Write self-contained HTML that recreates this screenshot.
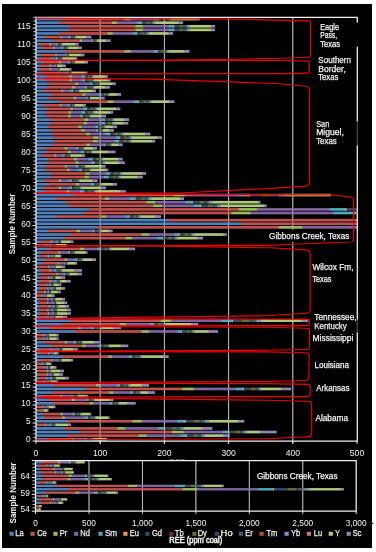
<!DOCTYPE html>
<html><head><meta charset="utf-8"><style>
html,body{margin:0;padding:0;background:#fff;}
body{width:376px;height:552px;overflow:hidden;}
svg{display:block;will-change:transform;}
</style></head><body>
<svg width="376" height="552" viewBox="0 0 376 552">
<defs><clipPath id="ct"><rect x="36" y="16" width="321.2" height="425"/></clipPath><clipPath id="cb"><rect x="35.6" y="460" width="320.6" height="51.2"/></clipPath></defs>
<rect x="0" y="0" width="376" height="552" fill="#fff"/>
<rect x="2" y="4" width="370" height="544" fill="#000"/>
<line x1="100.20" y1="17.3" x2="100.20" y2="443.8" stroke="#BFBFBF" stroke-width="1"/>
<line x1="164.40" y1="17.3" x2="164.40" y2="443.8" stroke="#BFBFBF" stroke-width="1"/>
<line x1="228.60" y1="17.3" x2="228.60" y2="443.8" stroke="#BFBFBF" stroke-width="1"/>
<line x1="292.80" y1="17.3" x2="292.80" y2="443.8" stroke="#BFBFBF" stroke-width="1"/>
<g clip-path="url(#ct)">
<rect x="36.00" y="437.87" width="11.80" height="2.66" fill="#4F81BD"/>
<rect x="47.40" y="437.87" width="24.90" height="2.66" fill="#C0504D"/>
<rect x="71.90" y="437.87" width="1.50" height="2.66" fill="#9BBB59"/>
<rect x="73.00" y="437.87" width="12.10" height="2.66" fill="#8064A2"/>
<rect x="84.70" y="437.87" width="2.26" height="2.66" fill="#4BACC6"/>
<rect x="86.56" y="437.87" width="0.83" height="2.66" fill="#F79646"/>
<rect x="86.98" y="437.87" width="2.26" height="2.66" fill="#2C4D75"/>
<rect x="88.84" y="437.87" width="0.67" height="2.66" fill="#772C2A"/>
<rect x="89.11" y="437.87" width="1.99" height="2.66" fill="#5F7530"/>
<rect x="90.70" y="437.87" width="0.72" height="2.66" fill="#4D3B62"/>
<rect x="91.02" y="437.87" width="1.36" height="2.66" fill="#276A7C"/>
<rect x="91.98" y="437.87" width="0.56" height="2.66" fill="#B65708"/>
<rect x="92.14" y="437.87" width="1.30" height="2.66" fill="#729ACA"/>
<rect x="93.04" y="437.87" width="0.56" height="2.66" fill="#CD7371"/>
<rect x="93.20" y="437.87" width="13.10" height="2.66" fill="#AFC97A"/>
<rect x="105.90" y="437.87" width="1.50" height="2.66" fill="#9983B5"/>
<rect x="36.00" y="434.28" width="32.30" height="2.66" fill="#4F81BD"/>
<rect x="67.90" y="434.28" width="71.00" height="2.66" fill="#C0504D"/>
<rect x="138.50" y="434.28" width="8.50" height="2.66" fill="#9BBB59"/>
<rect x="146.60" y="434.28" width="34.30" height="2.66" fill="#8064A2"/>
<rect x="180.50" y="434.28" width="5.76" height="2.66" fill="#4BACC6"/>
<rect x="185.86" y="434.28" width="1.62" height="2.66" fill="#F79646"/>
<rect x="187.08" y="434.28" width="5.76" height="2.66" fill="#2C4D75"/>
<rect x="192.44" y="434.28" width="1.17" height="2.66" fill="#772C2A"/>
<rect x="193.21" y="434.28" width="4.99" height="2.66" fill="#5F7530"/>
<rect x="197.80" y="434.28" width="1.32" height="2.66" fill="#4D3B62"/>
<rect x="198.72" y="434.28" width="3.16" height="2.66" fill="#276A7C"/>
<rect x="201.48" y="434.28" width="0.86" height="2.66" fill="#B65708"/>
<rect x="201.94" y="434.28" width="3.00" height="2.66" fill="#729ACA"/>
<rect x="204.54" y="434.28" width="0.86" height="2.66" fill="#CD7371"/>
<rect x="205.00" y="434.28" width="18.40" height="2.66" fill="#AFC97A"/>
<rect x="223.00" y="434.28" width="6.80" height="2.66" fill="#9983B5"/>
<rect x="36.00" y="430.69" width="44.60" height="2.66" fill="#4F81BD"/>
<rect x="80.20" y="430.69" width="92.20" height="2.66" fill="#C0504D"/>
<rect x="172.00" y="430.69" width="12.10" height="2.66" fill="#9BBB59"/>
<rect x="183.70" y="430.69" width="39.70" height="2.66" fill="#8064A2"/>
<rect x="223.00" y="430.69" width="5.65" height="2.66" fill="#4BACC6"/>
<rect x="228.25" y="430.69" width="1.60" height="2.66" fill="#F79646"/>
<rect x="229.45" y="430.69" width="5.65" height="2.66" fill="#2C4D75"/>
<rect x="234.70" y="430.69" width="1.15" height="2.66" fill="#772C2A"/>
<rect x="235.45" y="430.69" width="4.90" height="2.66" fill="#5F7530"/>
<rect x="239.95" y="430.69" width="1.30" height="2.66" fill="#4D3B62"/>
<rect x="240.85" y="430.69" width="3.10" height="2.66" fill="#276A7C"/>
<rect x="243.55" y="430.69" width="0.85" height="2.66" fill="#B65708"/>
<rect x="244.00" y="430.69" width="2.95" height="2.66" fill="#729ACA"/>
<rect x="246.55" y="430.69" width="0.85" height="2.66" fill="#CD7371"/>
<rect x="247.00" y="430.69" width="13.20" height="2.66" fill="#AFC97A"/>
<rect x="259.80" y="430.69" width="16.80" height="2.66" fill="#9983B5"/>
<rect x="36.00" y="427.10" width="28.30" height="2.66" fill="#4F81BD"/>
<rect x="63.90" y="427.10" width="53.80" height="2.66" fill="#C0504D"/>
<rect x="117.30" y="427.10" width="8.40" height="2.66" fill="#9BBB59"/>
<rect x="125.30" y="427.10" width="33.20" height="2.66" fill="#8064A2"/>
<rect x="158.10" y="427.10" width="6.13" height="2.66" fill="#4BACC6"/>
<rect x="163.83" y="427.10" width="1.71" height="2.66" fill="#F79646"/>
<rect x="165.14" y="427.10" width="6.13" height="2.66" fill="#2C4D75"/>
<rect x="170.87" y="427.10" width="1.22" height="2.66" fill="#772C2A"/>
<rect x="171.69" y="427.10" width="5.31" height="2.66" fill="#5F7530"/>
<rect x="176.60" y="427.10" width="1.38" height="2.66" fill="#4D3B62"/>
<rect x="177.59" y="427.10" width="3.35" height="2.66" fill="#276A7C"/>
<rect x="180.53" y="427.10" width="0.89" height="2.66" fill="#B65708"/>
<rect x="181.02" y="427.10" width="3.18" height="2.66" fill="#729ACA"/>
<rect x="183.81" y="427.10" width="0.89" height="2.66" fill="#CD7371"/>
<rect x="184.30" y="427.10" width="17.90" height="2.66" fill="#AFC97A"/>
<rect x="201.80" y="427.10" width="10.60" height="2.66" fill="#9983B5"/>
<rect x="36.00" y="423.51" width="2.00" height="2.66" fill="#4F81BD"/>
<rect x="37.60" y="423.51" width="7.60" height="2.66" fill="#C0504D"/>
<rect x="44.80" y="423.51" width="1.20" height="2.66" fill="#9BBB59"/>
<rect x="45.60" y="423.51" width="4.40" height="2.66" fill="#8064A2"/>
<rect x="49.60" y="423.51" width="1.78" height="2.66" fill="#4BACC6"/>
<rect x="50.98" y="423.51" width="0.71" height="2.66" fill="#F79646"/>
<rect x="51.29" y="423.51" width="1.78" height="2.66" fill="#2C4D75"/>
<rect x="52.67" y="423.51" width="0.60" height="2.66" fill="#772C2A"/>
<rect x="52.87" y="423.51" width="1.58" height="2.66" fill="#5F7530"/>
<rect x="54.05" y="423.51" width="0.64" height="2.66" fill="#4D3B62"/>
<rect x="54.29" y="423.51" width="1.11" height="2.66" fill="#276A7C"/>
<rect x="54.99" y="423.51" width="0.52" height="2.66" fill="#B65708"/>
<rect x="55.11" y="423.51" width="1.07" height="2.66" fill="#729ACA"/>
<rect x="55.78" y="423.51" width="0.52" height="2.66" fill="#CD7371"/>
<rect x="55.90" y="423.51" width="12.40" height="2.66" fill="#AFC97A"/>
<rect x="67.90" y="423.51" width="3.10" height="2.66" fill="#9983B5"/>
<rect x="36.00" y="419.92" width="32.30" height="2.66" fill="#4F81BD"/>
<rect x="67.90" y="419.92" width="64.70" height="2.66" fill="#C0504D"/>
<rect x="132.20" y="419.92" width="9.90" height="2.66" fill="#9BBB59"/>
<rect x="141.70" y="419.92" width="36.00" height="2.66" fill="#8064A2"/>
<rect x="177.30" y="419.92" width="7.38" height="2.66" fill="#4BACC6"/>
<rect x="184.28" y="419.92" width="2.00" height="2.66" fill="#F79646"/>
<rect x="185.87" y="419.92" width="7.38" height="2.66" fill="#2C4D75"/>
<rect x="192.85" y="419.92" width="1.40" height="2.66" fill="#772C2A"/>
<rect x="193.85" y="419.92" width="6.38" height="2.66" fill="#5F7530"/>
<rect x="199.83" y="419.92" width="1.60" height="2.66" fill="#4D3B62"/>
<rect x="201.03" y="419.92" width="3.99" height="2.66" fill="#276A7C"/>
<rect x="204.61" y="419.92" width="1.00" height="2.66" fill="#B65708"/>
<rect x="205.21" y="419.92" width="3.79" height="2.66" fill="#729ACA"/>
<rect x="208.60" y="419.92" width="1.00" height="2.66" fill="#CD7371"/>
<rect x="209.20" y="419.92" width="29.10" height="2.66" fill="#AFC97A"/>
<rect x="237.90" y="419.92" width="6.40" height="2.66" fill="#9983B5"/>
<rect x="36.00" y="416.33" width="8.40" height="2.66" fill="#4F81BD"/>
<rect x="44.00" y="416.33" width="18.40" height="2.66" fill="#C0504D"/>
<rect x="62.00" y="416.33" width="3.10" height="2.66" fill="#9BBB59"/>
<rect x="64.70" y="416.33" width="20.40" height="2.66" fill="#8064A2"/>
<rect x="84.70" y="416.33" width="2.87" height="2.66" fill="#4BACC6"/>
<rect x="87.17" y="416.33" width="0.97" height="2.66" fill="#F79646"/>
<rect x="87.74" y="416.33" width="2.87" height="2.66" fill="#2C4D75"/>
<rect x="90.21" y="416.33" width="0.75" height="2.66" fill="#772C2A"/>
<rect x="90.56" y="416.33" width="2.52" height="2.66" fill="#5F7530"/>
<rect x="92.68" y="416.33" width="0.82" height="2.66" fill="#4D3B62"/>
<rect x="93.10" y="416.33" width="1.67" height="2.66" fill="#276A7C"/>
<rect x="94.38" y="416.33" width="0.61" height="2.66" fill="#B65708"/>
<rect x="94.59" y="416.33" width="1.60" height="2.66" fill="#729ACA"/>
<rect x="95.79" y="416.33" width="0.61" height="2.66" fill="#CD7371"/>
<rect x="96.00" y="416.33" width="12.10" height="2.66" fill="#AFC97A"/>
<rect x="107.70" y="416.33" width="1.90" height="2.66" fill="#9983B5"/>
<rect x="36.00" y="412.74" width="6.30" height="2.66" fill="#4F81BD"/>
<rect x="41.90" y="412.74" width="18.90" height="2.66" fill="#C0504D"/>
<rect x="60.40" y="412.74" width="2.60" height="2.66" fill="#9BBB59"/>
<rect x="62.60" y="412.74" width="10.00" height="2.66" fill="#8064A2"/>
<rect x="72.20" y="412.74" width="2.43" height="2.66" fill="#4BACC6"/>
<rect x="74.23" y="412.74" width="0.87" height="2.66" fill="#F79646"/>
<rect x="74.70" y="412.74" width="2.43" height="2.66" fill="#2C4D75"/>
<rect x="76.73" y="412.74" width="0.69" height="2.66" fill="#772C2A"/>
<rect x="77.02" y="412.74" width="2.14" height="2.66" fill="#5F7530"/>
<rect x="78.77" y="412.74" width="0.75" height="2.66" fill="#4D3B62"/>
<rect x="79.12" y="412.74" width="1.45" height="2.66" fill="#276A7C"/>
<rect x="80.16" y="412.74" width="0.57" height="2.66" fill="#B65708"/>
<rect x="80.34" y="412.74" width="1.39" height="2.66" fill="#729ACA"/>
<rect x="81.33" y="412.74" width="0.57" height="2.66" fill="#CD7371"/>
<rect x="81.50" y="412.74" width="8.30" height="2.66" fill="#AFC97A"/>
<rect x="89.40" y="412.74" width="2.00" height="2.66" fill="#9983B5"/>
<rect x="36.00" y="409.15" width="1.50" height="2.66" fill="#4F81BD"/>
<rect x="37.10" y="409.15" width="4.90" height="2.66" fill="#C0504D"/>
<rect x="41.60" y="409.15" width="1.20" height="2.66" fill="#9BBB59"/>
<rect x="42.40" y="409.15" width="1.60" height="2.66" fill="#8064A2"/>
<rect x="43.60" y="409.15" width="0.49" height="2.66" fill="#4BACC6"/>
<rect x="43.69" y="409.15" width="0.42" height="2.66" fill="#F79646"/>
<rect x="43.71" y="409.15" width="0.49" height="2.66" fill="#2C4D75"/>
<rect x="43.80" y="409.15" width="0.41" height="2.66" fill="#772C2A"/>
<rect x="43.81" y="409.15" width="0.48" height="2.66" fill="#5F7530"/>
<rect x="43.88" y="409.15" width="0.41" height="2.66" fill="#4D3B62"/>
<rect x="43.90" y="409.15" width="0.45" height="2.66" fill="#276A7C"/>
<rect x="43.94" y="409.15" width="0.41" height="2.66" fill="#B65708"/>
<rect x="43.95" y="409.15" width="0.44" height="2.66" fill="#729ACA"/>
<rect x="43.99" y="409.15" width="0.41" height="2.66" fill="#CD7371"/>
<rect x="44.00" y="409.15" width="3.60" height="2.66" fill="#AFC97A"/>
<rect x="47.20" y="409.15" width="1.30" height="2.66" fill="#9983B5"/>
<rect x="36.00" y="405.56" width="2.00" height="2.66" fill="#4F81BD"/>
<rect x="37.60" y="405.56" width="5.20" height="2.66" fill="#C0504D"/>
<rect x="42.40" y="405.56" width="1.20" height="2.66" fill="#9BBB59"/>
<rect x="43.20" y="405.56" width="4.40" height="2.66" fill="#8064A2"/>
<rect x="47.20" y="405.56" width="0.75" height="2.66" fill="#4BACC6"/>
<rect x="47.55" y="405.56" width="0.48" height="2.66" fill="#F79646"/>
<rect x="47.63" y="405.56" width="0.75" height="2.66" fill="#2C4D75"/>
<rect x="47.98" y="405.56" width="0.45" height="2.66" fill="#772C2A"/>
<rect x="48.03" y="405.56" width="0.70" height="2.66" fill="#5F7530"/>
<rect x="48.33" y="405.56" width="0.46" height="2.66" fill="#4D3B62"/>
<rect x="48.39" y="405.56" width="0.58" height="2.66" fill="#276A7C"/>
<rect x="48.57" y="405.56" width="0.43" height="2.66" fill="#B65708"/>
<rect x="48.60" y="405.56" width="0.57" height="2.66" fill="#729ACA"/>
<rect x="48.77" y="405.56" width="0.43" height="2.66" fill="#CD7371"/>
<rect x="48.80" y="405.56" width="5.20" height="2.66" fill="#AFC97A"/>
<rect x="53.60" y="405.56" width="1.90" height="2.66" fill="#9983B5"/>
<rect x="36.00" y="401.97" width="18.40" height="2.66" fill="#4F81BD"/>
<rect x="54.00" y="401.97" width="35.80" height="2.66" fill="#C0504D"/>
<rect x="89.40" y="401.97" width="4.40" height="2.66" fill="#9BBB59"/>
<rect x="93.40" y="401.97" width="16.80" height="2.66" fill="#8064A2"/>
<rect x="109.80" y="401.97" width="2.50" height="2.66" fill="#4BACC6"/>
<rect x="111.90" y="401.97" width="0.88" height="2.66" fill="#F79646"/>
<rect x="112.38" y="401.97" width="2.50" height="2.66" fill="#2C4D75"/>
<rect x="114.48" y="401.97" width="0.70" height="2.66" fill="#772C2A"/>
<rect x="114.78" y="401.97" width="2.20" height="2.66" fill="#5F7530"/>
<rect x="116.58" y="401.97" width="0.76" height="2.66" fill="#4D3B62"/>
<rect x="116.94" y="401.97" width="1.48" height="2.66" fill="#276A7C"/>
<rect x="118.02" y="401.97" width="0.58" height="2.66" fill="#B65708"/>
<rect x="118.20" y="401.97" width="1.42" height="2.66" fill="#729ACA"/>
<rect x="119.22" y="401.97" width="0.58" height="2.66" fill="#CD7371"/>
<rect x="119.40" y="401.97" width="7.80" height="2.66" fill="#AFC97A"/>
<rect x="126.80" y="401.97" width="8.90" height="2.66" fill="#9983B5"/>
<rect x="36.00" y="398.38" width="12.00" height="2.66" fill="#4F81BD"/>
<rect x="47.60" y="398.38" width="24.70" height="2.66" fill="#C0504D"/>
<rect x="71.90" y="398.38" width="3.30" height="2.66" fill="#9BBB59"/>
<rect x="74.80" y="398.38" width="11.90" height="2.66" fill="#8064A2"/>
<rect x="86.30" y="398.38" width="2.28" height="2.66" fill="#4BACC6"/>
<rect x="88.18" y="398.38" width="0.83" height="2.66" fill="#F79646"/>
<rect x="88.61" y="398.38" width="2.28" height="2.66" fill="#2C4D75"/>
<rect x="90.49" y="398.38" width="0.67" height="2.66" fill="#772C2A"/>
<rect x="90.76" y="398.38" width="2.01" height="2.66" fill="#5F7530"/>
<rect x="92.37" y="398.38" width="0.72" height="2.66" fill="#4D3B62"/>
<rect x="92.70" y="398.38" width="1.37" height="2.66" fill="#276A7C"/>
<rect x="93.66" y="398.38" width="0.56" height="2.66" fill="#B65708"/>
<rect x="93.82" y="398.38" width="1.31" height="2.66" fill="#729ACA"/>
<rect x="94.74" y="398.38" width="0.56" height="2.66" fill="#CD7371"/>
<rect x="94.90" y="398.38" width="15.30" height="2.66" fill="#AFC97A"/>
<rect x="109.80" y="398.38" width="3.70" height="2.66" fill="#9983B5"/>
<rect x="36.00" y="394.79" width="7.30" height="2.66" fill="#4F81BD"/>
<rect x="42.90" y="394.79" width="17.90" height="2.66" fill="#C0504D"/>
<rect x="60.40" y="394.79" width="2.30" height="2.66" fill="#9BBB59"/>
<rect x="62.30" y="394.79" width="9.20" height="2.66" fill="#8064A2"/>
<rect x="71.10" y="394.79" width="1.98" height="2.66" fill="#4BACC6"/>
<rect x="72.67" y="394.79" width="0.76" height="2.66" fill="#F79646"/>
<rect x="73.03" y="394.79" width="1.98" height="2.66" fill="#2C4D75"/>
<rect x="74.61" y="394.79" width="0.62" height="2.66" fill="#772C2A"/>
<rect x="74.83" y="394.79" width="1.75" height="2.66" fill="#5F7530"/>
<rect x="76.18" y="394.79" width="0.67" height="2.66" fill="#4D3B62"/>
<rect x="76.45" y="394.79" width="1.21" height="2.66" fill="#276A7C"/>
<rect x="77.26" y="394.79" width="0.54" height="2.66" fill="#B65708"/>
<rect x="77.40" y="394.79" width="1.17" height="2.66" fill="#729ACA"/>
<rect x="78.16" y="394.79" width="0.54" height="2.66" fill="#CD7371"/>
<rect x="78.30" y="394.79" width="7.10" height="2.66" fill="#AFC97A"/>
<rect x="85.00" y="394.79" width="3.30" height="2.66" fill="#9983B5"/>
<rect x="36.00" y="391.20" width="16.80" height="2.66" fill="#4F81BD"/>
<rect x="52.40" y="391.20" width="57.20" height="2.66" fill="#C0504D"/>
<rect x="109.20" y="391.20" width="4.60" height="2.66" fill="#9BBB59"/>
<rect x="113.40" y="391.20" width="17.00" height="2.66" fill="#8064A2"/>
<rect x="130.00" y="391.20" width="2.83" height="2.66" fill="#4BACC6"/>
<rect x="132.43" y="391.20" width="0.96" height="2.66" fill="#F79646"/>
<rect x="132.98" y="391.20" width="2.83" height="2.66" fill="#2C4D75"/>
<rect x="135.41" y="391.20" width="0.75" height="2.66" fill="#772C2A"/>
<rect x="135.76" y="391.20" width="2.48" height="2.66" fill="#5F7530"/>
<rect x="137.84" y="391.20" width="0.82" height="2.66" fill="#4D3B62"/>
<rect x="138.26" y="391.20" width="1.65" height="2.66" fill="#276A7C"/>
<rect x="139.50" y="391.20" width="0.61" height="2.66" fill="#B65708"/>
<rect x="139.71" y="391.20" width="1.58" height="2.66" fill="#729ACA"/>
<rect x="140.89" y="391.20" width="0.61" height="2.66" fill="#CD7371"/>
<rect x="141.10" y="391.20" width="7.40" height="2.66" fill="#AFC97A"/>
<rect x="148.10" y="391.20" width="6.80" height="2.66" fill="#9983B5"/>
<rect x="36.00" y="387.61" width="49.90" height="2.66" fill="#4F81BD"/>
<rect x="85.50" y="387.61" width="97.50" height="2.66" fill="#C0504D"/>
<rect x="182.60" y="387.61" width="11.50" height="2.66" fill="#9BBB59"/>
<rect x="193.70" y="387.61" width="42.50" height="2.66" fill="#8064A2"/>
<rect x="235.80" y="387.61" width="7.40" height="2.66" fill="#4BACC6"/>
<rect x="242.80" y="387.61" width="1.70" height="2.66" fill="#F79646"/>
<rect x="244.10" y="387.61" width="5.90" height="2.66" fill="#2C4D75"/>
<rect x="249.60" y="387.61" width="1.90" height="2.66" fill="#772C2A"/>
<rect x="251.10" y="387.61" width="4.90" height="2.66" fill="#5F7530"/>
<rect x="255.60" y="387.61" width="1.40" height="2.66" fill="#4D3B62"/>
<rect x="256.60" y="387.61" width="2.40" height="2.66" fill="#276A7C"/>
<rect x="258.60" y="387.61" width="0.90" height="2.66" fill="#B65708"/>
<rect x="259.10" y="387.61" width="2.20" height="2.66" fill="#729ACA"/>
<rect x="260.90" y="387.61" width="20.60" height="2.66" fill="#AFC97A"/>
<rect x="281.10" y="387.61" width="10.00" height="2.66" fill="#9983B5"/>
<rect x="36.00" y="384.01" width="18.70" height="2.66" fill="#4F81BD"/>
<rect x="54.30" y="384.01" width="42.10" height="2.66" fill="#C0504D"/>
<rect x="96.00" y="384.01" width="4.60" height="2.66" fill="#9BBB59"/>
<rect x="100.20" y="384.01" width="16.40" height="2.66" fill="#8064A2"/>
<rect x="116.20" y="384.01" width="3.42" height="2.66" fill="#4BACC6"/>
<rect x="119.22" y="384.01" width="1.09" height="2.66" fill="#F79646"/>
<rect x="119.91" y="384.01" width="3.42" height="2.66" fill="#2C4D75"/>
<rect x="122.93" y="384.01" width="0.83" height="2.66" fill="#772C2A"/>
<rect x="123.36" y="384.01" width="2.99" height="2.66" fill="#5F7530"/>
<rect x="125.95" y="384.01" width="0.92" height="2.66" fill="#4D3B62"/>
<rect x="126.46" y="384.01" width="1.95" height="2.66" fill="#276A7C"/>
<rect x="128.02" y="384.01" width="0.66" height="2.66" fill="#B65708"/>
<rect x="128.27" y="384.01" width="1.87" height="2.66" fill="#729ACA"/>
<rect x="129.74" y="384.01" width="0.66" height="2.66" fill="#CD7371"/>
<rect x="130.00" y="384.01" width="12.10" height="2.66" fill="#AFC97A"/>
<rect x="141.70" y="384.01" width="7.40" height="2.66" fill="#9983B5"/>
<rect x="36.00" y="380.42" width="2.00" height="2.66" fill="#4F81BD"/>
<rect x="37.60" y="380.42" width="7.30" height="2.66" fill="#C0504D"/>
<rect x="44.50" y="380.42" width="1.10" height="2.66" fill="#9BBB59"/>
<rect x="45.20" y="380.42" width="3.20" height="2.66" fill="#8064A2"/>
<rect x="48.00" y="380.42" width="1.01" height="2.66" fill="#4BACC6"/>
<rect x="48.61" y="380.42" width="0.54" height="2.66" fill="#F79646"/>
<rect x="48.75" y="380.42" width="1.01" height="2.66" fill="#2C4D75"/>
<rect x="49.37" y="380.42" width="0.49" height="2.66" fill="#772C2A"/>
<rect x="49.45" y="380.42" width="0.92" height="2.66" fill="#5F7530"/>
<rect x="49.98" y="380.42" width="0.50" height="2.66" fill="#4D3B62"/>
<rect x="50.08" y="380.42" width="0.71" height="2.66" fill="#276A7C"/>
<rect x="50.40" y="380.42" width="0.45" height="2.66" fill="#B65708"/>
<rect x="50.45" y="380.42" width="0.70" height="2.66" fill="#729ACA"/>
<rect x="50.75" y="380.42" width="0.45" height="2.66" fill="#CD7371"/>
<rect x="50.80" y="380.42" width="5.50" height="2.66" fill="#AFC97A"/>
<rect x="55.90" y="380.42" width="2.40" height="2.66" fill="#9983B5"/>
<rect x="36.00" y="376.83" width="3.10" height="2.66" fill="#4F81BD"/>
<rect x="38.70" y="376.83" width="7.70" height="2.66" fill="#C0504D"/>
<rect x="46.00" y="376.83" width="1.10" height="2.66" fill="#9BBB59"/>
<rect x="46.70" y="376.83" width="4.10" height="2.66" fill="#8064A2"/>
<rect x="50.40" y="376.83" width="1.78" height="2.66" fill="#4BACC6"/>
<rect x="51.78" y="376.83" width="0.71" height="2.66" fill="#F79646"/>
<rect x="52.09" y="376.83" width="1.78" height="2.66" fill="#2C4D75"/>
<rect x="53.47" y="376.83" width="0.60" height="2.66" fill="#772C2A"/>
<rect x="53.67" y="376.83" width="1.58" height="2.66" fill="#5F7530"/>
<rect x="54.85" y="376.83" width="0.64" height="2.66" fill="#4D3B62"/>
<rect x="55.09" y="376.83" width="1.11" height="2.66" fill="#276A7C"/>
<rect x="55.79" y="376.83" width="0.52" height="2.66" fill="#B65708"/>
<rect x="55.91" y="376.83" width="1.07" height="2.66" fill="#729ACA"/>
<rect x="56.58" y="376.83" width="0.52" height="2.66" fill="#CD7371"/>
<rect x="56.70" y="376.83" width="8.40" height="2.66" fill="#AFC97A"/>
<rect x="64.70" y="376.83" width="4.10" height="2.66" fill="#9983B5"/>
<rect x="36.00" y="373.24" width="2.50" height="2.66" fill="#4F81BD"/>
<rect x="38.10" y="373.24" width="9.50" height="2.66" fill="#C0504D"/>
<rect x="47.20" y="373.24" width="1.20" height="2.66" fill="#9BBB59"/>
<rect x="48.00" y="373.24" width="2.80" height="2.66" fill="#8064A2"/>
<rect x="50.40" y="373.24" width="1.25" height="2.66" fill="#4BACC6"/>
<rect x="51.25" y="373.24" width="0.59" height="2.66" fill="#F79646"/>
<rect x="51.45" y="373.24" width="1.25" height="2.66" fill="#2C4D75"/>
<rect x="52.30" y="373.24" width="0.52" height="2.66" fill="#772C2A"/>
<rect x="52.42" y="373.24" width="1.13" height="2.66" fill="#5F7530"/>
<rect x="53.15" y="373.24" width="0.55" height="2.66" fill="#4D3B62"/>
<rect x="53.30" y="373.24" width="0.84" height="2.66" fill="#276A7C"/>
<rect x="53.74" y="373.24" width="0.47" height="2.66" fill="#B65708"/>
<rect x="53.81" y="373.24" width="0.81" height="2.66" fill="#729ACA"/>
<rect x="54.23" y="373.24" width="0.47" height="2.66" fill="#CD7371"/>
<rect x="54.30" y="373.24" width="5.20" height="2.66" fill="#AFC97A"/>
<rect x="59.10" y="373.24" width="3.90" height="2.66" fill="#9983B5"/>
<rect x="36.00" y="369.65" width="2.00" height="2.66" fill="#4F81BD"/>
<rect x="37.60" y="369.65" width="9.50" height="2.66" fill="#C0504D"/>
<rect x="46.70" y="369.65" width="1.30" height="2.66" fill="#9BBB59"/>
<rect x="47.60" y="369.65" width="3.20" height="2.66" fill="#8064A2"/>
<rect x="50.40" y="369.65" width="0.64" height="2.66" fill="#4BACC6"/>
<rect x="50.64" y="369.65" width="0.45" height="2.66" fill="#F79646"/>
<rect x="50.70" y="369.65" width="0.64" height="2.66" fill="#2C4D75"/>
<rect x="50.94" y="369.65" width="0.43" height="2.66" fill="#772C2A"/>
<rect x="50.97" y="369.65" width="0.61" height="2.66" fill="#5F7530"/>
<rect x="51.18" y="369.65" width="0.44" height="2.66" fill="#4D3B62"/>
<rect x="51.22" y="369.65" width="0.52" height="2.66" fill="#276A7C"/>
<rect x="51.34" y="369.65" width="0.42" height="2.66" fill="#B65708"/>
<rect x="51.36" y="369.65" width="0.52" height="2.66" fill="#729ACA"/>
<rect x="51.48" y="369.65" width="0.42" height="2.66" fill="#CD7371"/>
<rect x="51.50" y="369.65" width="8.80" height="2.66" fill="#AFC97A"/>
<rect x="59.90" y="369.65" width="4.10" height="2.66" fill="#9983B5"/>
<rect x="36.00" y="366.06" width="1.80" height="2.66" fill="#4F81BD"/>
<rect x="37.40" y="366.06" width="6.60" height="2.66" fill="#C0504D"/>
<rect x="43.60" y="366.06" width="1.10" height="2.66" fill="#9BBB59"/>
<rect x="44.30" y="366.06" width="3.20" height="2.66" fill="#8064A2"/>
<rect x="47.10" y="366.06" width="1.17" height="2.66" fill="#4BACC6"/>
<rect x="47.87" y="366.06" width="0.57" height="2.66" fill="#F79646"/>
<rect x="48.04" y="366.06" width="1.17" height="2.66" fill="#2C4D75"/>
<rect x="48.81" y="366.06" width="0.51" height="2.66" fill="#772C2A"/>
<rect x="48.92" y="366.06" width="1.06" height="2.66" fill="#5F7530"/>
<rect x="49.57" y="366.06" width="0.53" height="2.66" fill="#4D3B62"/>
<rect x="49.70" y="366.06" width="0.79" height="2.66" fill="#276A7C"/>
<rect x="50.10" y="366.06" width="0.47" height="2.66" fill="#B65708"/>
<rect x="50.16" y="366.06" width="0.77" height="2.66" fill="#729ACA"/>
<rect x="50.53" y="366.06" width="0.47" height="2.66" fill="#CD7371"/>
<rect x="50.60" y="366.06" width="3.80" height="2.66" fill="#AFC97A"/>
<rect x="54.00" y="366.06" width="2.50" height="2.66" fill="#9983B5"/>
<rect x="36.00" y="362.47" width="1.50" height="2.66" fill="#4F81BD"/>
<rect x="37.10" y="362.47" width="4.90" height="2.66" fill="#C0504D"/>
<rect x="41.60" y="362.47" width="1.20" height="2.66" fill="#9BBB59"/>
<rect x="42.40" y="362.47" width="2.50" height="2.66" fill="#8064A2"/>
<rect x="44.50" y="362.47" width="0.88" height="2.66" fill="#4BACC6"/>
<rect x="44.98" y="362.47" width="0.51" height="2.66" fill="#F79646"/>
<rect x="45.09" y="362.47" width="0.88" height="2.66" fill="#2C4D75"/>
<rect x="45.57" y="362.47" width="0.47" height="2.66" fill="#772C2A"/>
<rect x="45.64" y="362.47" width="0.81" height="2.66" fill="#5F7530"/>
<rect x="46.05" y="362.47" width="0.48" height="2.66" fill="#4D3B62"/>
<rect x="46.14" y="362.47" width="0.65" height="2.66" fill="#276A7C"/>
<rect x="46.38" y="362.47" width="0.44" height="2.66" fill="#B65708"/>
<rect x="46.43" y="362.47" width="0.63" height="2.66" fill="#729ACA"/>
<rect x="46.66" y="362.47" width="0.44" height="2.66" fill="#CD7371"/>
<rect x="46.70" y="362.47" width="3.30" height="2.66" fill="#AFC97A"/>
<rect x="49.60" y="362.47" width="2.00" height="2.66" fill="#9983B5"/>
<rect x="36.00" y="358.88" width="5.20" height="2.66" fill="#4F81BD"/>
<rect x="40.80" y="358.88" width="10.80" height="2.66" fill="#C0504D"/>
<rect x="51.20" y="358.88" width="1.60" height="2.66" fill="#9BBB59"/>
<rect x="52.40" y="358.88" width="5.20" height="2.66" fill="#8064A2"/>
<rect x="57.20" y="358.88" width="1.45" height="2.66" fill="#4BACC6"/>
<rect x="58.25" y="358.88" width="0.64" height="2.66" fill="#F79646"/>
<rect x="58.49" y="358.88" width="1.45" height="2.66" fill="#2C4D75"/>
<rect x="59.54" y="358.88" width="0.55" height="2.66" fill="#772C2A"/>
<rect x="59.69" y="358.88" width="1.30" height="2.66" fill="#5F7530"/>
<rect x="60.59" y="358.88" width="0.58" height="2.66" fill="#4D3B62"/>
<rect x="60.77" y="358.88" width="0.94" height="2.66" fill="#276A7C"/>
<rect x="61.31" y="358.88" width="0.49" height="2.66" fill="#B65708"/>
<rect x="61.40" y="358.88" width="0.91" height="2.66" fill="#729ACA"/>
<rect x="61.91" y="358.88" width="0.49" height="2.66" fill="#CD7371"/>
<rect x="62.00" y="358.88" width="9.00" height="2.66" fill="#AFC97A"/>
<rect x="70.60" y="358.88" width="2.50" height="2.66" fill="#9983B5"/>
<rect x="36.00" y="355.29" width="27.00" height="2.66" fill="#4F81BD"/>
<rect x="62.60" y="355.29" width="46.10" height="2.66" fill="#C0504D"/>
<rect x="108.30" y="355.29" width="4.00" height="2.66" fill="#9BBB59"/>
<rect x="111.90" y="355.29" width="16.80" height="2.66" fill="#8064A2"/>
<rect x="128.30" y="355.29" width="3.33" height="2.66" fill="#4BACC6"/>
<rect x="131.23" y="355.29" width="1.07" height="2.66" fill="#F79646"/>
<rect x="131.90" y="355.29" width="3.33" height="2.66" fill="#2C4D75"/>
<rect x="134.83" y="355.29" width="0.82" height="2.66" fill="#772C2A"/>
<rect x="135.25" y="355.29" width="2.91" height="2.66" fill="#5F7530"/>
<rect x="137.76" y="355.29" width="0.90" height="2.66" fill="#4D3B62"/>
<rect x="138.27" y="355.29" width="1.91" height="2.66" fill="#276A7C"/>
<rect x="139.77" y="355.29" width="0.65" height="2.66" fill="#B65708"/>
<rect x="140.02" y="355.29" width="1.82" height="2.66" fill="#729ACA"/>
<rect x="141.45" y="355.29" width="0.65" height="2.66" fill="#CD7371"/>
<rect x="141.70" y="355.29" width="21.70" height="2.66" fill="#AFC97A"/>
<rect x="163.00" y="355.29" width="5.70" height="2.66" fill="#9983B5"/>
<rect x="36.00" y="351.70" width="4.40" height="2.66" fill="#4F81BD"/>
<rect x="40.00" y="351.70" width="8.40" height="2.66" fill="#C0504D"/>
<rect x="48.00" y="351.70" width="1.20" height="2.66" fill="#9BBB59"/>
<rect x="48.80" y="351.70" width="4.00" height="2.66" fill="#8064A2"/>
<rect x="52.40" y="351.70" width="0.75" height="2.66" fill="#4BACC6"/>
<rect x="52.75" y="351.70" width="0.48" height="2.66" fill="#F79646"/>
<rect x="52.83" y="351.70" width="0.75" height="2.66" fill="#2C4D75"/>
<rect x="53.18" y="351.70" width="0.45" height="2.66" fill="#772C2A"/>
<rect x="53.23" y="351.70" width="0.70" height="2.66" fill="#5F7530"/>
<rect x="53.53" y="351.70" width="0.46" height="2.66" fill="#4D3B62"/>
<rect x="53.59" y="351.70" width="0.58" height="2.66" fill="#276A7C"/>
<rect x="53.77" y="351.70" width="0.43" height="2.66" fill="#B65708"/>
<rect x="53.80" y="351.70" width="0.57" height="2.66" fill="#729ACA"/>
<rect x="53.97" y="351.70" width="0.43" height="2.66" fill="#CD7371"/>
<rect x="54.00" y="351.70" width="3.10" height="2.66" fill="#AFC97A"/>
<rect x="56.70" y="351.70" width="2.00" height="2.66" fill="#9983B5"/>
<rect x="36.00" y="348.11" width="4.40" height="2.66" fill="#4F81BD"/>
<rect x="40.00" y="348.11" width="11.20" height="2.66" fill="#C0504D"/>
<rect x="50.80" y="348.11" width="1.10" height="2.66" fill="#9BBB59"/>
<rect x="51.50" y="348.11" width="6.10" height="2.66" fill="#8064A2"/>
<rect x="57.20" y="348.11" width="1.69" height="2.66" fill="#4BACC6"/>
<rect x="58.49" y="348.11" width="0.70" height="2.66" fill="#F79646"/>
<rect x="58.79" y="348.11" width="1.69" height="2.66" fill="#2C4D75"/>
<rect x="60.08" y="348.11" width="0.58" height="2.66" fill="#772C2A"/>
<rect x="60.26" y="348.11" width="1.51" height="2.66" fill="#5F7530"/>
<rect x="61.37" y="348.11" width="0.62" height="2.66" fill="#4D3B62"/>
<rect x="61.59" y="348.11" width="1.06" height="2.66" fill="#276A7C"/>
<rect x="62.25" y="348.11" width="0.51" height="2.66" fill="#B65708"/>
<rect x="62.36" y="348.11" width="1.03" height="2.66" fill="#729ACA"/>
<rect x="62.99" y="348.11" width="0.51" height="2.66" fill="#CD7371"/>
<rect x="63.10" y="348.11" width="10.00" height="2.66" fill="#AFC97A"/>
<rect x="72.70" y="348.11" width="5.20" height="2.66" fill="#9983B5"/>
<rect x="36.00" y="344.52" width="15.20" height="2.66" fill="#4F81BD"/>
<rect x="50.80" y="344.52" width="31.90" height="2.66" fill="#C0504D"/>
<rect x="82.30" y="344.52" width="3.60" height="2.66" fill="#9BBB59"/>
<rect x="85.50" y="344.52" width="13.00" height="2.66" fill="#8064A2"/>
<rect x="98.10" y="344.52" width="2.96" height="2.66" fill="#4BACC6"/>
<rect x="100.66" y="344.52" width="0.98" height="2.66" fill="#F79646"/>
<rect x="101.24" y="344.52" width="2.96" height="2.66" fill="#2C4D75"/>
<rect x="103.80" y="344.52" width="0.77" height="2.66" fill="#772C2A"/>
<rect x="104.17" y="344.52" width="2.59" height="2.66" fill="#5F7530"/>
<rect x="106.36" y="344.52" width="0.84" height="2.66" fill="#4D3B62"/>
<rect x="106.80" y="344.52" width="1.72" height="2.66" fill="#276A7C"/>
<rect x="108.12" y="344.52" width="0.62" height="2.66" fill="#B65708"/>
<rect x="108.34" y="344.52" width="1.64" height="2.66" fill="#729ACA"/>
<rect x="109.58" y="344.52" width="0.62" height="2.66" fill="#CD7371"/>
<rect x="109.80" y="344.52" width="11.10" height="2.66" fill="#AFC97A"/>
<rect x="120.50" y="344.52" width="7.80" height="2.66" fill="#9983B5"/>
<rect x="36.00" y="340.93" width="8.90" height="2.66" fill="#4F81BD"/>
<rect x="44.50" y="340.93" width="20.60" height="2.66" fill="#C0504D"/>
<rect x="64.70" y="340.93" width="2.50" height="2.66" fill="#9BBB59"/>
<rect x="66.80" y="340.93" width="7.10" height="2.66" fill="#8064A2"/>
<rect x="73.50" y="340.93" width="2.50" height="2.66" fill="#4BACC6"/>
<rect x="75.60" y="340.93" width="0.88" height="2.66" fill="#F79646"/>
<rect x="76.08" y="340.93" width="2.50" height="2.66" fill="#2C4D75"/>
<rect x="78.18" y="340.93" width="0.70" height="2.66" fill="#772C2A"/>
<rect x="78.48" y="340.93" width="2.20" height="2.66" fill="#5F7530"/>
<rect x="80.28" y="340.93" width="0.76" height="2.66" fill="#4D3B62"/>
<rect x="80.64" y="340.93" width="1.48" height="2.66" fill="#276A7C"/>
<rect x="81.72" y="340.93" width="0.58" height="2.66" fill="#B65708"/>
<rect x="81.90" y="340.93" width="1.42" height="2.66" fill="#729ACA"/>
<rect x="82.92" y="340.93" width="0.58" height="2.66" fill="#CD7371"/>
<rect x="83.10" y="340.93" width="11.20" height="2.66" fill="#AFC97A"/>
<rect x="93.90" y="340.93" width="5.70" height="2.66" fill="#9983B5"/>
<rect x="36.00" y="337.34" width="1.50" height="2.66" fill="#4F81BD"/>
<rect x="37.10" y="337.34" width="6.80" height="2.66" fill="#C0504D"/>
<rect x="43.50" y="337.34" width="1.20" height="2.66" fill="#9BBB59"/>
<rect x="44.30" y="337.34" width="3.30" height="2.66" fill="#8064A2"/>
<rect x="47.20" y="337.34" width="0.99" height="2.66" fill="#4BACC6"/>
<rect x="47.79" y="337.34" width="0.53" height="2.66" fill="#F79646"/>
<rect x="47.93" y="337.34" width="0.99" height="2.66" fill="#2C4D75"/>
<rect x="48.52" y="337.34" width="0.48" height="2.66" fill="#772C2A"/>
<rect x="48.60" y="337.34" width="0.91" height="2.66" fill="#5F7530"/>
<rect x="49.11" y="337.34" width="0.50" height="2.66" fill="#4D3B62"/>
<rect x="49.21" y="337.34" width="0.70" height="2.66" fill="#276A7C"/>
<rect x="49.51" y="337.34" width="0.45" height="2.66" fill="#B65708"/>
<rect x="49.56" y="337.34" width="0.69" height="2.66" fill="#729ACA"/>
<rect x="49.85" y="337.34" width="0.45" height="2.66" fill="#CD7371"/>
<rect x="49.90" y="337.34" width="6.40" height="2.66" fill="#AFC97A"/>
<rect x="55.90" y="337.34" width="2.80" height="2.66" fill="#9983B5"/>
<rect x="36.00" y="333.75" width="1.20" height="2.66" fill="#4F81BD"/>
<rect x="36.80" y="333.75" width="6.50" height="2.66" fill="#C0504D"/>
<rect x="42.90" y="333.75" width="1.10" height="2.66" fill="#9BBB59"/>
<rect x="43.60" y="333.75" width="3.20" height="2.66" fill="#8064A2"/>
<rect x="46.40" y="333.75" width="1.10" height="2.66" fill="#4BACC6"/>
<rect x="47.10" y="333.75" width="0.56" height="2.66" fill="#F79646"/>
<rect x="47.26" y="333.75" width="1.10" height="2.66" fill="#2C4D75"/>
<rect x="47.96" y="333.75" width="0.50" height="2.66" fill="#772C2A"/>
<rect x="48.06" y="333.75" width="1.00" height="2.66" fill="#5F7530"/>
<rect x="48.66" y="333.75" width="0.52" height="2.66" fill="#4D3B62"/>
<rect x="48.78" y="333.75" width="0.76" height="2.66" fill="#276A7C"/>
<rect x="49.14" y="333.75" width="0.46" height="2.66" fill="#B65708"/>
<rect x="49.20" y="333.75" width="0.74" height="2.66" fill="#729ACA"/>
<rect x="49.54" y="333.75" width="0.46" height="2.66" fill="#CD7371"/>
<rect x="49.60" y="333.75" width="6.70" height="2.66" fill="#AFC97A"/>
<rect x="55.90" y="333.75" width="2.80" height="2.66" fill="#9983B5"/>
<rect x="36.00" y="330.15" width="39.20" height="2.66" fill="#4F81BD"/>
<rect x="74.80" y="330.15" width="67.30" height="2.66" fill="#C0504D"/>
<rect x="141.70" y="330.15" width="7.90" height="2.66" fill="#9BBB59"/>
<rect x="149.20" y="330.15" width="28.90" height="2.66" fill="#8064A2"/>
<rect x="177.70" y="330.15" width="4.12" height="2.66" fill="#4BACC6"/>
<rect x="181.42" y="330.15" width="1.25" height="2.66" fill="#F79646"/>
<rect x="182.27" y="330.15" width="4.12" height="2.66" fill="#2C4D75"/>
<rect x="185.99" y="330.15" width="0.93" height="2.66" fill="#772C2A"/>
<rect x="186.52" y="330.15" width="3.59" height="2.66" fill="#5F7530"/>
<rect x="189.71" y="330.15" width="1.04" height="2.66" fill="#4D3B62"/>
<rect x="190.34" y="330.15" width="2.31" height="2.66" fill="#276A7C"/>
<rect x="192.26" y="330.15" width="0.72" height="2.66" fill="#B65708"/>
<rect x="192.57" y="330.15" width="2.21" height="2.66" fill="#729ACA"/>
<rect x="194.38" y="330.15" width="0.72" height="2.66" fill="#CD7371"/>
<rect x="194.70" y="330.15" width="14.20" height="2.66" fill="#AFC97A"/>
<rect x="208.50" y="330.15" width="9.40" height="2.66" fill="#9983B5"/>
<rect x="36.00" y="326.56" width="14.80" height="2.66" fill="#4F81BD"/>
<rect x="50.40" y="326.56" width="28.30" height="2.66" fill="#C0504D"/>
<rect x="78.30" y="326.56" width="2.80" height="2.66" fill="#9BBB59"/>
<rect x="80.70" y="326.56" width="10.70" height="2.66" fill="#8064A2"/>
<rect x="91.00" y="326.56" width="2.65" height="2.66" fill="#4BACC6"/>
<rect x="93.25" y="326.56" width="0.92" height="2.66" fill="#F79646"/>
<rect x="93.77" y="326.56" width="2.65" height="2.66" fill="#2C4D75"/>
<rect x="96.02" y="326.56" width="0.72" height="2.66" fill="#772C2A"/>
<rect x="96.34" y="326.56" width="2.33" height="2.66" fill="#5F7530"/>
<rect x="98.27" y="326.56" width="0.79" height="2.66" fill="#4D3B62"/>
<rect x="98.66" y="326.56" width="1.56" height="2.66" fill="#276A7C"/>
<rect x="99.82" y="326.56" width="0.59" height="2.66" fill="#B65708"/>
<rect x="100.01" y="326.56" width="1.49" height="2.66" fill="#729ACA"/>
<rect x="101.11" y="326.56" width="0.59" height="2.66" fill="#CD7371"/>
<rect x="101.30" y="326.56" width="12.10" height="2.66" fill="#AFC97A"/>
<rect x="113.00" y="326.56" width="7.90" height="2.66" fill="#9983B5"/>
<rect x="36.00" y="322.97" width="27.50" height="2.66" fill="#4F81BD"/>
<rect x="63.10" y="322.97" width="56.70" height="2.66" fill="#C0504D"/>
<rect x="119.40" y="322.97" width="6.80" height="2.66" fill="#9BBB59"/>
<rect x="125.80" y="322.97" width="23.80" height="2.66" fill="#8064A2"/>
<rect x="149.20" y="322.97" width="4.08" height="2.66" fill="#4BACC6"/>
<rect x="152.88" y="322.97" width="1.24" height="2.66" fill="#F79646"/>
<rect x="153.72" y="322.97" width="4.08" height="2.66" fill="#2C4D75"/>
<rect x="157.39" y="322.97" width="0.93" height="2.66" fill="#772C2A"/>
<rect x="157.92" y="322.97" width="3.55" height="2.66" fill="#5F7530"/>
<rect x="161.07" y="322.97" width="1.03" height="2.66" fill="#4D3B62"/>
<rect x="161.70" y="322.97" width="2.29" height="2.66" fill="#276A7C"/>
<rect x="163.59" y="322.97" width="0.72" height="2.66" fill="#B65708"/>
<rect x="163.90" y="322.97" width="2.19" height="2.66" fill="#729ACA"/>
<rect x="165.69" y="322.97" width="0.72" height="2.66" fill="#CD7371"/>
<rect x="166.00" y="322.97" width="25.50" height="2.66" fill="#AFC97A"/>
<rect x="191.10" y="322.97" width="7.20" height="2.66" fill="#9983B5"/>
<rect x="36.00" y="319.38" width="35.50" height="2.66" fill="#4F81BD"/>
<rect x="71.10" y="319.38" width="90.20" height="2.66" fill="#C0504D"/>
<rect x="160.90" y="319.38" width="10.80" height="2.66" fill="#9BBB59"/>
<rect x="171.30" y="319.38" width="50.40" height="2.66" fill="#8064A2"/>
<rect x="221.30" y="319.38" width="11.00" height="2.66" fill="#4BACC6"/>
<rect x="231.90" y="319.38" width="1.50" height="2.66" fill="#F79646"/>
<rect x="233.00" y="319.38" width="7.00" height="2.66" fill="#2C4D75"/>
<rect x="239.60" y="319.38" width="2.40" height="2.66" fill="#772C2A"/>
<rect x="241.60" y="319.38" width="8.40" height="2.66" fill="#5F7530"/>
<rect x="249.60" y="319.38" width="2.40" height="2.66" fill="#4D3B62"/>
<rect x="251.60" y="319.38" width="4.40" height="2.66" fill="#276A7C"/>
<rect x="255.60" y="319.38" width="1.40" height="2.66" fill="#B65708"/>
<rect x="256.60" y="319.38" width="4.90" height="2.66" fill="#729ACA"/>
<rect x="261.10" y="319.38" width="40.90" height="2.66" fill="#AFC97A"/>
<rect x="301.60" y="319.38" width="6.70" height="2.66" fill="#9983B5"/>
<rect x="36.00" y="315.79" width="3.60" height="2.66" fill="#4F81BD"/>
<rect x="39.20" y="315.79" width="8.80" height="2.66" fill="#C0504D"/>
<rect x="47.60" y="315.79" width="1.10" height="2.66" fill="#9BBB59"/>
<rect x="48.30" y="315.79" width="4.50" height="2.66" fill="#8064A2"/>
<rect x="52.40" y="315.79" width="1.17" height="2.66" fill="#4BACC6"/>
<rect x="53.17" y="315.79" width="0.57" height="2.66" fill="#F79646"/>
<rect x="53.34" y="315.79" width="1.17" height="2.66" fill="#2C4D75"/>
<rect x="54.11" y="315.79" width="0.51" height="2.66" fill="#772C2A"/>
<rect x="54.22" y="315.79" width="1.06" height="2.66" fill="#5F7530"/>
<rect x="54.87" y="315.79" width="0.53" height="2.66" fill="#4D3B62"/>
<rect x="55.00" y="315.79" width="0.79" height="2.66" fill="#276A7C"/>
<rect x="55.40" y="315.79" width="0.47" height="2.66" fill="#B65708"/>
<rect x="55.46" y="315.79" width="0.77" height="2.66" fill="#729ACA"/>
<rect x="55.83" y="315.79" width="0.47" height="2.66" fill="#CD7371"/>
<rect x="55.90" y="315.79" width="7.60" height="2.66" fill="#AFC97A"/>
<rect x="63.10" y="315.79" width="4.10" height="2.66" fill="#9983B5"/>
<rect x="36.00" y="312.20" width="4.10" height="2.66" fill="#4F81BD"/>
<rect x="39.70" y="312.20" width="8.70" height="2.66" fill="#C0504D"/>
<rect x="48.00" y="312.20" width="1.20" height="2.66" fill="#9BBB59"/>
<rect x="48.80" y="312.20" width="4.30" height="2.66" fill="#8064A2"/>
<rect x="52.70" y="312.20" width="1.47" height="2.66" fill="#4BACC6"/>
<rect x="53.77" y="312.20" width="0.64" height="2.66" fill="#F79646"/>
<rect x="54.02" y="312.20" width="1.47" height="2.66" fill="#2C4D75"/>
<rect x="55.09" y="312.20" width="0.55" height="2.66" fill="#772C2A"/>
<rect x="55.24" y="312.20" width="1.32" height="2.66" fill="#5F7530"/>
<rect x="56.16" y="312.20" width="0.58" height="2.66" fill="#4D3B62"/>
<rect x="56.34" y="312.20" width="0.95" height="2.66" fill="#276A7C"/>
<rect x="56.90" y="312.20" width="0.49" height="2.66" fill="#B65708"/>
<rect x="56.99" y="312.20" width="0.92" height="2.66" fill="#729ACA"/>
<rect x="57.51" y="312.20" width="0.49" height="2.66" fill="#CD7371"/>
<rect x="57.60" y="312.20" width="9.90" height="2.66" fill="#AFC97A"/>
<rect x="67.10" y="312.20" width="3.90" height="2.66" fill="#9983B5"/>
<rect x="36.00" y="308.61" width="4.10" height="2.66" fill="#4F81BD"/>
<rect x="39.70" y="308.61" width="7.90" height="2.66" fill="#C0504D"/>
<rect x="47.20" y="308.61" width="1.20" height="2.66" fill="#9BBB59"/>
<rect x="48.00" y="308.61" width="4.30" height="2.66" fill="#8064A2"/>
<rect x="51.90" y="308.61" width="1.65" height="2.66" fill="#4BACC6"/>
<rect x="53.15" y="308.61" width="0.68" height="2.66" fill="#F79646"/>
<rect x="53.43" y="308.61" width="1.65" height="2.66" fill="#2C4D75"/>
<rect x="54.68" y="308.61" width="0.58" height="2.66" fill="#772C2A"/>
<rect x="54.86" y="308.61" width="1.47" height="2.66" fill="#5F7530"/>
<rect x="55.93" y="308.61" width="0.61" height="2.66" fill="#4D3B62"/>
<rect x="56.14" y="308.61" width="1.04" height="2.66" fill="#276A7C"/>
<rect x="56.78" y="308.61" width="0.51" height="2.66" fill="#B65708"/>
<rect x="56.89" y="308.61" width="1.01" height="2.66" fill="#729ACA"/>
<rect x="57.49" y="308.61" width="0.51" height="2.66" fill="#CD7371"/>
<rect x="57.60" y="308.61" width="9.60" height="2.66" fill="#AFC97A"/>
<rect x="66.80" y="308.61" width="4.20" height="2.66" fill="#9983B5"/>
<rect x="36.00" y="305.02" width="4.10" height="2.66" fill="#4F81BD"/>
<rect x="39.70" y="305.02" width="9.50" height="2.66" fill="#C0504D"/>
<rect x="48.80" y="305.02" width="1.20" height="2.66" fill="#9BBB59"/>
<rect x="49.60" y="305.02" width="4.30" height="2.66" fill="#8064A2"/>
<rect x="53.50" y="305.02" width="1.45" height="2.66" fill="#4BACC6"/>
<rect x="54.55" y="305.02" width="0.64" height="2.66" fill="#F79646"/>
<rect x="54.79" y="305.02" width="1.45" height="2.66" fill="#2C4D75"/>
<rect x="55.84" y="305.02" width="0.55" height="2.66" fill="#772C2A"/>
<rect x="55.99" y="305.02" width="1.30" height="2.66" fill="#5F7530"/>
<rect x="56.89" y="305.02" width="0.58" height="2.66" fill="#4D3B62"/>
<rect x="57.07" y="305.02" width="0.94" height="2.66" fill="#276A7C"/>
<rect x="57.61" y="305.02" width="0.49" height="2.66" fill="#B65708"/>
<rect x="57.70" y="305.02" width="0.91" height="2.66" fill="#729ACA"/>
<rect x="58.21" y="305.02" width="0.49" height="2.66" fill="#CD7371"/>
<rect x="58.30" y="305.02" width="7.60" height="2.66" fill="#AFC97A"/>
<rect x="65.50" y="305.02" width="3.60" height="2.66" fill="#9983B5"/>
<rect x="36.00" y="301.43" width="3.60" height="2.66" fill="#4F81BD"/>
<rect x="39.20" y="301.43" width="8.40" height="2.66" fill="#C0504D"/>
<rect x="47.20" y="301.43" width="1.20" height="2.66" fill="#9BBB59"/>
<rect x="48.00" y="301.43" width="5.10" height="2.66" fill="#8064A2"/>
<rect x="52.70" y="301.43" width="1.27" height="2.66" fill="#4BACC6"/>
<rect x="53.58" y="301.43" width="0.60" height="2.66" fill="#F79646"/>
<rect x="53.78" y="301.43" width="1.27" height="2.66" fill="#2C4D75"/>
<rect x="54.65" y="301.43" width="0.52" height="2.66" fill="#772C2A"/>
<rect x="54.78" y="301.43" width="1.15" height="2.66" fill="#5F7530"/>
<rect x="55.53" y="301.43" width="0.55" height="2.66" fill="#4D3B62"/>
<rect x="55.68" y="301.43" width="0.85" height="2.66" fill="#276A7C"/>
<rect x="56.13" y="301.43" width="0.48" height="2.66" fill="#B65708"/>
<rect x="56.20" y="301.43" width="0.82" height="2.66" fill="#729ACA"/>
<rect x="56.63" y="301.43" width="0.48" height="2.66" fill="#CD7371"/>
<rect x="56.70" y="301.43" width="7.60" height="2.66" fill="#AFC97A"/>
<rect x="63.90" y="301.43" width="3.30" height="2.66" fill="#9983B5"/>
<rect x="36.00" y="297.84" width="3.60" height="2.66" fill="#4F81BD"/>
<rect x="39.20" y="297.84" width="8.40" height="2.66" fill="#C0504D"/>
<rect x="47.20" y="297.84" width="1.20" height="2.66" fill="#9BBB59"/>
<rect x="48.00" y="297.84" width="4.30" height="2.66" fill="#8064A2"/>
<rect x="51.90" y="297.84" width="1.27" height="2.66" fill="#4BACC6"/>
<rect x="52.77" y="297.84" width="0.60" height="2.66" fill="#F79646"/>
<rect x="52.98" y="297.84" width="1.27" height="2.66" fill="#2C4D75"/>
<rect x="53.85" y="297.84" width="0.52" height="2.66" fill="#772C2A"/>
<rect x="53.98" y="297.84" width="1.15" height="2.66" fill="#5F7530"/>
<rect x="54.73" y="297.84" width="0.55" height="2.66" fill="#4D3B62"/>
<rect x="54.88" y="297.84" width="0.85" height="2.66" fill="#276A7C"/>
<rect x="55.33" y="297.84" width="0.48" height="2.66" fill="#B65708"/>
<rect x="55.40" y="297.84" width="0.82" height="2.66" fill="#729ACA"/>
<rect x="55.83" y="297.84" width="0.48" height="2.66" fill="#CD7371"/>
<rect x="55.90" y="297.84" width="6.50" height="2.66" fill="#AFC97A"/>
<rect x="62.00" y="297.84" width="3.10" height="2.66" fill="#9983B5"/>
<rect x="36.00" y="294.25" width="2.00" height="2.66" fill="#4F81BD"/>
<rect x="37.60" y="294.25" width="4.40" height="2.66" fill="#C0504D"/>
<rect x="41.60" y="294.25" width="1.20" height="2.66" fill="#9BBB59"/>
<rect x="42.40" y="294.25" width="3.60" height="2.66" fill="#8064A2"/>
<rect x="45.60" y="294.25" width="0.75" height="2.66" fill="#4BACC6"/>
<rect x="45.95" y="294.25" width="0.48" height="2.66" fill="#F79646"/>
<rect x="46.03" y="294.25" width="0.75" height="2.66" fill="#2C4D75"/>
<rect x="46.38" y="294.25" width="0.45" height="2.66" fill="#772C2A"/>
<rect x="46.43" y="294.25" width="0.70" height="2.66" fill="#5F7530"/>
<rect x="46.73" y="294.25" width="0.46" height="2.66" fill="#4D3B62"/>
<rect x="46.79" y="294.25" width="0.58" height="2.66" fill="#276A7C"/>
<rect x="46.97" y="294.25" width="0.43" height="2.66" fill="#B65708"/>
<rect x="47.00" y="294.25" width="0.57" height="2.66" fill="#729ACA"/>
<rect x="47.17" y="294.25" width="0.43" height="2.66" fill="#CD7371"/>
<rect x="47.20" y="294.25" width="5.10" height="2.66" fill="#AFC97A"/>
<rect x="51.90" y="294.25" width="2.80" height="2.66" fill="#9983B5"/>
<rect x="36.00" y="290.66" width="2.50" height="2.66" fill="#4F81BD"/>
<rect x="38.10" y="290.66" width="6.30" height="2.66" fill="#C0504D"/>
<rect x="44.00" y="290.66" width="1.20" height="2.66" fill="#9BBB59"/>
<rect x="44.80" y="290.66" width="3.60" height="2.66" fill="#8064A2"/>
<rect x="48.00" y="290.66" width="1.17" height="2.66" fill="#4BACC6"/>
<rect x="48.77" y="290.66" width="0.57" height="2.66" fill="#F79646"/>
<rect x="48.94" y="290.66" width="1.17" height="2.66" fill="#2C4D75"/>
<rect x="49.71" y="290.66" width="0.51" height="2.66" fill="#772C2A"/>
<rect x="49.82" y="290.66" width="1.06" height="2.66" fill="#5F7530"/>
<rect x="50.47" y="290.66" width="0.53" height="2.66" fill="#4D3B62"/>
<rect x="50.60" y="290.66" width="0.79" height="2.66" fill="#276A7C"/>
<rect x="51.00" y="290.66" width="0.47" height="2.66" fill="#B65708"/>
<rect x="51.06" y="290.66" width="0.77" height="2.66" fill="#729ACA"/>
<rect x="51.43" y="290.66" width="0.47" height="2.66" fill="#CD7371"/>
<rect x="51.50" y="290.66" width="6.40" height="2.66" fill="#AFC97A"/>
<rect x="57.50" y="290.66" width="3.30" height="2.66" fill="#9983B5"/>
<rect x="36.00" y="287.07" width="4.40" height="2.66" fill="#4F81BD"/>
<rect x="40.00" y="287.07" width="8.00" height="2.66" fill="#C0504D"/>
<rect x="47.60" y="287.07" width="1.10" height="2.66" fill="#9BBB59"/>
<rect x="48.30" y="287.07" width="4.00" height="2.66" fill="#8064A2"/>
<rect x="51.90" y="287.07" width="1.45" height="2.66" fill="#4BACC6"/>
<rect x="52.95" y="287.07" width="0.64" height="2.66" fill="#F79646"/>
<rect x="53.19" y="287.07" width="1.45" height="2.66" fill="#2C4D75"/>
<rect x="54.24" y="287.07" width="0.55" height="2.66" fill="#772C2A"/>
<rect x="54.39" y="287.07" width="1.30" height="2.66" fill="#5F7530"/>
<rect x="55.29" y="287.07" width="0.58" height="2.66" fill="#4D3B62"/>
<rect x="55.47" y="287.07" width="0.94" height="2.66" fill="#276A7C"/>
<rect x="56.01" y="287.07" width="0.49" height="2.66" fill="#B65708"/>
<rect x="56.10" y="287.07" width="0.91" height="2.66" fill="#729ACA"/>
<rect x="56.61" y="287.07" width="0.49" height="2.66" fill="#CD7371"/>
<rect x="56.70" y="287.07" width="5.20" height="2.66" fill="#AFC97A"/>
<rect x="61.50" y="287.07" width="3.60" height="2.66" fill="#9983B5"/>
<rect x="36.00" y="283.48" width="2.80" height="2.66" fill="#4F81BD"/>
<rect x="38.40" y="283.48" width="8.00" height="2.66" fill="#C0504D"/>
<rect x="46.00" y="283.48" width="1.00" height="2.66" fill="#9BBB59"/>
<rect x="46.60" y="283.48" width="3.40" height="2.66" fill="#8064A2"/>
<rect x="49.60" y="283.48" width="1.43" height="2.66" fill="#4BACC6"/>
<rect x="50.63" y="283.48" width="0.63" height="2.66" fill="#F79646"/>
<rect x="50.86" y="283.48" width="1.43" height="2.66" fill="#2C4D75"/>
<rect x="51.89" y="283.48" width="0.55" height="2.66" fill="#772C2A"/>
<rect x="52.04" y="283.48" width="1.28" height="2.66" fill="#5F7530"/>
<rect x="52.92" y="283.48" width="0.58" height="2.66" fill="#4D3B62"/>
<rect x="53.10" y="283.48" width="0.93" height="2.66" fill="#276A7C"/>
<rect x="53.62" y="283.48" width="0.49" height="2.66" fill="#B65708"/>
<rect x="53.71" y="283.48" width="0.90" height="2.66" fill="#729ACA"/>
<rect x="54.21" y="283.48" width="0.49" height="2.66" fill="#CD7371"/>
<rect x="54.30" y="283.48" width="4.40" height="2.66" fill="#AFC97A"/>
<rect x="58.30" y="283.48" width="3.10" height="2.66" fill="#9983B5"/>
<rect x="36.00" y="279.88" width="4.40" height="2.66" fill="#4F81BD"/>
<rect x="40.00" y="279.88" width="10.00" height="2.66" fill="#C0504D"/>
<rect x="49.60" y="279.88" width="1.40" height="2.66" fill="#9BBB59"/>
<rect x="50.60" y="279.88" width="4.90" height="2.66" fill="#8064A2"/>
<rect x="55.10" y="279.88" width="1.62" height="2.66" fill="#4BACC6"/>
<rect x="56.33" y="279.88" width="0.68" height="2.66" fill="#F79646"/>
<rect x="56.61" y="279.88" width="1.62" height="2.66" fill="#2C4D75"/>
<rect x="57.83" y="279.88" width="0.57" height="2.66" fill="#772C2A"/>
<rect x="58.01" y="279.88" width="1.45" height="2.66" fill="#5F7530"/>
<rect x="59.05" y="279.88" width="0.61" height="2.66" fill="#4D3B62"/>
<rect x="59.27" y="279.88" width="1.03" height="2.66" fill="#276A7C"/>
<rect x="59.90" y="279.88" width="0.50" height="2.66" fill="#B65708"/>
<rect x="60.00" y="279.88" width="0.99" height="2.66" fill="#729ACA"/>
<rect x="60.59" y="279.88" width="0.50" height="2.66" fill="#CD7371"/>
<rect x="60.70" y="279.88" width="6.00" height="2.66" fill="#AFC97A"/>
<rect x="66.30" y="279.88" width="4.40" height="2.66" fill="#9983B5"/>
<rect x="36.00" y="276.29" width="3.60" height="2.66" fill="#4F81BD"/>
<rect x="39.20" y="276.29" width="9.20" height="2.66" fill="#C0504D"/>
<rect x="48.00" y="276.29" width="1.20" height="2.66" fill="#9BBB59"/>
<rect x="48.80" y="276.29" width="2.80" height="2.66" fill="#8064A2"/>
<rect x="51.20" y="276.29" width="1.43" height="2.66" fill="#4BACC6"/>
<rect x="52.23" y="276.29" width="0.63" height="2.66" fill="#F79646"/>
<rect x="52.46" y="276.29" width="1.43" height="2.66" fill="#2C4D75"/>
<rect x="53.49" y="276.29" width="0.55" height="2.66" fill="#772C2A"/>
<rect x="53.64" y="276.29" width="1.28" height="2.66" fill="#5F7530"/>
<rect x="54.52" y="276.29" width="0.58" height="2.66" fill="#4D3B62"/>
<rect x="54.70" y="276.29" width="0.93" height="2.66" fill="#276A7C"/>
<rect x="55.22" y="276.29" width="0.49" height="2.66" fill="#B65708"/>
<rect x="55.31" y="276.29" width="0.90" height="2.66" fill="#729ACA"/>
<rect x="55.81" y="276.29" width="0.49" height="2.66" fill="#CD7371"/>
<rect x="55.90" y="276.29" width="5.20" height="2.66" fill="#AFC97A"/>
<rect x="60.70" y="276.29" width="4.40" height="2.66" fill="#9983B5"/>
<rect x="36.00" y="272.70" width="6.80" height="2.66" fill="#4F81BD"/>
<rect x="42.40" y="272.70" width="14.70" height="2.66" fill="#C0504D"/>
<rect x="56.70" y="272.70" width="1.50" height="2.66" fill="#9BBB59"/>
<rect x="57.80" y="272.70" width="6.20" height="2.66" fill="#8064A2"/>
<rect x="63.60" y="272.70" width="1.80" height="2.66" fill="#4BACC6"/>
<rect x="65.00" y="272.70" width="0.72" height="2.66" fill="#F79646"/>
<rect x="65.32" y="272.70" width="1.80" height="2.66" fill="#2C4D75"/>
<rect x="66.72" y="272.70" width="0.60" height="2.66" fill="#772C2A"/>
<rect x="66.92" y="272.70" width="1.60" height="2.66" fill="#5F7530"/>
<rect x="68.12" y="272.70" width="0.64" height="2.66" fill="#4D3B62"/>
<rect x="68.36" y="272.70" width="1.12" height="2.66" fill="#276A7C"/>
<rect x="69.08" y="272.70" width="0.52" height="2.66" fill="#B65708"/>
<rect x="69.20" y="272.70" width="1.08" height="2.66" fill="#729ACA"/>
<rect x="69.88" y="272.70" width="0.52" height="2.66" fill="#CD7371"/>
<rect x="70.00" y="272.70" width="7.90" height="2.66" fill="#AFC97A"/>
<rect x="77.50" y="272.70" width="4.40" height="2.66" fill="#9983B5"/>
<rect x="36.00" y="269.11" width="4.40" height="2.66" fill="#4F81BD"/>
<rect x="40.00" y="269.11" width="10.00" height="2.66" fill="#C0504D"/>
<rect x="49.60" y="269.11" width="1.40" height="2.66" fill="#9BBB59"/>
<rect x="50.60" y="269.11" width="4.10" height="2.66" fill="#8064A2"/>
<rect x="54.30" y="269.11" width="2.15" height="2.66" fill="#4BACC6"/>
<rect x="56.05" y="269.11" width="0.80" height="2.66" fill="#F79646"/>
<rect x="56.45" y="269.11" width="2.15" height="2.66" fill="#2C4D75"/>
<rect x="58.20" y="269.11" width="0.65" height="2.66" fill="#772C2A"/>
<rect x="58.45" y="269.11" width="1.90" height="2.66" fill="#5F7530"/>
<rect x="59.95" y="269.11" width="0.70" height="2.66" fill="#4D3B62"/>
<rect x="60.25" y="269.11" width="1.30" height="2.66" fill="#276A7C"/>
<rect x="61.15" y="269.11" width="0.55" height="2.66" fill="#B65708"/>
<rect x="61.30" y="269.11" width="1.25" height="2.66" fill="#729ACA"/>
<rect x="62.15" y="269.11" width="0.55" height="2.66" fill="#CD7371"/>
<rect x="62.30" y="269.11" width="12.40" height="2.66" fill="#AFC97A"/>
<rect x="74.30" y="269.11" width="7.60" height="2.66" fill="#9983B5"/>
<rect x="36.00" y="265.52" width="2.80" height="2.66" fill="#4F81BD"/>
<rect x="38.40" y="265.52" width="10.00" height="2.66" fill="#C0504D"/>
<rect x="48.00" y="265.52" width="1.20" height="2.66" fill="#9BBB59"/>
<rect x="48.80" y="265.52" width="4.30" height="2.66" fill="#8064A2"/>
<rect x="52.70" y="265.52" width="1.10" height="2.66" fill="#4BACC6"/>
<rect x="53.40" y="265.52" width="0.56" height="2.66" fill="#F79646"/>
<rect x="53.56" y="265.52" width="1.10" height="2.66" fill="#2C4D75"/>
<rect x="54.26" y="265.52" width="0.50" height="2.66" fill="#772C2A"/>
<rect x="54.36" y="265.52" width="1.00" height="2.66" fill="#5F7530"/>
<rect x="54.96" y="265.52" width="0.52" height="2.66" fill="#4D3B62"/>
<rect x="55.08" y="265.52" width="0.76" height="2.66" fill="#276A7C"/>
<rect x="55.44" y="265.52" width="0.46" height="2.66" fill="#B65708"/>
<rect x="55.50" y="265.52" width="0.74" height="2.66" fill="#729ACA"/>
<rect x="55.84" y="265.52" width="0.46" height="2.66" fill="#CD7371"/>
<rect x="55.90" y="265.52" width="6.00" height="2.66" fill="#AFC97A"/>
<rect x="61.50" y="265.52" width="3.60" height="2.66" fill="#9983B5"/>
<rect x="36.00" y="261.93" width="6.00" height="2.66" fill="#4F81BD"/>
<rect x="41.60" y="261.93" width="16.30" height="2.66" fill="#C0504D"/>
<rect x="57.50" y="261.93" width="1.70" height="2.66" fill="#9BBB59"/>
<rect x="58.80" y="261.93" width="6.30" height="2.66" fill="#8064A2"/>
<rect x="64.70" y="261.93" width="1.10" height="2.66" fill="#4BACC6"/>
<rect x="65.40" y="261.93" width="0.56" height="2.66" fill="#F79646"/>
<rect x="65.56" y="261.93" width="1.10" height="2.66" fill="#2C4D75"/>
<rect x="66.26" y="261.93" width="0.50" height="2.66" fill="#772C2A"/>
<rect x="66.36" y="261.93" width="1.00" height="2.66" fill="#5F7530"/>
<rect x="66.96" y="261.93" width="0.52" height="2.66" fill="#4D3B62"/>
<rect x="67.08" y="261.93" width="0.76" height="2.66" fill="#276A7C"/>
<rect x="67.44" y="261.93" width="0.46" height="2.66" fill="#B65708"/>
<rect x="67.50" y="261.93" width="0.74" height="2.66" fill="#729ACA"/>
<rect x="67.84" y="261.93" width="0.46" height="2.66" fill="#CD7371"/>
<rect x="67.90" y="261.93" width="7.60" height="2.66" fill="#AFC97A"/>
<rect x="75.10" y="261.93" width="2.00" height="2.66" fill="#9983B5"/>
<rect x="36.00" y="258.34" width="9.20" height="2.66" fill="#4F81BD"/>
<rect x="44.80" y="258.34" width="20.30" height="2.66" fill="#C0504D"/>
<rect x="64.70" y="258.34" width="2.50" height="2.66" fill="#9BBB59"/>
<rect x="66.80" y="258.34" width="8.70" height="2.66" fill="#8064A2"/>
<rect x="75.10" y="258.34" width="2.15" height="2.66" fill="#4BACC6"/>
<rect x="76.85" y="258.34" width="0.80" height="2.66" fill="#F79646"/>
<rect x="77.25" y="258.34" width="2.15" height="2.66" fill="#2C4D75"/>
<rect x="79.00" y="258.34" width="0.65" height="2.66" fill="#772C2A"/>
<rect x="79.25" y="258.34" width="1.90" height="2.66" fill="#5F7530"/>
<rect x="80.75" y="258.34" width="0.70" height="2.66" fill="#4D3B62"/>
<rect x="81.05" y="258.34" width="1.30" height="2.66" fill="#276A7C"/>
<rect x="81.95" y="258.34" width="0.55" height="2.66" fill="#B65708"/>
<rect x="82.10" y="258.34" width="1.25" height="2.66" fill="#729ACA"/>
<rect x="82.95" y="258.34" width="0.55" height="2.66" fill="#CD7371"/>
<rect x="83.10" y="258.34" width="9.30" height="2.66" fill="#AFC97A"/>
<rect x="92.00" y="258.34" width="4.10" height="2.66" fill="#9983B5"/>
<rect x="36.00" y="254.75" width="4.10" height="2.66" fill="#4F81BD"/>
<rect x="39.70" y="254.75" width="8.30" height="2.66" fill="#C0504D"/>
<rect x="47.60" y="254.75" width="1.60" height="2.66" fill="#9BBB59"/>
<rect x="48.80" y="254.75" width="4.30" height="2.66" fill="#8064A2"/>
<rect x="52.70" y="254.75" width="1.03" height="2.66" fill="#4BACC6"/>
<rect x="53.33" y="254.75" width="0.55" height="2.66" fill="#F79646"/>
<rect x="53.48" y="254.75" width="1.03" height="2.66" fill="#2C4D75"/>
<rect x="54.11" y="254.75" width="0.49" height="2.66" fill="#772C2A"/>
<rect x="54.20" y="254.75" width="0.94" height="2.66" fill="#5F7530"/>
<rect x="54.75" y="254.75" width="0.51" height="2.66" fill="#4D3B62"/>
<rect x="54.86" y="254.75" width="0.73" height="2.66" fill="#276A7C"/>
<rect x="55.18" y="254.75" width="0.45" height="2.66" fill="#B65708"/>
<rect x="55.24" y="254.75" width="0.71" height="2.66" fill="#729ACA"/>
<rect x="55.55" y="254.75" width="0.45" height="2.66" fill="#CD7371"/>
<rect x="55.60" y="254.75" width="4.70" height="2.66" fill="#AFC97A"/>
<rect x="59.90" y="254.75" width="1.50" height="2.66" fill="#9983B5"/>
<rect x="36.00" y="251.16" width="6.80" height="2.66" fill="#4F81BD"/>
<rect x="42.40" y="251.16" width="16.30" height="2.66" fill="#C0504D"/>
<rect x="58.30" y="251.16" width="2.00" height="2.66" fill="#9BBB59"/>
<rect x="59.90" y="251.16" width="8.40" height="2.66" fill="#8064A2"/>
<rect x="67.90" y="251.16" width="2.04" height="2.66" fill="#4BACC6"/>
<rect x="69.54" y="251.16" width="0.78" height="2.66" fill="#F79646"/>
<rect x="69.92" y="251.16" width="2.04" height="2.66" fill="#2C4D75"/>
<rect x="71.56" y="251.16" width="0.63" height="2.66" fill="#772C2A"/>
<rect x="71.79" y="251.16" width="1.81" height="2.66" fill="#5F7530"/>
<rect x="73.20" y="251.16" width="0.68" height="2.66" fill="#4D3B62"/>
<rect x="73.48" y="251.16" width="1.24" height="2.66" fill="#276A7C"/>
<rect x="74.32" y="251.16" width="0.54" height="2.66" fill="#B65708"/>
<rect x="74.46" y="251.16" width="1.20" height="2.66" fill="#729ACA"/>
<rect x="75.26" y="251.16" width="0.54" height="2.66" fill="#CD7371"/>
<rect x="75.40" y="251.16" width="10.00" height="2.66" fill="#AFC97A"/>
<rect x="85.00" y="251.16" width="2.50" height="2.66" fill="#9983B5"/>
<rect x="36.00" y="247.57" width="14.00" height="2.66" fill="#4F81BD"/>
<rect x="49.60" y="247.57" width="30.70" height="2.66" fill="#C0504D"/>
<rect x="79.90" y="247.57" width="4.40" height="2.66" fill="#9BBB59"/>
<rect x="83.90" y="247.57" width="14.10" height="2.66" fill="#8064A2"/>
<rect x="97.60" y="247.57" width="3.35" height="2.66" fill="#4BACC6"/>
<rect x="100.55" y="247.57" width="1.08" height="2.66" fill="#F79646"/>
<rect x="101.23" y="247.57" width="3.35" height="2.66" fill="#2C4D75"/>
<rect x="104.18" y="247.57" width="0.82" height="2.66" fill="#772C2A"/>
<rect x="104.60" y="247.57" width="2.93" height="2.66" fill="#5F7530"/>
<rect x="107.13" y="247.57" width="0.91" height="2.66" fill="#4D3B62"/>
<rect x="107.64" y="247.57" width="1.92" height="2.66" fill="#276A7C"/>
<rect x="109.16" y="247.57" width="0.65" height="2.66" fill="#B65708"/>
<rect x="109.41" y="247.57" width="1.83" height="2.66" fill="#729ACA"/>
<rect x="110.85" y="247.57" width="0.65" height="2.66" fill="#CD7371"/>
<rect x="111.10" y="247.57" width="18.00" height="2.66" fill="#AFC97A"/>
<rect x="128.70" y="247.57" width="6.30" height="2.66" fill="#9983B5"/>
<rect x="36.00" y="243.98" width="2.00" height="2.66" fill="#4F81BD"/>
<rect x="37.60" y="243.98" width="8.40" height="2.66" fill="#C0504D"/>
<rect x="45.60" y="243.98" width="1.40" height="2.66" fill="#9BBB59"/>
<rect x="46.60" y="243.98" width="3.40" height="2.66" fill="#8064A2"/>
<rect x="49.60" y="243.98" width="1.84" height="2.66" fill="#4BACC6"/>
<rect x="51.04" y="243.98" width="0.73" height="2.66" fill="#F79646"/>
<rect x="51.37" y="243.98" width="1.84" height="2.66" fill="#2C4D75"/>
<rect x="52.82" y="243.98" width="0.61" height="2.66" fill="#772C2A"/>
<rect x="53.02" y="243.98" width="1.64" height="2.66" fill="#5F7530"/>
<rect x="54.26" y="243.98" width="0.65" height="2.66" fill="#4D3B62"/>
<rect x="54.51" y="243.98" width="1.14" height="2.66" fill="#276A7C"/>
<rect x="55.25" y="243.98" width="0.52" height="2.66" fill="#B65708"/>
<rect x="55.38" y="243.98" width="1.10" height="2.66" fill="#729ACA"/>
<rect x="56.08" y="243.98" width="0.52" height="2.66" fill="#CD7371"/>
<rect x="56.20" y="243.98" width="9.70" height="2.66" fill="#AFC97A"/>
<rect x="65.50" y="243.98" width="1.70" height="2.66" fill="#9983B5"/>
<rect x="36.00" y="240.39" width="5.40" height="2.66" fill="#4F81BD"/>
<rect x="41.00" y="240.39" width="10.40" height="2.66" fill="#C0504D"/>
<rect x="51.00" y="240.39" width="1.50" height="2.66" fill="#9BBB59"/>
<rect x="52.10" y="240.39" width="4.90" height="2.66" fill="#8064A2"/>
<rect x="56.60" y="240.39" width="1.52" height="2.66" fill="#4BACC6"/>
<rect x="57.72" y="240.39" width="0.66" height="2.66" fill="#F79646"/>
<rect x="57.97" y="240.39" width="1.52" height="2.66" fill="#2C4D75"/>
<rect x="59.09" y="240.39" width="0.56" height="2.66" fill="#772C2A"/>
<rect x="59.25" y="240.39" width="1.36" height="2.66" fill="#5F7530"/>
<rect x="60.20" y="240.39" width="0.59" height="2.66" fill="#4D3B62"/>
<rect x="60.39" y="240.39" width="0.97" height="2.66" fill="#276A7C"/>
<rect x="60.97" y="240.39" width="0.50" height="2.66" fill="#B65708"/>
<rect x="61.06" y="240.39" width="0.94" height="2.66" fill="#729ACA"/>
<rect x="61.60" y="240.39" width="0.50" height="2.66" fill="#CD7371"/>
<rect x="61.70" y="240.39" width="8.90" height="2.66" fill="#AFC97A"/>
<rect x="70.20" y="240.39" width="3.20" height="2.66" fill="#9983B5"/>
<rect x="36.00" y="236.80" width="28.20" height="2.66" fill="#4F81BD"/>
<rect x="63.80" y="236.80" width="62.20" height="2.66" fill="#C0504D"/>
<rect x="125.60" y="236.80" width="6.70" height="2.66" fill="#9BBB59"/>
<rect x="131.90" y="236.80" width="26.00" height="2.66" fill="#8064A2"/>
<rect x="157.50" y="236.80" width="4.80" height="2.66" fill="#4BACC6"/>
<rect x="161.90" y="236.80" width="1.41" height="2.66" fill="#F79646"/>
<rect x="162.90" y="236.80" width="4.80" height="2.66" fill="#2C4D75"/>
<rect x="167.30" y="236.80" width="1.03" height="2.66" fill="#772C2A"/>
<rect x="167.93" y="236.80" width="4.17" height="2.66" fill="#5F7530"/>
<rect x="171.70" y="236.80" width="1.15" height="2.66" fill="#4D3B62"/>
<rect x="172.45" y="236.80" width="2.66" height="2.66" fill="#276A7C"/>
<rect x="174.71" y="236.80" width="0.78" height="2.66" fill="#B65708"/>
<rect x="175.09" y="236.80" width="2.54" height="2.66" fill="#729ACA"/>
<rect x="177.22" y="236.80" width="0.78" height="2.66" fill="#CD7371"/>
<rect x="177.60" y="236.80" width="20.10" height="2.66" fill="#AFC97A"/>
<rect x="197.30" y="236.80" width="5.70" height="2.66" fill="#9983B5"/>
<rect x="36.00" y="233.21" width="35.90" height="2.66" fill="#4F81BD"/>
<rect x="71.50" y="233.21" width="70.40" height="2.66" fill="#C0504D"/>
<rect x="141.50" y="233.21" width="7.90" height="2.66" fill="#9BBB59"/>
<rect x="149.00" y="233.21" width="25.90" height="2.66" fill="#8064A2"/>
<rect x="174.50" y="233.21" width="4.69" height="2.66" fill="#4BACC6"/>
<rect x="178.79" y="233.21" width="1.38" height="2.66" fill="#F79646"/>
<rect x="179.77" y="233.21" width="4.69" height="2.66" fill="#2C4D75"/>
<rect x="184.05" y="233.21" width="1.01" height="2.66" fill="#772C2A"/>
<rect x="184.67" y="233.21" width="4.08" height="2.66" fill="#5F7530"/>
<rect x="188.34" y="233.21" width="1.14" height="2.66" fill="#4D3B62"/>
<rect x="189.08" y="233.21" width="2.61" height="2.66" fill="#276A7C"/>
<rect x="191.28" y="233.21" width="0.77" height="2.66" fill="#B65708"/>
<rect x="191.65" y="233.21" width="2.48" height="2.66" fill="#729ACA"/>
<rect x="193.73" y="233.21" width="0.77" height="2.66" fill="#CD7371"/>
<rect x="194.10" y="233.21" width="29.80" height="2.66" fill="#AFC97A"/>
<rect x="223.50" y="233.21" width="3.40" height="2.66" fill="#9983B5"/>
<rect x="36.00" y="229.62" width="12.90" height="2.66" fill="#4F81BD"/>
<rect x="48.50" y="229.62" width="28.50" height="2.66" fill="#C0504D"/>
<rect x="76.60" y="229.62" width="3.80" height="2.66" fill="#9BBB59"/>
<rect x="80.00" y="229.62" width="12.50" height="2.66" fill="#8064A2"/>
<rect x="92.10" y="229.62" width="2.41" height="2.66" fill="#4BACC6"/>
<rect x="94.11" y="229.62" width="0.86" height="2.66" fill="#F79646"/>
<rect x="94.57" y="229.62" width="2.41" height="2.66" fill="#2C4D75"/>
<rect x="96.58" y="229.62" width="0.69" height="2.66" fill="#772C2A"/>
<rect x="96.87" y="229.62" width="2.12" height="2.66" fill="#5F7530"/>
<rect x="98.60" y="229.62" width="0.75" height="2.66" fill="#4D3B62"/>
<rect x="98.94" y="229.62" width="1.44" height="2.66" fill="#276A7C"/>
<rect x="99.98" y="229.62" width="0.57" height="2.66" fill="#B65708"/>
<rect x="100.15" y="229.62" width="1.38" height="2.66" fill="#729ACA"/>
<rect x="101.13" y="229.62" width="0.57" height="2.66" fill="#CD7371"/>
<rect x="101.30" y="229.62" width="8.20" height="2.66" fill="#AFC97A"/>
<rect x="109.10" y="229.62" width="3.60" height="2.66" fill="#9983B5"/>
<rect x="36.00" y="226.02" width="61.80" height="2.66" fill="#4F81BD"/>
<rect x="97.40" y="226.02" width="181.70" height="2.66" fill="#C0504D"/>
<rect x="278.70" y="226.02" width="23.80" height="2.66" fill="#9BBB59"/>
<rect x="302.10" y="226.02" width="97.90" height="2.66" fill="#8064A2"/>
<rect x="36.00" y="222.43" width="205.70" height="2.66" fill="#4F81BD"/>
<rect x="241.30" y="222.43" width="158.70" height="2.66" fill="#C0504D"/>
<rect x="36.00" y="218.84" width="133.10" height="2.66" fill="#4F81BD"/>
<rect x="168.70" y="218.84" width="231.30" height="2.66" fill="#C0504D"/>
<rect x="36.00" y="215.25" width="21.00" height="2.66" fill="#4F81BD"/>
<rect x="56.60" y="215.25" width="45.10" height="2.66" fill="#C0504D"/>
<rect x="101.30" y="215.25" width="5.00" height="2.66" fill="#9BBB59"/>
<rect x="105.90" y="215.25" width="20.10" height="2.66" fill="#8064A2"/>
<rect x="125.60" y="215.25" width="3.66" height="2.66" fill="#4BACC6"/>
<rect x="128.86" y="215.25" width="1.15" height="2.66" fill="#F79646"/>
<rect x="129.60" y="215.25" width="3.66" height="2.66" fill="#2C4D75"/>
<rect x="132.86" y="215.25" width="0.87" height="2.66" fill="#772C2A"/>
<rect x="133.33" y="215.25" width="3.19" height="2.66" fill="#5F7530"/>
<rect x="136.12" y="215.25" width="0.96" height="2.66" fill="#4D3B62"/>
<rect x="136.68" y="215.25" width="2.08" height="2.66" fill="#276A7C"/>
<rect x="138.36" y="215.25" width="0.68" height="2.66" fill="#B65708"/>
<rect x="138.64" y="215.25" width="1.98" height="2.66" fill="#729ACA"/>
<rect x="140.22" y="215.25" width="0.68" height="2.66" fill="#CD7371"/>
<rect x="140.50" y="215.25" width="15.20" height="2.66" fill="#AFC97A"/>
<rect x="155.30" y="215.25" width="5.70" height="2.66" fill="#9983B5"/>
<rect x="36.00" y="211.66" width="48.00" height="2.66" fill="#4F81BD"/>
<rect x="83.60" y="211.66" width="148.10" height="2.66" fill="#C0504D"/>
<rect x="231.30" y="211.66" width="19.60" height="2.66" fill="#9BBB59"/>
<rect x="250.50" y="211.66" width="83.40" height="2.66" fill="#8064A2"/>
<rect x="333.50" y="211.66" width="19.90" height="2.66" fill="#4BACC6"/>
<rect x="353.00" y="211.66" width="3.60" height="2.66" fill="#F79646"/>
<rect x="356.20" y="211.66" width="43.80" height="2.66" fill="#2C4D75"/>
<rect x="36.00" y="208.07" width="53.70" height="2.66" fill="#4F81BD"/>
<rect x="89.30" y="208.07" width="149.90" height="2.66" fill="#C0504D"/>
<rect x="238.80" y="208.07" width="18.50" height="2.66" fill="#9BBB59"/>
<rect x="256.90" y="208.07" width="73.10" height="2.66" fill="#8064A2"/>
<rect x="329.60" y="208.07" width="15.80" height="2.66" fill="#4BACC6"/>
<rect x="345.00" y="208.07" width="2.00" height="2.66" fill="#F79646"/>
<rect x="346.60" y="208.07" width="53.40" height="2.66" fill="#2C4D75"/>
<rect x="36.00" y="204.48" width="34.20" height="2.66" fill="#4F81BD"/>
<rect x="69.80" y="204.48" width="83.80" height="2.66" fill="#C0504D"/>
<rect x="153.20" y="204.48" width="8.90" height="2.66" fill="#9BBB59"/>
<rect x="161.70" y="204.48" width="32.80" height="2.66" fill="#8064A2"/>
<rect x="194.10" y="204.48" width="6.22" height="2.66" fill="#4BACC6"/>
<rect x="199.92" y="204.48" width="1.73" height="2.66" fill="#F79646"/>
<rect x="201.25" y="204.48" width="6.22" height="2.66" fill="#2C4D75"/>
<rect x="207.07" y="204.48" width="1.23" height="2.66" fill="#772C2A"/>
<rect x="207.90" y="204.48" width="5.39" height="2.66" fill="#5F7530"/>
<rect x="212.89" y="204.48" width="1.40" height="2.66" fill="#4D3B62"/>
<rect x="213.88" y="204.48" width="3.39" height="2.66" fill="#276A7C"/>
<rect x="216.88" y="204.48" width="0.90" height="2.66" fill="#B65708"/>
<rect x="217.38" y="204.48" width="3.23" height="2.66" fill="#729ACA"/>
<rect x="220.20" y="204.48" width="0.90" height="2.66" fill="#CD7371"/>
<rect x="220.70" y="204.48" width="43.90" height="2.66" fill="#AFC97A"/>
<rect x="264.20" y="204.48" width="2.50" height="2.66" fill="#9983B5"/>
<rect x="36.00" y="200.89" width="30.30" height="2.66" fill="#4F81BD"/>
<rect x="65.90" y="200.89" width="80.70" height="2.66" fill="#C0504D"/>
<rect x="146.20" y="200.89" width="9.50" height="2.66" fill="#9BBB59"/>
<rect x="155.30" y="200.89" width="30.70" height="2.66" fill="#8064A2"/>
<rect x="185.60" y="200.89" width="6.22" height="2.66" fill="#4BACC6"/>
<rect x="191.42" y="200.89" width="1.73" height="2.66" fill="#F79646"/>
<rect x="192.75" y="200.89" width="6.22" height="2.66" fill="#2C4D75"/>
<rect x="198.57" y="200.89" width="1.23" height="2.66" fill="#772C2A"/>
<rect x="199.40" y="200.89" width="5.39" height="2.66" fill="#5F7530"/>
<rect x="204.39" y="200.89" width="1.40" height="2.66" fill="#4D3B62"/>
<rect x="205.38" y="200.89" width="3.39" height="2.66" fill="#276A7C"/>
<rect x="208.38" y="200.89" width="0.90" height="2.66" fill="#B65708"/>
<rect x="208.88" y="200.89" width="3.23" height="2.66" fill="#729ACA"/>
<rect x="211.70" y="200.89" width="0.90" height="2.66" fill="#CD7371"/>
<rect x="212.20" y="200.89" width="46.10" height="2.66" fill="#AFC97A"/>
<rect x="257.90" y="200.89" width="2.60" height="2.66" fill="#9983B5"/>
<rect x="36.00" y="197.30" width="21.00" height="2.66" fill="#4F81BD"/>
<rect x="56.60" y="197.30" width="48.70" height="2.66" fill="#C0504D"/>
<rect x="104.90" y="197.30" width="4.60" height="2.66" fill="#9BBB59"/>
<rect x="109.10" y="197.30" width="21.10" height="2.66" fill="#8064A2"/>
<rect x="129.80" y="197.30" width="5.06" height="2.66" fill="#4BACC6"/>
<rect x="134.46" y="197.30" width="1.47" height="2.66" fill="#F79646"/>
<rect x="135.52" y="197.30" width="5.06" height="2.66" fill="#2C4D75"/>
<rect x="140.18" y="197.30" width="1.07" height="2.66" fill="#772C2A"/>
<rect x="140.85" y="197.30" width="4.39" height="2.66" fill="#5F7530"/>
<rect x="144.84" y="197.30" width="1.20" height="2.66" fill="#4D3B62"/>
<rect x="145.64" y="197.30" width="2.80" height="2.66" fill="#276A7C"/>
<rect x="148.04" y="197.30" width="0.80" height="2.66" fill="#B65708"/>
<rect x="148.44" y="197.30" width="2.66" height="2.66" fill="#729ACA"/>
<rect x="150.70" y="197.30" width="0.80" height="2.66" fill="#CD7371"/>
<rect x="151.10" y="197.30" width="29.10" height="2.66" fill="#AFC97A"/>
<rect x="179.80" y="197.30" width="4.20" height="2.66" fill="#9983B5"/>
<rect x="36.00" y="193.71" width="38.00" height="2.66" fill="#4F81BD"/>
<rect x="73.60" y="193.71" width="100.20" height="2.66" fill="#C0504D"/>
<rect x="173.40" y="193.71" width="12.10" height="2.66" fill="#9BBB59"/>
<rect x="185.10" y="193.71" width="51.90" height="2.66" fill="#8064A2"/>
<rect x="236.60" y="193.71" width="10.99" height="2.66" fill="#4BACC6"/>
<rect x="247.19" y="193.71" width="2.82" height="2.66" fill="#F79646"/>
<rect x="249.61" y="193.71" width="10.99" height="2.66" fill="#2C4D75"/>
<rect x="260.19" y="193.71" width="1.91" height="2.66" fill="#772C2A"/>
<rect x="261.71" y="193.71" width="9.47" height="2.66" fill="#5F7530"/>
<rect x="270.78" y="193.71" width="2.21" height="2.66" fill="#4D3B62"/>
<rect x="272.60" y="193.71" width="5.84" height="2.66" fill="#276A7C"/>
<rect x="278.04" y="193.71" width="1.31" height="2.66" fill="#B65708"/>
<rect x="278.95" y="193.71" width="5.54" height="2.66" fill="#729ACA"/>
<rect x="284.09" y="193.71" width="1.31" height="2.66" fill="#CD7371"/>
<rect x="285.00" y="193.71" width="45.00" height="2.66" fill="#AFC97A"/>
<rect x="329.60" y="193.71" width="1.60" height="2.66" fill="#9983B5"/>
<rect x="36.00" y="190.12" width="9.50" height="2.66" fill="#4F81BD"/>
<rect x="45.10" y="190.12" width="22.10" height="2.66" fill="#C0504D"/>
<rect x="66.80" y="190.12" width="2.60" height="2.66" fill="#9BBB59"/>
<rect x="69.00" y="190.12" width="11.30" height="2.66" fill="#8064A2"/>
<rect x="79.90" y="190.12" width="3.99" height="2.66" fill="#4BACC6"/>
<rect x="83.49" y="190.12" width="1.22" height="2.66" fill="#F79646"/>
<rect x="84.31" y="190.12" width="3.99" height="2.66" fill="#2C4D75"/>
<rect x="87.90" y="190.12" width="0.91" height="2.66" fill="#772C2A"/>
<rect x="88.41" y="190.12" width="3.48" height="2.66" fill="#5F7530"/>
<rect x="91.48" y="190.12" width="1.02" height="2.66" fill="#4D3B62"/>
<rect x="92.10" y="190.12" width="2.25" height="2.66" fill="#276A7C"/>
<rect x="93.94" y="190.12" width="0.71" height="2.66" fill="#B65708"/>
<rect x="94.25" y="190.12" width="2.14" height="2.66" fill="#729ACA"/>
<rect x="95.99" y="190.12" width="0.71" height="2.66" fill="#CD7371"/>
<rect x="96.30" y="190.12" width="24.00" height="2.66" fill="#AFC97A"/>
<rect x="119.90" y="190.12" width="6.00" height="2.66" fill="#9983B5"/>
<rect x="36.00" y="186.53" width="7.30" height="2.66" fill="#4F81BD"/>
<rect x="42.90" y="186.53" width="16.30" height="2.66" fill="#C0504D"/>
<rect x="58.80" y="186.53" width="2.30" height="2.66" fill="#9BBB59"/>
<rect x="60.70" y="186.53" width="8.10" height="2.66" fill="#8064A2"/>
<rect x="68.40" y="186.53" width="3.27" height="2.66" fill="#4BACC6"/>
<rect x="71.27" y="186.53" width="1.06" height="2.66" fill="#F79646"/>
<rect x="71.92" y="186.53" width="3.27" height="2.66" fill="#2C4D75"/>
<rect x="74.79" y="186.53" width="0.81" height="2.66" fill="#772C2A"/>
<rect x="75.20" y="186.53" width="2.86" height="2.66" fill="#5F7530"/>
<rect x="77.65" y="186.53" width="0.89" height="2.66" fill="#4D3B62"/>
<rect x="78.14" y="186.53" width="1.87" height="2.66" fill="#276A7C"/>
<rect x="79.62" y="186.53" width="0.65" height="2.66" fill="#B65708"/>
<rect x="79.86" y="186.53" width="1.79" height="2.66" fill="#729ACA"/>
<rect x="81.25" y="186.53" width="0.65" height="2.66" fill="#CD7371"/>
<rect x="81.50" y="186.53" width="18.90" height="2.66" fill="#AFC97A"/>
<rect x="100.00" y="186.53" width="6.00" height="2.66" fill="#9983B5"/>
<rect x="36.00" y="182.94" width="13.20" height="2.66" fill="#4F81BD"/>
<rect x="48.80" y="182.94" width="27.50" height="2.66" fill="#C0504D"/>
<rect x="75.90" y="182.94" width="3.60" height="2.66" fill="#9BBB59"/>
<rect x="79.10" y="182.94" width="12.30" height="2.66" fill="#8064A2"/>
<rect x="91.00" y="182.94" width="2.72" height="2.66" fill="#4BACC6"/>
<rect x="93.32" y="182.94" width="0.93" height="2.66" fill="#F79646"/>
<rect x="93.85" y="182.94" width="2.72" height="2.66" fill="#2C4D75"/>
<rect x="96.17" y="182.94" width="0.73" height="2.66" fill="#772C2A"/>
<rect x="96.50" y="182.94" width="2.39" height="2.66" fill="#5F7530"/>
<rect x="98.49" y="182.94" width="0.80" height="2.66" fill="#4D3B62"/>
<rect x="98.88" y="182.94" width="1.59" height="2.66" fill="#276A7C"/>
<rect x="100.08" y="182.94" width="0.60" height="2.66" fill="#B65708"/>
<rect x="100.27" y="182.94" width="1.53" height="2.66" fill="#729ACA"/>
<rect x="101.40" y="182.94" width="0.60" height="2.66" fill="#CD7371"/>
<rect x="101.60" y="182.94" width="11.50" height="2.66" fill="#AFC97A"/>
<rect x="112.70" y="182.94" width="4.40" height="2.66" fill="#9983B5"/>
<rect x="36.00" y="179.35" width="7.30" height="2.66" fill="#4F81BD"/>
<rect x="42.90" y="179.35" width="16.30" height="2.66" fill="#C0504D"/>
<rect x="58.80" y="179.35" width="2.30" height="2.66" fill="#9BBB59"/>
<rect x="60.70" y="179.35" width="8.40" height="2.66" fill="#8064A2"/>
<rect x="68.70" y="179.35" width="2.85" height="2.66" fill="#4BACC6"/>
<rect x="71.15" y="179.35" width="0.96" height="2.66" fill="#F79646"/>
<rect x="71.71" y="179.35" width="2.85" height="2.66" fill="#2C4D75"/>
<rect x="74.16" y="179.35" width="0.75" height="2.66" fill="#772C2A"/>
<rect x="74.51" y="179.35" width="2.50" height="2.66" fill="#5F7530"/>
<rect x="76.61" y="179.35" width="0.82" height="2.66" fill="#4D3B62"/>
<rect x="77.03" y="179.35" width="1.66" height="2.66" fill="#276A7C"/>
<rect x="78.29" y="179.35" width="0.61" height="2.66" fill="#B65708"/>
<rect x="78.50" y="179.35" width="1.59" height="2.66" fill="#729ACA"/>
<rect x="79.69" y="179.35" width="0.61" height="2.66" fill="#CD7371"/>
<rect x="79.90" y="179.35" width="12.50" height="2.66" fill="#AFC97A"/>
<rect x="92.00" y="179.35" width="5.70" height="2.66" fill="#9983B5"/>
<rect x="36.00" y="175.76" width="15.60" height="2.66" fill="#4F81BD"/>
<rect x="51.20" y="175.76" width="33.50" height="2.66" fill="#C0504D"/>
<rect x="84.30" y="175.76" width="4.70" height="2.66" fill="#9BBB59"/>
<rect x="88.60" y="175.76" width="15.80" height="2.66" fill="#8064A2"/>
<rect x="104.00" y="175.76" width="4.05" height="2.66" fill="#4BACC6"/>
<rect x="107.65" y="175.76" width="1.23" height="2.66" fill="#F79646"/>
<rect x="108.49" y="175.76" width="4.05" height="2.66" fill="#2C4D75"/>
<rect x="112.14" y="175.76" width="0.92" height="2.66" fill="#772C2A"/>
<rect x="112.66" y="175.76" width="3.53" height="2.66" fill="#5F7530"/>
<rect x="115.79" y="175.76" width="1.03" height="2.66" fill="#4D3B62"/>
<rect x="116.42" y="175.76" width="2.28" height="2.66" fill="#276A7C"/>
<rect x="118.30" y="175.76" width="0.71" height="2.66" fill="#B65708"/>
<rect x="118.61" y="175.76" width="2.17" height="2.66" fill="#729ACA"/>
<rect x="120.39" y="175.76" width="0.71" height="2.66" fill="#CD7371"/>
<rect x="120.70" y="175.76" width="17.20" height="2.66" fill="#AFC97A"/>
<rect x="137.50" y="175.76" width="5.20" height="2.66" fill="#9983B5"/>
<rect x="36.00" y="172.16" width="15.90" height="2.66" fill="#4F81BD"/>
<rect x="51.50" y="172.16" width="34.40" height="2.66" fill="#C0504D"/>
<rect x="85.50" y="172.16" width="4.30" height="2.66" fill="#9BBB59"/>
<rect x="89.40" y="172.16" width="16.60" height="2.66" fill="#8064A2"/>
<rect x="105.60" y="172.16" width="4.05" height="2.66" fill="#4BACC6"/>
<rect x="109.25" y="172.16" width="1.23" height="2.66" fill="#F79646"/>
<rect x="110.09" y="172.16" width="4.05" height="2.66" fill="#2C4D75"/>
<rect x="113.74" y="172.16" width="0.92" height="2.66" fill="#772C2A"/>
<rect x="114.26" y="172.16" width="3.53" height="2.66" fill="#5F7530"/>
<rect x="117.39" y="172.16" width="1.03" height="2.66" fill="#4D3B62"/>
<rect x="118.02" y="172.16" width="2.28" height="2.66" fill="#276A7C"/>
<rect x="119.90" y="172.16" width="0.71" height="2.66" fill="#B65708"/>
<rect x="120.21" y="172.16" width="2.17" height="2.66" fill="#729ACA"/>
<rect x="121.99" y="172.16" width="0.71" height="2.66" fill="#CD7371"/>
<rect x="122.30" y="172.16" width="20.00" height="2.66" fill="#AFC97A"/>
<rect x="141.90" y="172.16" width="4.30" height="2.66" fill="#9983B5"/>
<rect x="36.00" y="168.57" width="10.00" height="2.66" fill="#4F81BD"/>
<rect x="45.60" y="168.57" width="21.90" height="2.66" fill="#C0504D"/>
<rect x="67.10" y="168.57" width="2.80" height="2.66" fill="#9BBB59"/>
<rect x="69.50" y="168.57" width="9.20" height="2.66" fill="#8064A2"/>
<rect x="78.30" y="168.57" width="3.22" height="2.66" fill="#4BACC6"/>
<rect x="81.12" y="168.57" width="1.05" height="2.66" fill="#F79646"/>
<rect x="81.77" y="168.57" width="3.22" height="2.66" fill="#2C4D75"/>
<rect x="84.59" y="168.57" width="0.80" height="2.66" fill="#772C2A"/>
<rect x="84.99" y="168.57" width="2.82" height="2.66" fill="#5F7530"/>
<rect x="87.41" y="168.57" width="0.88" height="2.66" fill="#4D3B62"/>
<rect x="87.89" y="168.57" width="1.85" height="2.66" fill="#276A7C"/>
<rect x="89.35" y="168.57" width="0.64" height="2.66" fill="#B65708"/>
<rect x="89.59" y="168.57" width="1.77" height="2.66" fill="#729ACA"/>
<rect x="90.96" y="168.57" width="0.64" height="2.66" fill="#CD7371"/>
<rect x="91.20" y="168.57" width="14.80" height="2.66" fill="#AFC97A"/>
<rect x="105.60" y="168.57" width="2.70" height="2.66" fill="#9983B5"/>
<rect x="36.00" y="164.98" width="10.00" height="2.66" fill="#4F81BD"/>
<rect x="45.60" y="164.98" width="19.50" height="2.66" fill="#C0504D"/>
<rect x="64.70" y="164.98" width="2.50" height="2.66" fill="#9BBB59"/>
<rect x="66.80" y="164.98" width="9.50" height="2.66" fill="#8064A2"/>
<rect x="75.90" y="164.98" width="2.52" height="2.66" fill="#4BACC6"/>
<rect x="78.02" y="164.98" width="0.89" height="2.66" fill="#F79646"/>
<rect x="78.51" y="164.98" width="2.52" height="2.66" fill="#2C4D75"/>
<rect x="80.63" y="164.98" width="0.70" height="2.66" fill="#772C2A"/>
<rect x="80.93" y="164.98" width="2.22" height="2.66" fill="#5F7530"/>
<rect x="82.75" y="164.98" width="0.76" height="2.66" fill="#4D3B62"/>
<rect x="83.11" y="164.98" width="1.49" height="2.66" fill="#276A7C"/>
<rect x="84.21" y="164.98" width="0.58" height="2.66" fill="#B65708"/>
<rect x="84.39" y="164.98" width="1.43" height="2.66" fill="#729ACA"/>
<rect x="85.42" y="164.98" width="0.58" height="2.66" fill="#CD7371"/>
<rect x="85.60" y="164.98" width="16.40" height="2.66" fill="#AFC97A"/>
<rect x="101.60" y="164.98" width="4.00" height="2.66" fill="#9983B5"/>
<rect x="36.00" y="161.39" width="12.70" height="2.66" fill="#4F81BD"/>
<rect x="48.30" y="161.39" width="27.50" height="2.66" fill="#C0504D"/>
<rect x="75.40" y="161.39" width="3.60" height="2.66" fill="#9BBB59"/>
<rect x="78.60" y="161.39" width="12.80" height="2.66" fill="#8064A2"/>
<rect x="91.00" y="161.39" width="3.42" height="2.66" fill="#4BACC6"/>
<rect x="94.02" y="161.39" width="1.09" height="2.66" fill="#F79646"/>
<rect x="94.71" y="161.39" width="3.42" height="2.66" fill="#2C4D75"/>
<rect x="97.73" y="161.39" width="0.83" height="2.66" fill="#772C2A"/>
<rect x="98.16" y="161.39" width="2.99" height="2.66" fill="#5F7530"/>
<rect x="100.75" y="161.39" width="0.92" height="2.66" fill="#4D3B62"/>
<rect x="101.26" y="161.39" width="1.95" height="2.66" fill="#276A7C"/>
<rect x="102.82" y="161.39" width="0.66" height="2.66" fill="#B65708"/>
<rect x="103.08" y="161.39" width="1.87" height="2.66" fill="#729ACA"/>
<rect x="104.54" y="161.39" width="0.66" height="2.66" fill="#CD7371"/>
<rect x="104.80" y="161.39" width="14.70" height="2.66" fill="#AFC97A"/>
<rect x="119.10" y="161.39" width="5.70" height="2.66" fill="#9983B5"/>
<rect x="36.00" y="157.80" width="12.40" height="2.66" fill="#4F81BD"/>
<rect x="48.00" y="157.80" width="26.20" height="2.66" fill="#C0504D"/>
<rect x="73.80" y="157.80" width="3.30" height="2.66" fill="#9BBB59"/>
<rect x="76.70" y="157.80" width="12.30" height="2.66" fill="#8064A2"/>
<rect x="88.60" y="157.80" width="3.59" height="2.66" fill="#4BACC6"/>
<rect x="91.79" y="157.80" width="1.13" height="2.66" fill="#F79646"/>
<rect x="92.52" y="157.80" width="3.59" height="2.66" fill="#2C4D75"/>
<rect x="95.72" y="157.80" width="0.86" height="2.66" fill="#772C2A"/>
<rect x="96.17" y="157.80" width="3.14" height="2.66" fill="#5F7530"/>
<rect x="98.91" y="157.80" width="0.95" height="2.66" fill="#4D3B62"/>
<rect x="99.46" y="157.80" width="2.04" height="2.66" fill="#276A7C"/>
<rect x="101.10" y="157.80" width="0.67" height="2.66" fill="#B65708"/>
<rect x="101.37" y="157.80" width="1.95" height="2.66" fill="#729ACA"/>
<rect x="102.93" y="157.80" width="0.67" height="2.66" fill="#CD7371"/>
<rect x="103.20" y="157.80" width="15.50" height="2.66" fill="#AFC97A"/>
<rect x="118.30" y="157.80" width="4.40" height="2.66" fill="#9983B5"/>
<rect x="36.00" y="154.21" width="6.00" height="2.66" fill="#4F81BD"/>
<rect x="41.60" y="154.21" width="13.10" height="2.66" fill="#C0504D"/>
<rect x="54.30" y="154.21" width="2.00" height="2.66" fill="#9BBB59"/>
<rect x="55.90" y="154.21" width="6.80" height="2.66" fill="#8064A2"/>
<rect x="62.30" y="154.21" width="2.32" height="2.66" fill="#4BACC6"/>
<rect x="64.22" y="154.21" width="0.84" height="2.66" fill="#F79646"/>
<rect x="64.66" y="154.21" width="2.33" height="2.66" fill="#2C4D75"/>
<rect x="66.59" y="154.21" width="0.68" height="2.66" fill="#772C2A"/>
<rect x="66.86" y="154.21" width="2.05" height="2.66" fill="#5F7530"/>
<rect x="68.52" y="154.21" width="0.73" height="2.66" fill="#4D3B62"/>
<rect x="68.84" y="154.21" width="1.39" height="2.66" fill="#276A7C"/>
<rect x="69.83" y="154.21" width="0.57" height="2.66" fill="#B65708"/>
<rect x="70.00" y="154.21" width="1.34" height="2.66" fill="#729ACA"/>
<rect x="70.94" y="154.21" width="0.57" height="2.66" fill="#CD7371"/>
<rect x="71.10" y="154.21" width="11.60" height="2.66" fill="#AFC97A"/>
<rect x="82.30" y="154.21" width="2.80" height="2.66" fill="#9983B5"/>
<rect x="36.00" y="150.62" width="11.10" height="2.66" fill="#4F81BD"/>
<rect x="46.70" y="150.62" width="21.60" height="2.66" fill="#C0504D"/>
<rect x="67.90" y="150.62" width="3.10" height="2.66" fill="#9BBB59"/>
<rect x="70.60" y="150.62" width="10.50" height="2.66" fill="#8064A2"/>
<rect x="80.70" y="150.62" width="3.05" height="2.66" fill="#4BACC6"/>
<rect x="83.35" y="150.62" width="1.01" height="2.66" fill="#F79646"/>
<rect x="83.95" y="150.62" width="3.05" height="2.66" fill="#2C4D75"/>
<rect x="86.60" y="150.62" width="0.78" height="2.66" fill="#772C2A"/>
<rect x="86.98" y="150.62" width="2.67" height="2.66" fill="#5F7530"/>
<rect x="89.25" y="150.62" width="0.85" height="2.66" fill="#4D3B62"/>
<rect x="89.70" y="150.62" width="1.76" height="2.66" fill="#276A7C"/>
<rect x="91.06" y="150.62" width="0.63" height="2.66" fill="#B65708"/>
<rect x="91.29" y="150.62" width="1.69" height="2.66" fill="#729ACA"/>
<rect x="92.57" y="150.62" width="0.63" height="2.66" fill="#CD7371"/>
<rect x="92.80" y="150.62" width="15.50" height="2.66" fill="#AFC97A"/>
<rect x="107.90" y="150.62" width="7.60" height="2.66" fill="#9983B5"/>
<rect x="36.00" y="147.03" width="9.20" height="2.66" fill="#4F81BD"/>
<rect x="44.80" y="147.03" width="20.30" height="2.66" fill="#C0504D"/>
<rect x="64.70" y="147.03" width="3.10" height="2.66" fill="#9BBB59"/>
<rect x="67.40" y="147.03" width="9.40" height="2.66" fill="#8064A2"/>
<rect x="76.40" y="147.03" width="2.19" height="2.66" fill="#4BACC6"/>
<rect x="78.19" y="147.03" width="0.81" height="2.66" fill="#F79646"/>
<rect x="78.60" y="147.03" width="2.19" height="2.66" fill="#2C4D75"/>
<rect x="80.40" y="147.03" width="0.66" height="2.66" fill="#772C2A"/>
<rect x="80.65" y="147.03" width="1.94" height="2.66" fill="#5F7530"/>
<rect x="82.19" y="147.03" width="0.71" height="2.66" fill="#4D3B62"/>
<rect x="82.50" y="147.03" width="1.32" height="2.66" fill="#276A7C"/>
<rect x="83.42" y="147.03" width="0.55" height="2.66" fill="#B65708"/>
<rect x="83.57" y="147.03" width="1.27" height="2.66" fill="#729ACA"/>
<rect x="84.45" y="147.03" width="0.55" height="2.66" fill="#CD7371"/>
<rect x="84.60" y="147.03" width="8.60" height="2.66" fill="#AFC97A"/>
<rect x="92.80" y="147.03" width="4.40" height="2.66" fill="#9983B5"/>
<rect x="36.00" y="143.44" width="17.50" height="2.66" fill="#4F81BD"/>
<rect x="53.10" y="143.44" width="33.90" height="2.66" fill="#C0504D"/>
<rect x="86.60" y="143.44" width="4.00" height="2.66" fill="#9BBB59"/>
<rect x="90.20" y="143.44" width="13.40" height="2.66" fill="#8064A2"/>
<rect x="103.20" y="143.44" width="2.30" height="2.66" fill="#4BACC6"/>
<rect x="105.10" y="143.44" width="0.84" height="2.66" fill="#F79646"/>
<rect x="105.54" y="143.44" width="2.30" height="2.66" fill="#2C4D75"/>
<rect x="107.44" y="143.44" width="0.67" height="2.66" fill="#772C2A"/>
<rect x="107.71" y="143.44" width="2.03" height="2.66" fill="#5F7530"/>
<rect x="109.34" y="143.44" width="0.73" height="2.66" fill="#4D3B62"/>
<rect x="109.67" y="143.44" width="1.38" height="2.66" fill="#276A7C"/>
<rect x="110.65" y="143.44" width="0.56" height="2.66" fill="#B65708"/>
<rect x="110.81" y="143.44" width="1.32" height="2.66" fill="#729ACA"/>
<rect x="111.74" y="143.44" width="0.56" height="2.66" fill="#CD7371"/>
<rect x="111.90" y="143.44" width="6.80" height="2.66" fill="#AFC97A"/>
<rect x="118.30" y="143.44" width="4.40" height="2.66" fill="#9983B5"/>
<rect x="36.00" y="139.85" width="18.70" height="2.66" fill="#4F81BD"/>
<rect x="54.30" y="139.85" width="38.90" height="2.66" fill="#C0504D"/>
<rect x="92.80" y="139.85" width="5.20" height="2.66" fill="#9BBB59"/>
<rect x="97.60" y="139.85" width="17.10" height="2.66" fill="#8064A2"/>
<rect x="114.30" y="139.85" width="4.25" height="2.66" fill="#4BACC6"/>
<rect x="118.15" y="139.85" width="1.28" height="2.66" fill="#F79646"/>
<rect x="119.03" y="139.85" width="4.25" height="2.66" fill="#2C4D75"/>
<rect x="122.88" y="139.85" width="0.95" height="2.66" fill="#772C2A"/>
<rect x="123.43" y="139.85" width="3.70" height="2.66" fill="#5F7530"/>
<rect x="126.73" y="139.85" width="1.06" height="2.66" fill="#4D3B62"/>
<rect x="127.39" y="139.85" width="2.38" height="2.66" fill="#276A7C"/>
<rect x="129.37" y="139.85" width="0.73" height="2.66" fill="#B65708"/>
<rect x="129.70" y="139.85" width="2.27" height="2.66" fill="#729ACA"/>
<rect x="131.57" y="139.85" width="0.73" height="2.66" fill="#CD7371"/>
<rect x="131.90" y="139.85" width="20.50" height="2.66" fill="#AFC97A"/>
<rect x="152.00" y="139.85" width="3.20" height="2.66" fill="#9983B5"/>
<rect x="36.00" y="136.26" width="18.70" height="2.66" fill="#4F81BD"/>
<rect x="54.30" y="136.26" width="39.70" height="2.66" fill="#C0504D"/>
<rect x="93.60" y="136.26" width="5.20" height="2.66" fill="#9BBB59"/>
<rect x="98.40" y="136.26" width="17.90" height="2.66" fill="#8064A2"/>
<rect x="115.90" y="136.26" width="3.90" height="2.66" fill="#4BACC6"/>
<rect x="119.40" y="136.26" width="1.20" height="2.66" fill="#F79646"/>
<rect x="120.20" y="136.26" width="3.90" height="2.66" fill="#2C4D75"/>
<rect x="123.70" y="136.26" width="0.90" height="2.66" fill="#772C2A"/>
<rect x="124.20" y="136.26" width="3.40" height="2.66" fill="#5F7530"/>
<rect x="127.20" y="136.26" width="1.00" height="2.66" fill="#4D3B62"/>
<rect x="127.80" y="136.26" width="2.20" height="2.66" fill="#276A7C"/>
<rect x="129.60" y="136.26" width="0.70" height="2.66" fill="#B65708"/>
<rect x="129.90" y="136.26" width="2.10" height="2.66" fill="#729ACA"/>
<rect x="131.60" y="136.26" width="0.70" height="2.66" fill="#CD7371"/>
<rect x="131.90" y="136.26" width="25.70" height="2.66" fill="#AFC97A"/>
<rect x="157.20" y="136.26" width="4.80" height="2.66" fill="#9983B5"/>
<rect x="36.00" y="132.67" width="16.30" height="2.66" fill="#4F81BD"/>
<rect x="51.90" y="132.67" width="34.40" height="2.66" fill="#C0504D"/>
<rect x="85.90" y="132.67" width="4.30" height="2.66" fill="#9BBB59"/>
<rect x="89.80" y="132.67" width="15.40" height="2.66" fill="#8064A2"/>
<rect x="104.80" y="132.67" width="4.58" height="2.66" fill="#4BACC6"/>
<rect x="108.98" y="132.67" width="1.36" height="2.66" fill="#F79646"/>
<rect x="109.93" y="132.67" width="4.58" height="2.66" fill="#2C4D75"/>
<rect x="114.11" y="132.67" width="1.00" height="2.66" fill="#772C2A"/>
<rect x="114.71" y="132.67" width="3.98" height="2.66" fill="#5F7530"/>
<rect x="118.29" y="132.67" width="1.12" height="2.66" fill="#4D3B62"/>
<rect x="119.01" y="132.67" width="2.55" height="2.66" fill="#276A7C"/>
<rect x="121.15" y="132.67" width="0.76" height="2.66" fill="#B65708"/>
<rect x="121.51" y="132.67" width="2.43" height="2.66" fill="#729ACA"/>
<rect x="123.54" y="132.67" width="0.76" height="2.66" fill="#CD7371"/>
<rect x="123.90" y="132.67" width="21.70" height="2.66" fill="#AFC97A"/>
<rect x="145.20" y="132.67" width="5.20" height="2.66" fill="#9983B5"/>
<rect x="36.00" y="129.08" width="15.60" height="2.66" fill="#4F81BD"/>
<rect x="51.20" y="129.08" width="30.40" height="2.66" fill="#C0504D"/>
<rect x="81.20" y="129.08" width="3.80" height="2.66" fill="#9BBB59"/>
<rect x="84.60" y="129.08" width="11.80" height="2.66" fill="#8064A2"/>
<rect x="96.00" y="129.08" width="1.98" height="2.66" fill="#4BACC6"/>
<rect x="97.58" y="129.08" width="0.76" height="2.66" fill="#F79646"/>
<rect x="97.94" y="129.08" width="1.98" height="2.66" fill="#2C4D75"/>
<rect x="99.51" y="129.08" width="0.62" height="2.66" fill="#772C2A"/>
<rect x="99.73" y="129.08" width="1.75" height="2.66" fill="#5F7530"/>
<rect x="101.08" y="129.08" width="0.67" height="2.66" fill="#4D3B62"/>
<rect x="101.35" y="129.08" width="1.21" height="2.66" fill="#276A7C"/>
<rect x="102.16" y="129.08" width="0.54" height="2.66" fill="#B65708"/>
<rect x="102.30" y="129.08" width="1.17" height="2.66" fill="#729ACA"/>
<rect x="103.06" y="129.08" width="0.54" height="2.66" fill="#CD7371"/>
<rect x="103.20" y="129.08" width="5.90" height="2.66" fill="#AFC97A"/>
<rect x="108.70" y="129.08" width="5.20" height="2.66" fill="#9983B5"/>
<rect x="36.00" y="125.49" width="12.40" height="2.66" fill="#4F81BD"/>
<rect x="48.00" y="125.49" width="30.70" height="2.66" fill="#C0504D"/>
<rect x="78.30" y="125.49" width="3.60" height="2.66" fill="#9BBB59"/>
<rect x="81.50" y="125.49" width="14.10" height="2.66" fill="#8064A2"/>
<rect x="95.20" y="125.49" width="2.68" height="2.66" fill="#4BACC6"/>
<rect x="97.47" y="125.49" width="0.92" height="2.66" fill="#F79646"/>
<rect x="97.99" y="125.49" width="2.68" height="2.66" fill="#2C4D75"/>
<rect x="100.27" y="125.49" width="0.73" height="2.66" fill="#772C2A"/>
<rect x="100.59" y="125.49" width="2.35" height="2.66" fill="#5F7530"/>
<rect x="102.55" y="125.49" width="0.79" height="2.66" fill="#4D3B62"/>
<rect x="102.94" y="125.49" width="1.57" height="2.66" fill="#276A7C"/>
<rect x="104.11" y="125.49" width="0.59" height="2.66" fill="#B65708"/>
<rect x="104.30" y="125.49" width="1.51" height="2.66" fill="#729ACA"/>
<rect x="105.41" y="125.49" width="0.59" height="2.66" fill="#CD7371"/>
<rect x="105.60" y="125.49" width="7.50" height="2.66" fill="#AFC97A"/>
<rect x="112.70" y="125.49" width="4.40" height="2.66" fill="#9983B5"/>
<rect x="36.00" y="121.89" width="15.20" height="2.66" fill="#4F81BD"/>
<rect x="50.80" y="121.89" width="33.00" height="2.66" fill="#C0504D"/>
<rect x="83.40" y="121.89" width="4.10" height="2.66" fill="#9BBB59"/>
<rect x="87.10" y="121.89" width="14.90" height="2.66" fill="#8064A2"/>
<rect x="101.60" y="121.89" width="3.03" height="2.66" fill="#4BACC6"/>
<rect x="104.22" y="121.89" width="1.00" height="2.66" fill="#F79646"/>
<rect x="104.82" y="121.89" width="3.03" height="2.66" fill="#2C4D75"/>
<rect x="107.45" y="121.89" width="0.78" height="2.66" fill="#772C2A"/>
<rect x="107.82" y="121.89" width="2.65" height="2.66" fill="#5F7530"/>
<rect x="110.07" y="121.89" width="0.85" height="2.66" fill="#4D3B62"/>
<rect x="110.52" y="121.89" width="1.75" height="2.66" fill="#276A7C"/>
<rect x="111.87" y="121.89" width="0.62" height="2.66" fill="#B65708"/>
<rect x="112.10" y="121.89" width="1.68" height="2.66" fill="#729ACA"/>
<rect x="113.37" y="121.89" width="0.62" height="2.66" fill="#CD7371"/>
<rect x="113.60" y="121.89" width="9.90" height="2.66" fill="#AFC97A"/>
<rect x="123.10" y="121.89" width="5.20" height="2.66" fill="#9983B5"/>
<rect x="36.00" y="118.30" width="15.20" height="2.66" fill="#4F81BD"/>
<rect x="50.80" y="118.30" width="33.90" height="2.66" fill="#C0504D"/>
<rect x="84.30" y="118.30" width="4.00" height="2.66" fill="#9BBB59"/>
<rect x="87.90" y="118.30" width="14.10" height="2.66" fill="#8064A2"/>
<rect x="101.60" y="118.30" width="3.18" height="2.66" fill="#4BACC6"/>
<rect x="104.38" y="118.30" width="1.04" height="2.66" fill="#F79646"/>
<rect x="105.01" y="118.30" width="3.18" height="2.66" fill="#2C4D75"/>
<rect x="107.79" y="118.30" width="0.80" height="2.66" fill="#772C2A"/>
<rect x="108.19" y="118.30" width="2.78" height="2.66" fill="#5F7530"/>
<rect x="110.57" y="118.30" width="0.88" height="2.66" fill="#4D3B62"/>
<rect x="111.05" y="118.30" width="1.83" height="2.66" fill="#276A7C"/>
<rect x="112.47" y="118.30" width="0.64" height="2.66" fill="#B65708"/>
<rect x="112.71" y="118.30" width="1.75" height="2.66" fill="#729ACA"/>
<rect x="114.06" y="118.30" width="0.64" height="2.66" fill="#CD7371"/>
<rect x="114.30" y="118.30" width="10.50" height="2.66" fill="#AFC97A"/>
<rect x="124.40" y="118.30" width="4.70" height="2.66" fill="#9983B5"/>
<rect x="36.00" y="114.71" width="10.80" height="2.66" fill="#4F81BD"/>
<rect x="46.40" y="114.71" width="21.90" height="2.66" fill="#C0504D"/>
<rect x="67.90" y="114.71" width="3.10" height="2.66" fill="#9BBB59"/>
<rect x="70.60" y="114.71" width="9.70" height="2.66" fill="#8064A2"/>
<rect x="79.90" y="114.71" width="2.81" height="2.66" fill="#4BACC6"/>
<rect x="82.31" y="114.71" width="0.95" height="2.66" fill="#F79646"/>
<rect x="82.86" y="114.71" width="2.81" height="2.66" fill="#2C4D75"/>
<rect x="85.26" y="114.71" width="0.74" height="2.66" fill="#772C2A"/>
<rect x="85.61" y="114.71" width="2.46" height="2.66" fill="#5F7530"/>
<rect x="87.67" y="114.71" width="0.81" height="2.66" fill="#4D3B62"/>
<rect x="88.08" y="114.71" width="1.64" height="2.66" fill="#276A7C"/>
<rect x="89.32" y="114.71" width="0.61" height="2.66" fill="#B65708"/>
<rect x="89.52" y="114.71" width="1.57" height="2.66" fill="#729ACA"/>
<rect x="90.69" y="114.71" width="0.61" height="2.66" fill="#CD7371"/>
<rect x="90.90" y="114.71" width="10.30" height="2.66" fill="#AFC97A"/>
<rect x="100.80" y="114.71" width="5.20" height="2.66" fill="#9983B5"/>
<rect x="36.00" y="111.12" width="10.40" height="2.66" fill="#4F81BD"/>
<rect x="46.00" y="111.12" width="23.10" height="2.66" fill="#C0504D"/>
<rect x="68.70" y="111.12" width="2.80" height="2.66" fill="#9BBB59"/>
<rect x="71.10" y="111.12" width="10.80" height="2.66" fill="#8064A2"/>
<rect x="81.50" y="111.12" width="3.22" height="2.66" fill="#4BACC6"/>
<rect x="84.32" y="111.12" width="1.05" height="2.66" fill="#F79646"/>
<rect x="84.97" y="111.12" width="3.22" height="2.66" fill="#2C4D75"/>
<rect x="87.79" y="111.12" width="0.80" height="2.66" fill="#772C2A"/>
<rect x="88.19" y="111.12" width="2.82" height="2.66" fill="#5F7530"/>
<rect x="90.61" y="111.12" width="0.88" height="2.66" fill="#4D3B62"/>
<rect x="91.09" y="111.12" width="1.85" height="2.66" fill="#276A7C"/>
<rect x="92.55" y="111.12" width="0.64" height="2.66" fill="#B65708"/>
<rect x="92.79" y="111.12" width="1.77" height="2.66" fill="#729ACA"/>
<rect x="94.16" y="111.12" width="0.64" height="2.66" fill="#CD7371"/>
<rect x="94.40" y="111.12" width="15.60" height="2.66" fill="#AFC97A"/>
<rect x="109.60" y="111.12" width="3.50" height="2.66" fill="#9983B5"/>
<rect x="36.00" y="107.53" width="11.10" height="2.66" fill="#4F81BD"/>
<rect x="46.70" y="107.53" width="24.30" height="2.66" fill="#C0504D"/>
<rect x="70.60" y="107.53" width="2.50" height="2.66" fill="#9BBB59"/>
<rect x="72.70" y="107.53" width="10.80" height="2.66" fill="#8064A2"/>
<rect x="83.10" y="107.53" width="3.57" height="2.66" fill="#4BACC6"/>
<rect x="86.27" y="107.53" width="1.12" height="2.66" fill="#F79646"/>
<rect x="87.00" y="107.53" width="3.57" height="2.66" fill="#2C4D75"/>
<rect x="90.17" y="107.53" width="0.85" height="2.66" fill="#772C2A"/>
<rect x="90.62" y="107.53" width="3.12" height="2.66" fill="#5F7530"/>
<rect x="93.34" y="107.53" width="0.94" height="2.66" fill="#4D3B62"/>
<rect x="93.88" y="107.53" width="2.03" height="2.66" fill="#276A7C"/>
<rect x="95.52" y="107.53" width="0.67" height="2.66" fill="#B65708"/>
<rect x="95.79" y="107.53" width="1.94" height="2.66" fill="#729ACA"/>
<rect x="97.33" y="107.53" width="0.67" height="2.66" fill="#CD7371"/>
<rect x="97.60" y="107.53" width="18.70" height="2.66" fill="#AFC97A"/>
<rect x="115.90" y="107.53" width="4.40" height="2.66" fill="#9983B5"/>
<rect x="36.00" y="103.94" width="7.30" height="2.66" fill="#4F81BD"/>
<rect x="42.90" y="103.94" width="17.40" height="2.66" fill="#C0504D"/>
<rect x="59.90" y="103.94" width="2.00" height="2.66" fill="#9BBB59"/>
<rect x="61.50" y="103.94" width="6.80" height="2.66" fill="#8064A2"/>
<rect x="67.90" y="103.94" width="1.98" height="2.66" fill="#4BACC6"/>
<rect x="69.47" y="103.94" width="0.76" height="2.66" fill="#F79646"/>
<rect x="69.83" y="103.94" width="1.98" height="2.66" fill="#2C4D75"/>
<rect x="71.41" y="103.94" width="0.62" height="2.66" fill="#772C2A"/>
<rect x="71.63" y="103.94" width="1.75" height="2.66" fill="#5F7530"/>
<rect x="72.98" y="103.94" width="0.67" height="2.66" fill="#4D3B62"/>
<rect x="73.25" y="103.94" width="1.21" height="2.66" fill="#276A7C"/>
<rect x="74.06" y="103.94" width="0.54" height="2.66" fill="#B65708"/>
<rect x="74.20" y="103.94" width="1.17" height="2.66" fill="#729ACA"/>
<rect x="74.96" y="103.94" width="0.54" height="2.66" fill="#CD7371"/>
<rect x="75.10" y="103.94" width="8.40" height="2.66" fill="#AFC97A"/>
<rect x="83.10" y="103.94" width="2.80" height="2.66" fill="#9983B5"/>
<rect x="36.00" y="100.35" width="23.50" height="2.66" fill="#4F81BD"/>
<rect x="59.10" y="100.35" width="49.20" height="2.66" fill="#C0504D"/>
<rect x="107.90" y="100.35" width="6.00" height="2.66" fill="#9BBB59"/>
<rect x="113.50" y="100.35" width="20.90" height="2.66" fill="#8064A2"/>
<rect x="134.00" y="100.35" width="4.32" height="2.66" fill="#4BACC6"/>
<rect x="137.92" y="100.35" width="1.30" height="2.66" fill="#F79646"/>
<rect x="138.81" y="100.35" width="4.32" height="2.66" fill="#2C4D75"/>
<rect x="142.73" y="100.35" width="0.96" height="2.66" fill="#772C2A"/>
<rect x="143.29" y="100.35" width="3.76" height="2.66" fill="#5F7530"/>
<rect x="146.64" y="100.35" width="1.07" height="2.66" fill="#4D3B62"/>
<rect x="147.31" y="100.35" width="2.41" height="2.66" fill="#276A7C"/>
<rect x="149.33" y="100.35" width="0.74" height="2.66" fill="#B65708"/>
<rect x="149.66" y="100.35" width="2.30" height="2.66" fill="#729ACA"/>
<rect x="151.56" y="100.35" width="0.74" height="2.66" fill="#CD7371"/>
<rect x="151.90" y="100.35" width="17.90" height="2.66" fill="#AFC97A"/>
<rect x="169.40" y="100.35" width="5.10" height="2.66" fill="#9983B5"/>
<rect x="36.00" y="96.76" width="13.20" height="2.66" fill="#4F81BD"/>
<rect x="48.80" y="96.76" width="25.10" height="2.66" fill="#C0504D"/>
<rect x="73.50" y="96.76" width="2.80" height="2.66" fill="#9BBB59"/>
<rect x="75.90" y="96.76" width="11.10" height="2.66" fill="#8064A2"/>
<rect x="86.60" y="96.76" width="1.28" height="2.66" fill="#4BACC6"/>
<rect x="87.47" y="96.76" width="0.60" height="2.66" fill="#F79646"/>
<rect x="87.67" y="96.76" width="1.28" height="2.66" fill="#2C4D75"/>
<rect x="88.55" y="96.76" width="0.53" height="2.66" fill="#772C2A"/>
<rect x="88.67" y="96.76" width="1.15" height="2.66" fill="#5F7530"/>
<rect x="89.42" y="96.76" width="0.55" height="2.66" fill="#4D3B62"/>
<rect x="89.58" y="96.76" width="0.85" height="2.66" fill="#276A7C"/>
<rect x="90.03" y="96.76" width="0.48" height="2.66" fill="#B65708"/>
<rect x="90.10" y="96.76" width="0.83" height="2.66" fill="#729ACA"/>
<rect x="90.53" y="96.76" width="0.48" height="2.66" fill="#CD7371"/>
<rect x="90.60" y="96.76" width="9.00" height="2.66" fill="#AFC97A"/>
<rect x="99.20" y="96.76" width="5.50" height="2.66" fill="#9983B5"/>
<rect x="36.00" y="93.17" width="15.20" height="2.66" fill="#4F81BD"/>
<rect x="50.80" y="93.17" width="31.90" height="2.66" fill="#C0504D"/>
<rect x="82.30" y="93.17" width="3.60" height="2.66" fill="#9BBB59"/>
<rect x="85.50" y="93.17" width="13.30" height="2.66" fill="#8064A2"/>
<rect x="98.40" y="93.17" width="2.85" height="2.66" fill="#4BACC6"/>
<rect x="100.85" y="93.17" width="0.96" height="2.66" fill="#F79646"/>
<rect x="101.41" y="93.17" width="2.85" height="2.66" fill="#2C4D75"/>
<rect x="103.86" y="93.17" width="0.75" height="2.66" fill="#772C2A"/>
<rect x="104.21" y="93.17" width="2.50" height="2.66" fill="#5F7530"/>
<rect x="106.31" y="93.17" width="0.82" height="2.66" fill="#4D3B62"/>
<rect x="106.73" y="93.17" width="1.66" height="2.66" fill="#276A7C"/>
<rect x="107.99" y="93.17" width="0.61" height="2.66" fill="#B65708"/>
<rect x="108.20" y="93.17" width="1.59" height="2.66" fill="#729ACA"/>
<rect x="109.39" y="93.17" width="0.61" height="2.66" fill="#CD7371"/>
<rect x="109.60" y="93.17" width="8.30" height="2.66" fill="#AFC97A"/>
<rect x="117.50" y="93.17" width="3.60" height="2.66" fill="#9983B5"/>
<rect x="36.00" y="89.58" width="7.90" height="2.66" fill="#4F81BD"/>
<rect x="43.50" y="89.58" width="18.40" height="2.66" fill="#C0504D"/>
<rect x="61.50" y="89.58" width="2.00" height="2.66" fill="#9BBB59"/>
<rect x="63.10" y="89.58" width="7.90" height="2.66" fill="#8064A2"/>
<rect x="70.60" y="89.58" width="2.43" height="2.66" fill="#4BACC6"/>
<rect x="72.63" y="89.58" width="0.87" height="2.66" fill="#F79646"/>
<rect x="73.10" y="89.58" width="2.43" height="2.66" fill="#2C4D75"/>
<rect x="75.13" y="89.58" width="0.69" height="2.66" fill="#772C2A"/>
<rect x="75.42" y="89.58" width="2.14" height="2.66" fill="#5F7530"/>
<rect x="77.17" y="89.58" width="0.75" height="2.66" fill="#4D3B62"/>
<rect x="77.52" y="89.58" width="1.45" height="2.66" fill="#276A7C"/>
<rect x="78.56" y="89.58" width="0.57" height="2.66" fill="#B65708"/>
<rect x="78.74" y="89.58" width="1.39" height="2.66" fill="#729ACA"/>
<rect x="79.73" y="89.58" width="0.57" height="2.66" fill="#CD7371"/>
<rect x="79.90" y="89.58" width="13.10" height="2.66" fill="#AFC97A"/>
<rect x="92.60" y="89.58" width="3.40" height="2.66" fill="#9983B5"/>
<rect x="36.00" y="85.99" width="12.00" height="2.66" fill="#4F81BD"/>
<rect x="47.60" y="85.99" width="24.70" height="2.66" fill="#C0504D"/>
<rect x="71.90" y="85.99" width="3.30" height="2.66" fill="#9BBB59"/>
<rect x="74.80" y="85.99" width="9.90" height="2.66" fill="#8064A2"/>
<rect x="84.30" y="85.99" width="2.61" height="2.66" fill="#4BACC6"/>
<rect x="86.51" y="85.99" width="0.91" height="2.66" fill="#F79646"/>
<rect x="87.01" y="85.99" width="2.61" height="2.66" fill="#2C4D75"/>
<rect x="89.22" y="85.99" width="0.72" height="2.66" fill="#772C2A"/>
<rect x="89.54" y="85.99" width="2.29" height="2.66" fill="#5F7530"/>
<rect x="91.43" y="85.99" width="0.78" height="2.66" fill="#4D3B62"/>
<rect x="91.81" y="85.99" width="1.54" height="2.66" fill="#276A7C"/>
<rect x="92.95" y="85.99" width="0.59" height="2.66" fill="#B65708"/>
<rect x="93.14" y="85.99" width="1.47" height="2.66" fill="#729ACA"/>
<rect x="94.21" y="85.99" width="0.59" height="2.66" fill="#CD7371"/>
<rect x="94.40" y="85.99" width="10.80" height="2.66" fill="#AFC97A"/>
<rect x="104.80" y="85.99" width="5.20" height="2.66" fill="#9983B5"/>
<rect x="36.00" y="82.40" width="13.20" height="2.66" fill="#4F81BD"/>
<rect x="48.80" y="82.40" width="26.70" height="2.66" fill="#C0504D"/>
<rect x="75.10" y="82.40" width="3.30" height="2.66" fill="#9BBB59"/>
<rect x="78.00" y="82.40" width="11.80" height="2.66" fill="#8064A2"/>
<rect x="89.40" y="82.40" width="2.89" height="2.66" fill="#4BACC6"/>
<rect x="91.89" y="82.40" width="0.97" height="2.66" fill="#F79646"/>
<rect x="92.46" y="82.40" width="2.89" height="2.66" fill="#2C4D75"/>
<rect x="94.96" y="82.40" width="0.76" height="2.66" fill="#772C2A"/>
<rect x="95.31" y="82.40" width="2.54" height="2.66" fill="#5F7530"/>
<rect x="97.45" y="82.40" width="0.83" height="2.66" fill="#4D3B62"/>
<rect x="97.88" y="82.40" width="1.68" height="2.66" fill="#276A7C"/>
<rect x="99.16" y="82.40" width="0.61" height="2.66" fill="#B65708"/>
<rect x="99.38" y="82.40" width="1.61" height="2.66" fill="#729ACA"/>
<rect x="100.59" y="82.40" width="0.61" height="2.66" fill="#CD7371"/>
<rect x="100.80" y="82.40" width="11.50" height="2.66" fill="#AFC97A"/>
<rect x="111.90" y="82.40" width="3.90" height="2.66" fill="#9983B5"/>
<rect x="36.00" y="78.81" width="11.60" height="2.66" fill="#4F81BD"/>
<rect x="47.20" y="78.81" width="22.70" height="2.66" fill="#C0504D"/>
<rect x="69.50" y="78.81" width="2.80" height="2.66" fill="#9BBB59"/>
<rect x="71.90" y="78.81" width="10.10" height="2.66" fill="#8064A2"/>
<rect x="81.60" y="78.81" width="3.24" height="2.66" fill="#4BACC6"/>
<rect x="84.44" y="78.81" width="1.05" height="2.66" fill="#F79646"/>
<rect x="85.09" y="78.81" width="3.24" height="2.66" fill="#2C4D75"/>
<rect x="87.94" y="78.81" width="0.81" height="2.66" fill="#772C2A"/>
<rect x="88.34" y="78.81" width="2.84" height="2.66" fill="#5F7530"/>
<rect x="90.78" y="78.81" width="0.89" height="2.66" fill="#4D3B62"/>
<rect x="91.27" y="78.81" width="1.86" height="2.66" fill="#276A7C"/>
<rect x="92.73" y="78.81" width="0.64" height="2.66" fill="#B65708"/>
<rect x="92.98" y="78.81" width="1.78" height="2.66" fill="#729ACA"/>
<rect x="94.36" y="78.81" width="0.64" height="2.66" fill="#CD7371"/>
<rect x="94.60" y="78.81" width="13.40" height="2.66" fill="#AFC97A"/>
<rect x="107.60" y="78.81" width="3.10" height="2.66" fill="#9983B5"/>
<rect x="36.00" y="75.22" width="10.80" height="2.66" fill="#4F81BD"/>
<rect x="46.40" y="75.22" width="23.50" height="2.66" fill="#C0504D"/>
<rect x="69.50" y="75.22" width="2.50" height="2.66" fill="#9BBB59"/>
<rect x="71.60" y="75.22" width="10.30" height="2.66" fill="#8064A2"/>
<rect x="81.50" y="75.22" width="3.05" height="2.66" fill="#4BACC6"/>
<rect x="84.15" y="75.22" width="1.01" height="2.66" fill="#F79646"/>
<rect x="84.75" y="75.22" width="3.05" height="2.66" fill="#2C4D75"/>
<rect x="87.40" y="75.22" width="0.78" height="2.66" fill="#772C2A"/>
<rect x="87.78" y="75.22" width="2.67" height="2.66" fill="#5F7530"/>
<rect x="90.05" y="75.22" width="0.85" height="2.66" fill="#4D3B62"/>
<rect x="90.50" y="75.22" width="1.76" height="2.66" fill="#276A7C"/>
<rect x="91.86" y="75.22" width="0.63" height="2.66" fill="#B65708"/>
<rect x="92.09" y="75.22" width="1.69" height="2.66" fill="#729ACA"/>
<rect x="93.37" y="75.22" width="0.63" height="2.66" fill="#CD7371"/>
<rect x="93.60" y="75.22" width="11.60" height="2.66" fill="#AFC97A"/>
<rect x="104.80" y="75.22" width="3.10" height="2.66" fill="#9983B5"/>
<rect x="36.00" y="71.63" width="6.80" height="2.66" fill="#4F81BD"/>
<rect x="42.40" y="71.63" width="16.30" height="2.66" fill="#C0504D"/>
<rect x="58.30" y="71.63" width="1.30" height="2.66" fill="#9BBB59"/>
<rect x="59.20" y="71.63" width="8.30" height="2.66" fill="#8064A2"/>
<rect x="67.10" y="71.63" width="1.45" height="2.66" fill="#4BACC6"/>
<rect x="68.15" y="71.63" width="0.64" height="2.66" fill="#F79646"/>
<rect x="68.39" y="71.63" width="1.45" height="2.66" fill="#2C4D75"/>
<rect x="69.44" y="71.63" width="0.55" height="2.66" fill="#772C2A"/>
<rect x="69.59" y="71.63" width="1.30" height="2.66" fill="#5F7530"/>
<rect x="70.49" y="71.63" width="0.58" height="2.66" fill="#4D3B62"/>
<rect x="70.67" y="71.63" width="0.94" height="2.66" fill="#276A7C"/>
<rect x="71.21" y="71.63" width="0.49" height="2.66" fill="#B65708"/>
<rect x="71.30" y="71.63" width="0.91" height="2.66" fill="#729ACA"/>
<rect x="71.81" y="71.63" width="0.49" height="2.66" fill="#CD7371"/>
<rect x="71.90" y="71.63" width="13.10" height="2.66" fill="#AFC97A"/>
<rect x="84.60" y="71.63" width="2.90" height="2.66" fill="#9983B5"/>
<rect x="36.00" y="68.03" width="4.40" height="2.66" fill="#4F81BD"/>
<rect x="40.00" y="68.03" width="10.00" height="2.66" fill="#C0504D"/>
<rect x="49.60" y="68.03" width="1.40" height="2.66" fill="#9BBB59"/>
<rect x="50.60" y="68.03" width="7.40" height="2.66" fill="#8064A2"/>
<rect x="57.60" y="68.03" width="0.90" height="2.66" fill="#4BACC6"/>
<rect x="58.10" y="68.03" width="0.52" height="2.66" fill="#F79646"/>
<rect x="58.22" y="68.03" width="0.90" height="2.66" fill="#2C4D75"/>
<rect x="58.72" y="68.03" width="0.47" height="2.66" fill="#772C2A"/>
<rect x="58.79" y="68.03" width="0.83" height="2.66" fill="#5F7530"/>
<rect x="59.22" y="68.03" width="0.49" height="2.66" fill="#4D3B62"/>
<rect x="59.31" y="68.03" width="0.66" height="2.66" fill="#276A7C"/>
<rect x="59.57" y="68.03" width="0.44" height="2.66" fill="#B65708"/>
<rect x="59.61" y="68.03" width="0.64" height="2.66" fill="#729ACA"/>
<rect x="59.86" y="68.03" width="0.44" height="2.66" fill="#CD7371"/>
<rect x="59.90" y="68.03" width="9.20" height="2.66" fill="#AFC97A"/>
<rect x="68.70" y="68.03" width="2.80" height="2.66" fill="#9983B5"/>
<rect x="36.00" y="64.44" width="4.40" height="2.66" fill="#4F81BD"/>
<rect x="40.00" y="64.44" width="10.00" height="2.66" fill="#C0504D"/>
<rect x="49.60" y="64.44" width="1.40" height="2.66" fill="#9BBB59"/>
<rect x="50.60" y="64.44" width="4.90" height="2.66" fill="#8064A2"/>
<rect x="55.10" y="64.44" width="0.95" height="2.66" fill="#4BACC6"/>
<rect x="55.65" y="64.44" width="0.52" height="2.66" fill="#F79646"/>
<rect x="55.77" y="64.44" width="0.95" height="2.66" fill="#2C4D75"/>
<rect x="56.32" y="64.44" width="0.48" height="2.66" fill="#772C2A"/>
<rect x="56.40" y="64.44" width="0.87" height="2.66" fill="#5F7530"/>
<rect x="56.87" y="64.44" width="0.49" height="2.66" fill="#4D3B62"/>
<rect x="56.96" y="64.44" width="0.68" height="2.66" fill="#276A7C"/>
<rect x="57.24" y="64.44" width="0.45" height="2.66" fill="#B65708"/>
<rect x="57.29" y="64.44" width="0.67" height="2.66" fill="#729ACA"/>
<rect x="57.55" y="64.44" width="0.45" height="2.66" fill="#CD7371"/>
<rect x="57.60" y="64.44" width="5.40" height="2.66" fill="#AFC97A"/>
<rect x="62.60" y="64.44" width="3.30" height="2.66" fill="#9983B5"/>
<rect x="36.00" y="60.85" width="7.30" height="2.66" fill="#4F81BD"/>
<rect x="42.90" y="60.85" width="16.60" height="2.66" fill="#C0504D"/>
<rect x="59.10" y="60.85" width="2.00" height="2.66" fill="#9BBB59"/>
<rect x="60.70" y="60.85" width="7.60" height="2.66" fill="#8064A2"/>
<rect x="67.90" y="60.85" width="2.04" height="2.66" fill="#4BACC6"/>
<rect x="69.54" y="60.85" width="0.78" height="2.66" fill="#F79646"/>
<rect x="69.92" y="60.85" width="2.04" height="2.66" fill="#2C4D75"/>
<rect x="71.56" y="60.85" width="0.63" height="2.66" fill="#772C2A"/>
<rect x="71.79" y="60.85" width="1.81" height="2.66" fill="#5F7530"/>
<rect x="73.20" y="60.85" width="0.68" height="2.66" fill="#4D3B62"/>
<rect x="73.48" y="60.85" width="1.24" height="2.66" fill="#276A7C"/>
<rect x="74.32" y="60.85" width="0.54" height="2.66" fill="#B65708"/>
<rect x="74.46" y="60.85" width="1.20" height="2.66" fill="#729ACA"/>
<rect x="75.26" y="60.85" width="0.54" height="2.66" fill="#CD7371"/>
<rect x="75.40" y="60.85" width="9.60" height="2.66" fill="#AFC97A"/>
<rect x="84.60" y="60.85" width="3.40" height="2.66" fill="#9983B5"/>
<rect x="36.00" y="57.26" width="4.40" height="2.66" fill="#4F81BD"/>
<rect x="40.00" y="57.26" width="11.60" height="2.66" fill="#C0504D"/>
<rect x="51.20" y="57.26" width="1.30" height="2.66" fill="#9BBB59"/>
<rect x="52.10" y="57.26" width="4.20" height="2.66" fill="#8064A2"/>
<rect x="55.90" y="57.26" width="1.98" height="2.66" fill="#4BACC6"/>
<rect x="57.48" y="57.26" width="0.76" height="2.66" fill="#F79646"/>
<rect x="57.84" y="57.26" width="1.98" height="2.66" fill="#2C4D75"/>
<rect x="59.41" y="57.26" width="0.62" height="2.66" fill="#772C2A"/>
<rect x="59.64" y="57.26" width="1.75" height="2.66" fill="#5F7530"/>
<rect x="60.99" y="57.26" width="0.67" height="2.66" fill="#4D3B62"/>
<rect x="61.26" y="57.26" width="1.21" height="2.66" fill="#276A7C"/>
<rect x="62.07" y="57.26" width="0.53" height="2.66" fill="#B65708"/>
<rect x="62.20" y="57.26" width="1.16" height="2.66" fill="#729ACA"/>
<rect x="62.97" y="57.26" width="0.53" height="2.66" fill="#CD7371"/>
<rect x="63.10" y="57.26" width="12.10" height="2.66" fill="#AFC97A"/>
<rect x="74.80" y="57.26" width="2.60" height="2.66" fill="#9983B5"/>
<rect x="36.00" y="53.67" width="5.00" height="2.66" fill="#4F81BD"/>
<rect x="40.60" y="53.67" width="15.10" height="2.66" fill="#C0504D"/>
<rect x="55.30" y="53.67" width="1.70" height="2.66" fill="#9BBB59"/>
<rect x="56.60" y="53.67" width="9.40" height="2.66" fill="#8064A2"/>
<rect x="65.60" y="53.67" width="1.21" height="2.66" fill="#4BACC6"/>
<rect x="66.41" y="53.67" width="0.59" height="2.66" fill="#F79646"/>
<rect x="66.59" y="53.67" width="1.21" height="2.66" fill="#2C4D75"/>
<rect x="67.40" y="53.67" width="0.52" height="2.66" fill="#772C2A"/>
<rect x="67.52" y="53.67" width="1.09" height="2.66" fill="#5F7530"/>
<rect x="68.21" y="53.67" width="0.54" height="2.66" fill="#4D3B62"/>
<rect x="68.35" y="53.67" width="0.82" height="2.66" fill="#276A7C"/>
<rect x="68.77" y="53.67" width="0.47" height="2.66" fill="#B65708"/>
<rect x="68.84" y="53.67" width="0.79" height="2.66" fill="#729ACA"/>
<rect x="69.23" y="53.67" width="0.47" height="2.66" fill="#CD7371"/>
<rect x="69.30" y="53.67" width="11.70" height="2.66" fill="#AFC97A"/>
<rect x="80.60" y="53.67" width="3.80" height="2.66" fill="#9983B5"/>
<rect x="36.00" y="50.08" width="29.90" height="2.66" fill="#4F81BD"/>
<rect x="65.50" y="50.08" width="59.10" height="2.66" fill="#C0504D"/>
<rect x="124.20" y="50.08" width="6.80" height="2.66" fill="#9BBB59"/>
<rect x="130.60" y="50.08" width="23.80" height="2.66" fill="#8064A2"/>
<rect x="154.00" y="50.08" width="3.57" height="2.66" fill="#4BACC6"/>
<rect x="157.17" y="50.08" width="1.12" height="2.66" fill="#F79646"/>
<rect x="157.90" y="50.08" width="3.57" height="2.66" fill="#2C4D75"/>
<rect x="161.07" y="50.08" width="0.85" height="2.66" fill="#772C2A"/>
<rect x="161.52" y="50.08" width="3.12" height="2.66" fill="#5F7530"/>
<rect x="164.24" y="50.08" width="0.94" height="2.66" fill="#4D3B62"/>
<rect x="164.78" y="50.08" width="2.03" height="2.66" fill="#276A7C"/>
<rect x="166.42" y="50.08" width="0.67" height="2.66" fill="#B65708"/>
<rect x="166.69" y="50.08" width="1.94" height="2.66" fill="#729ACA"/>
<rect x="168.23" y="50.08" width="0.67" height="2.66" fill="#CD7371"/>
<rect x="168.50" y="50.08" width="15.70" height="2.66" fill="#AFC97A"/>
<rect x="183.80" y="50.08" width="5.70" height="2.66" fill="#9983B5"/>
<rect x="36.00" y="46.49" width="6.00" height="2.66" fill="#4F81BD"/>
<rect x="41.60" y="46.49" width="12.20" height="2.66" fill="#C0504D"/>
<rect x="53.40" y="46.49" width="1.60" height="2.66" fill="#9BBB59"/>
<rect x="54.60" y="46.49" width="7.40" height="2.66" fill="#8064A2"/>
<rect x="61.60" y="46.49" width="1.93" height="2.66" fill="#4BACC6"/>
<rect x="63.13" y="46.49" width="0.75" height="2.66" fill="#F79646"/>
<rect x="63.48" y="46.49" width="1.93" height="2.66" fill="#2C4D75"/>
<rect x="65.01" y="46.49" width="0.62" height="2.66" fill="#772C2A"/>
<rect x="65.23" y="46.49" width="1.71" height="2.66" fill="#5F7530"/>
<rect x="66.54" y="46.49" width="0.66" height="2.66" fill="#4D3B62"/>
<rect x="66.81" y="46.49" width="1.19" height="2.66" fill="#276A7C"/>
<rect x="67.59" y="46.49" width="0.53" height="2.66" fill="#B65708"/>
<rect x="67.72" y="46.49" width="1.14" height="2.66" fill="#729ACA"/>
<rect x="68.47" y="46.49" width="0.53" height="2.66" fill="#CD7371"/>
<rect x="68.60" y="46.49" width="10.10" height="2.66" fill="#AFC97A"/>
<rect x="78.30" y="46.49" width="3.60" height="2.66" fill="#9983B5"/>
<rect x="36.00" y="42.90" width="4.40" height="2.66" fill="#4F81BD"/>
<rect x="40.00" y="42.90" width="10.00" height="2.66" fill="#C0504D"/>
<rect x="49.60" y="42.90" width="1.90" height="2.66" fill="#9BBB59"/>
<rect x="51.10" y="42.90" width="5.20" height="2.66" fill="#8064A2"/>
<rect x="55.90" y="42.90" width="1.80" height="2.66" fill="#4BACC6"/>
<rect x="57.30" y="42.90" width="0.72" height="2.66" fill="#F79646"/>
<rect x="57.62" y="42.90" width="1.80" height="2.66" fill="#2C4D75"/>
<rect x="59.02" y="42.90" width="0.60" height="2.66" fill="#772C2A"/>
<rect x="59.22" y="42.90" width="1.60" height="2.66" fill="#5F7530"/>
<rect x="60.42" y="42.90" width="0.64" height="2.66" fill="#4D3B62"/>
<rect x="60.66" y="42.90" width="1.12" height="2.66" fill="#276A7C"/>
<rect x="61.38" y="42.90" width="0.52" height="2.66" fill="#B65708"/>
<rect x="61.50" y="42.90" width="1.08" height="2.66" fill="#729ACA"/>
<rect x="62.18" y="42.90" width="0.52" height="2.66" fill="#CD7371"/>
<rect x="62.30" y="42.90" width="13.20" height="2.66" fill="#AFC97A"/>
<rect x="75.10" y="42.90" width="3.60" height="2.66" fill="#9983B5"/>
<rect x="36.00" y="39.31" width="17.80" height="2.66" fill="#4F81BD"/>
<rect x="53.40" y="39.31" width="26.90" height="2.66" fill="#C0504D"/>
<rect x="79.90" y="39.31" width="2.60" height="2.66" fill="#9BBB59"/>
<rect x="82.10" y="39.31" width="9.40" height="2.66" fill="#8064A2"/>
<rect x="91.10" y="39.31" width="1.82" height="2.66" fill="#4BACC6"/>
<rect x="92.52" y="39.31" width="0.73" height="2.66" fill="#F79646"/>
<rect x="92.85" y="39.31" width="1.82" height="2.66" fill="#2C4D75"/>
<rect x="94.27" y="39.31" width="0.60" height="2.66" fill="#772C2A"/>
<rect x="94.47" y="39.31" width="1.62" height="2.66" fill="#5F7530"/>
<rect x="95.69" y="39.31" width="0.64" height="2.66" fill="#4D3B62"/>
<rect x="95.93" y="39.31" width="1.13" height="2.66" fill="#276A7C"/>
<rect x="96.67" y="39.31" width="0.52" height="2.66" fill="#B65708"/>
<rect x="96.79" y="39.31" width="1.09" height="2.66" fill="#729ACA"/>
<rect x="97.48" y="39.31" width="0.52" height="2.66" fill="#CD7371"/>
<rect x="97.60" y="39.31" width="8.40" height="2.66" fill="#AFC97A"/>
<rect x="105.60" y="39.31" width="5.00" height="2.66" fill="#9983B5"/>
<rect x="36.00" y="35.72" width="9.00" height="2.66" fill="#4F81BD"/>
<rect x="44.60" y="35.72" width="16.40" height="2.66" fill="#C0504D"/>
<rect x="60.60" y="35.72" width="1.40" height="2.66" fill="#9BBB59"/>
<rect x="61.60" y="35.72" width="7.40" height="2.66" fill="#8064A2"/>
<rect x="68.60" y="35.72" width="2.04" height="2.66" fill="#4BACC6"/>
<rect x="70.24" y="35.72" width="0.78" height="2.66" fill="#F79646"/>
<rect x="70.62" y="35.72" width="2.04" height="2.66" fill="#2C4D75"/>
<rect x="72.26" y="35.72" width="0.63" height="2.66" fill="#772C2A"/>
<rect x="72.49" y="35.72" width="1.81" height="2.66" fill="#5F7530"/>
<rect x="73.90" y="35.72" width="0.68" height="2.66" fill="#4D3B62"/>
<rect x="74.18" y="35.72" width="1.24" height="2.66" fill="#276A7C"/>
<rect x="75.02" y="35.72" width="0.54" height="2.66" fill="#B65708"/>
<rect x="75.16" y="35.72" width="1.20" height="2.66" fill="#729ACA"/>
<rect x="75.96" y="35.72" width="0.54" height="2.66" fill="#CD7371"/>
<rect x="76.10" y="35.72" width="10.60" height="2.66" fill="#AFC97A"/>
<rect x="86.30" y="35.72" width="5.20" height="2.66" fill="#9983B5"/>
<rect x="36.00" y="32.13" width="23.50" height="2.66" fill="#4F81BD"/>
<rect x="59.10" y="32.13" width="48.90" height="2.66" fill="#C0504D"/>
<rect x="107.60" y="32.13" width="5.40" height="2.66" fill="#9BBB59"/>
<rect x="112.60" y="32.13" width="20.50" height="2.66" fill="#8064A2"/>
<rect x="132.70" y="32.13" width="4.03" height="2.66" fill="#4BACC6"/>
<rect x="136.33" y="32.13" width="1.23" height="2.66" fill="#F79646"/>
<rect x="137.16" y="32.13" width="4.03" height="2.66" fill="#2C4D75"/>
<rect x="140.79" y="32.13" width="0.92" height="2.66" fill="#772C2A"/>
<rect x="141.31" y="32.13" width="3.51" height="2.66" fill="#5F7530"/>
<rect x="144.42" y="32.13" width="1.02" height="2.66" fill="#4D3B62"/>
<rect x="145.05" y="32.13" width="2.27" height="2.66" fill="#276A7C"/>
<rect x="146.91" y="32.13" width="0.71" height="2.66" fill="#B65708"/>
<rect x="147.23" y="32.13" width="2.16" height="2.66" fill="#729ACA"/>
<rect x="148.99" y="32.13" width="0.71" height="2.66" fill="#CD7371"/>
<rect x="149.30" y="32.13" width="19.00" height="2.66" fill="#AFC97A"/>
<rect x="167.90" y="32.13" width="5.20" height="2.66" fill="#9983B5"/>
<rect x="36.00" y="28.54" width="33.10" height="2.66" fill="#4F81BD"/>
<rect x="68.70" y="28.54" width="67.30" height="2.66" fill="#C0504D"/>
<rect x="135.60" y="28.54" width="7.80" height="2.66" fill="#9BBB59"/>
<rect x="143.00" y="28.54" width="25.90" height="2.66" fill="#8064A2"/>
<rect x="168.50" y="28.54" width="5.02" height="2.66" fill="#4BACC6"/>
<rect x="173.12" y="28.54" width="1.46" height="2.66" fill="#F79646"/>
<rect x="174.17" y="28.54" width="5.02" height="2.66" fill="#2C4D75"/>
<rect x="178.79" y="28.54" width="1.06" height="2.66" fill="#772C2A"/>
<rect x="179.45" y="28.54" width="4.36" height="2.66" fill="#5F7530"/>
<rect x="183.40" y="28.54" width="1.19" height="2.66" fill="#4D3B62"/>
<rect x="184.19" y="28.54" width="2.77" height="2.66" fill="#276A7C"/>
<rect x="186.57" y="28.54" width="0.80" height="2.66" fill="#B65708"/>
<rect x="186.96" y="28.54" width="2.64" height="2.66" fill="#729ACA"/>
<rect x="189.20" y="28.54" width="0.80" height="2.66" fill="#CD7371"/>
<rect x="189.60" y="28.54" width="21.70" height="2.66" fill="#AFC97A"/>
<rect x="210.90" y="28.54" width="4.20" height="2.66" fill="#9983B5"/>
<rect x="36.00" y="24.95" width="33.10" height="2.66" fill="#4F81BD"/>
<rect x="68.70" y="24.95" width="67.30" height="2.66" fill="#C0504D"/>
<rect x="135.60" y="24.95" width="7.80" height="2.66" fill="#9BBB59"/>
<rect x="143.00" y="24.95" width="25.90" height="2.66" fill="#8064A2"/>
<rect x="168.50" y="24.95" width="5.02" height="2.66" fill="#4BACC6"/>
<rect x="173.12" y="24.95" width="1.46" height="2.66" fill="#F79646"/>
<rect x="174.17" y="24.95" width="5.02" height="2.66" fill="#2C4D75"/>
<rect x="178.79" y="24.95" width="1.06" height="2.66" fill="#772C2A"/>
<rect x="179.45" y="24.95" width="4.36" height="2.66" fill="#5F7530"/>
<rect x="183.40" y="24.95" width="1.19" height="2.66" fill="#4D3B62"/>
<rect x="184.19" y="24.95" width="2.77" height="2.66" fill="#276A7C"/>
<rect x="186.57" y="24.95" width="0.80" height="2.66" fill="#B65708"/>
<rect x="186.96" y="24.95" width="2.64" height="2.66" fill="#729ACA"/>
<rect x="189.20" y="24.95" width="0.80" height="2.66" fill="#CD7371"/>
<rect x="189.60" y="24.95" width="21.70" height="2.66" fill="#AFC97A"/>
<rect x="210.90" y="24.95" width="4.20" height="2.66" fill="#9983B5"/>
<rect x="36.00" y="21.36" width="23.50" height="2.66" fill="#4F81BD"/>
<rect x="59.10" y="21.36" width="53.10" height="2.66" fill="#C0504D"/>
<rect x="111.80" y="21.36" width="5.40" height="2.66" fill="#9BBB59"/>
<rect x="116.80" y="21.36" width="20.60" height="2.66" fill="#8064A2"/>
<rect x="137.00" y="21.36" width="4.36" height="2.66" fill="#4BACC6"/>
<rect x="140.96" y="21.36" width="1.31" height="2.66" fill="#F79646"/>
<rect x="141.86" y="21.36" width="4.36" height="2.66" fill="#2C4D75"/>
<rect x="145.82" y="21.36" width="0.97" height="2.66" fill="#772C2A"/>
<rect x="146.39" y="21.36" width="3.79" height="2.66" fill="#5F7530"/>
<rect x="149.78" y="21.36" width="1.08" height="2.66" fill="#4D3B62"/>
<rect x="150.46" y="21.36" width="2.44" height="2.66" fill="#276A7C"/>
<rect x="152.50" y="21.36" width="0.74" height="2.66" fill="#B65708"/>
<rect x="152.84" y="21.36" width="2.32" height="2.66" fill="#729ACA"/>
<rect x="154.76" y="21.36" width="0.74" height="2.66" fill="#CD7371"/>
<rect x="155.10" y="21.36" width="23.80" height="2.66" fill="#AFC97A"/>
<rect x="178.50" y="21.36" width="4.60" height="2.66" fill="#9983B5"/>
<rect x="36.00" y="17.77" width="28.30" height="2.66" fill="#4F81BD"/>
<rect x="63.90" y="17.77" width="60.70" height="2.66" fill="#C0504D"/>
<rect x="124.20" y="17.77" width="6.80" height="2.66" fill="#9BBB59"/>
<rect x="130.60" y="17.77" width="23.80" height="2.66" fill="#8064A2"/>
<rect x="154.00" y="17.77" width="4.25" height="2.66" fill="#4BACC6"/>
<rect x="157.85" y="17.77" width="1.28" height="2.66" fill="#F79646"/>
<rect x="158.73" y="17.77" width="4.25" height="2.66" fill="#2C4D75"/>
<rect x="162.58" y="17.77" width="0.95" height="2.66" fill="#772C2A"/>
<rect x="163.13" y="17.77" width="3.70" height="2.66" fill="#5F7530"/>
<rect x="166.43" y="17.77" width="1.06" height="2.66" fill="#4D3B62"/>
<rect x="167.09" y="17.77" width="2.38" height="2.66" fill="#276A7C"/>
<rect x="169.07" y="17.77" width="0.73" height="2.66" fill="#B65708"/>
<rect x="169.40" y="17.77" width="2.27" height="2.66" fill="#729ACA"/>
<rect x="171.27" y="17.77" width="0.73" height="2.66" fill="#CD7371"/>
<rect x="171.60" y="17.77" width="25.40" height="2.66" fill="#AFC97A"/>
<rect x="196.60" y="17.77" width="3.40" height="2.66" fill="#9983B5"/>
</g>
<line x1="100.20" y1="17.3" x2="100.20" y2="441.0" stroke="#BFBFBF" stroke-width="1" opacity="0.3"/>
<line x1="164.40" y1="17.3" x2="164.40" y2="441.0" stroke="#BFBFBF" stroke-width="1" opacity="0.3"/>
<line x1="228.60" y1="17.3" x2="228.60" y2="441.0" stroke="#BFBFBF" stroke-width="1" opacity="0.3"/>
<line x1="292.80" y1="17.3" x2="292.80" y2="441.0" stroke="#BFBFBF" stroke-width="1" opacity="0.3"/>
<path d="M36.0 17.3 H357.3 V441.1 H36.0 Z" fill="none" stroke="#F0F0F0" stroke-width="1.25"/>
<line x1="32.6" y1="441.00" x2="36" y2="441.00" stroke="#F0F0F0" stroke-width="1.0"/>
<line x1="33.2" y1="437.41" x2="36" y2="437.41" stroke="#F0F0F0" stroke-width="0.8"/>
<line x1="33.2" y1="433.82" x2="36" y2="433.82" stroke="#F0F0F0" stroke-width="0.8"/>
<line x1="33.2" y1="430.23" x2="36" y2="430.23" stroke="#F0F0F0" stroke-width="0.8"/>
<line x1="33.2" y1="426.64" x2="36" y2="426.64" stroke="#F0F0F0" stroke-width="0.8"/>
<line x1="32.6" y1="423.05" x2="36" y2="423.05" stroke="#F0F0F0" stroke-width="1.0"/>
<line x1="33.2" y1="419.46" x2="36" y2="419.46" stroke="#F0F0F0" stroke-width="0.8"/>
<line x1="33.2" y1="415.87" x2="36" y2="415.87" stroke="#F0F0F0" stroke-width="0.8"/>
<line x1="33.2" y1="412.27" x2="36" y2="412.27" stroke="#F0F0F0" stroke-width="0.8"/>
<line x1="33.2" y1="408.68" x2="36" y2="408.68" stroke="#F0F0F0" stroke-width="0.8"/>
<line x1="32.6" y1="405.09" x2="36" y2="405.09" stroke="#F0F0F0" stroke-width="1.0"/>
<line x1="33.2" y1="401.50" x2="36" y2="401.50" stroke="#F0F0F0" stroke-width="0.8"/>
<line x1="33.2" y1="397.91" x2="36" y2="397.91" stroke="#F0F0F0" stroke-width="0.8"/>
<line x1="33.2" y1="394.32" x2="36" y2="394.32" stroke="#F0F0F0" stroke-width="0.8"/>
<line x1="33.2" y1="390.73" x2="36" y2="390.73" stroke="#F0F0F0" stroke-width="0.8"/>
<line x1="32.6" y1="387.14" x2="36" y2="387.14" stroke="#F0F0F0" stroke-width="1.0"/>
<line x1="33.2" y1="383.55" x2="36" y2="383.55" stroke="#F0F0F0" stroke-width="0.8"/>
<line x1="33.2" y1="379.96" x2="36" y2="379.96" stroke="#F0F0F0" stroke-width="0.8"/>
<line x1="33.2" y1="376.37" x2="36" y2="376.37" stroke="#F0F0F0" stroke-width="0.8"/>
<line x1="33.2" y1="372.78" x2="36" y2="372.78" stroke="#F0F0F0" stroke-width="0.8"/>
<line x1="32.6" y1="369.19" x2="36" y2="369.19" stroke="#F0F0F0" stroke-width="1.0"/>
<line x1="33.2" y1="365.60" x2="36" y2="365.60" stroke="#F0F0F0" stroke-width="0.8"/>
<line x1="33.2" y1="362.01" x2="36" y2="362.01" stroke="#F0F0F0" stroke-width="0.8"/>
<line x1="33.2" y1="358.41" x2="36" y2="358.41" stroke="#F0F0F0" stroke-width="0.8"/>
<line x1="33.2" y1="354.82" x2="36" y2="354.82" stroke="#F0F0F0" stroke-width="0.8"/>
<line x1="32.6" y1="351.23" x2="36" y2="351.23" stroke="#F0F0F0" stroke-width="1.0"/>
<line x1="33.2" y1="347.64" x2="36" y2="347.64" stroke="#F0F0F0" stroke-width="0.8"/>
<line x1="33.2" y1="344.05" x2="36" y2="344.05" stroke="#F0F0F0" stroke-width="0.8"/>
<line x1="33.2" y1="340.46" x2="36" y2="340.46" stroke="#F0F0F0" stroke-width="0.8"/>
<line x1="33.2" y1="336.87" x2="36" y2="336.87" stroke="#F0F0F0" stroke-width="0.8"/>
<line x1="32.6" y1="333.28" x2="36" y2="333.28" stroke="#F0F0F0" stroke-width="1.0"/>
<line x1="33.2" y1="329.69" x2="36" y2="329.69" stroke="#F0F0F0" stroke-width="0.8"/>
<line x1="33.2" y1="326.10" x2="36" y2="326.10" stroke="#F0F0F0" stroke-width="0.8"/>
<line x1="33.2" y1="322.51" x2="36" y2="322.51" stroke="#F0F0F0" stroke-width="0.8"/>
<line x1="33.2" y1="318.92" x2="36" y2="318.92" stroke="#F0F0F0" stroke-width="0.8"/>
<line x1="32.6" y1="315.33" x2="36" y2="315.33" stroke="#F0F0F0" stroke-width="1.0"/>
<line x1="33.2" y1="311.74" x2="36" y2="311.74" stroke="#F0F0F0" stroke-width="0.8"/>
<line x1="33.2" y1="308.14" x2="36" y2="308.14" stroke="#F0F0F0" stroke-width="0.8"/>
<line x1="33.2" y1="304.55" x2="36" y2="304.55" stroke="#F0F0F0" stroke-width="0.8"/>
<line x1="33.2" y1="300.96" x2="36" y2="300.96" stroke="#F0F0F0" stroke-width="0.8"/>
<line x1="32.6" y1="297.37" x2="36" y2="297.37" stroke="#F0F0F0" stroke-width="1.0"/>
<line x1="33.2" y1="293.78" x2="36" y2="293.78" stroke="#F0F0F0" stroke-width="0.8"/>
<line x1="33.2" y1="290.19" x2="36" y2="290.19" stroke="#F0F0F0" stroke-width="0.8"/>
<line x1="33.2" y1="286.60" x2="36" y2="286.60" stroke="#F0F0F0" stroke-width="0.8"/>
<line x1="33.2" y1="283.01" x2="36" y2="283.01" stroke="#F0F0F0" stroke-width="0.8"/>
<line x1="32.6" y1="279.42" x2="36" y2="279.42" stroke="#F0F0F0" stroke-width="1.0"/>
<line x1="33.2" y1="275.83" x2="36" y2="275.83" stroke="#F0F0F0" stroke-width="0.8"/>
<line x1="33.2" y1="272.24" x2="36" y2="272.24" stroke="#F0F0F0" stroke-width="0.8"/>
<line x1="33.2" y1="268.65" x2="36" y2="268.65" stroke="#F0F0F0" stroke-width="0.8"/>
<line x1="33.2" y1="265.06" x2="36" y2="265.06" stroke="#F0F0F0" stroke-width="0.8"/>
<line x1="32.6" y1="261.47" x2="36" y2="261.47" stroke="#F0F0F0" stroke-width="1.0"/>
<line x1="33.2" y1="257.88" x2="36" y2="257.88" stroke="#F0F0F0" stroke-width="0.8"/>
<line x1="33.2" y1="254.28" x2="36" y2="254.28" stroke="#F0F0F0" stroke-width="0.8"/>
<line x1="33.2" y1="250.69" x2="36" y2="250.69" stroke="#F0F0F0" stroke-width="0.8"/>
<line x1="33.2" y1="247.10" x2="36" y2="247.10" stroke="#F0F0F0" stroke-width="0.8"/>
<line x1="32.6" y1="243.51" x2="36" y2="243.51" stroke="#F0F0F0" stroke-width="1.0"/>
<line x1="33.2" y1="239.92" x2="36" y2="239.92" stroke="#F0F0F0" stroke-width="0.8"/>
<line x1="33.2" y1="236.33" x2="36" y2="236.33" stroke="#F0F0F0" stroke-width="0.8"/>
<line x1="33.2" y1="232.74" x2="36" y2="232.74" stroke="#F0F0F0" stroke-width="0.8"/>
<line x1="33.2" y1="229.15" x2="36" y2="229.15" stroke="#F0F0F0" stroke-width="0.8"/>
<line x1="32.6" y1="225.56" x2="36" y2="225.56" stroke="#F0F0F0" stroke-width="1.0"/>
<line x1="33.2" y1="221.97" x2="36" y2="221.97" stroke="#F0F0F0" stroke-width="0.8"/>
<line x1="33.2" y1="218.38" x2="36" y2="218.38" stroke="#F0F0F0" stroke-width="0.8"/>
<line x1="33.2" y1="214.79" x2="36" y2="214.79" stroke="#F0F0F0" stroke-width="0.8"/>
<line x1="33.2" y1="211.20" x2="36" y2="211.20" stroke="#F0F0F0" stroke-width="0.8"/>
<line x1="32.6" y1="207.61" x2="36" y2="207.61" stroke="#F0F0F0" stroke-width="1.0"/>
<line x1="33.2" y1="204.02" x2="36" y2="204.02" stroke="#F0F0F0" stroke-width="0.8"/>
<line x1="33.2" y1="200.42" x2="36" y2="200.42" stroke="#F0F0F0" stroke-width="0.8"/>
<line x1="33.2" y1="196.83" x2="36" y2="196.83" stroke="#F0F0F0" stroke-width="0.8"/>
<line x1="33.2" y1="193.24" x2="36" y2="193.24" stroke="#F0F0F0" stroke-width="0.8"/>
<line x1="32.6" y1="189.65" x2="36" y2="189.65" stroke="#F0F0F0" stroke-width="1.0"/>
<line x1="33.2" y1="186.06" x2="36" y2="186.06" stroke="#F0F0F0" stroke-width="0.8"/>
<line x1="33.2" y1="182.47" x2="36" y2="182.47" stroke="#F0F0F0" stroke-width="0.8"/>
<line x1="33.2" y1="178.88" x2="36" y2="178.88" stroke="#F0F0F0" stroke-width="0.8"/>
<line x1="33.2" y1="175.29" x2="36" y2="175.29" stroke="#F0F0F0" stroke-width="0.8"/>
<line x1="32.6" y1="171.70" x2="36" y2="171.70" stroke="#F0F0F0" stroke-width="1.0"/>
<line x1="33.2" y1="168.11" x2="36" y2="168.11" stroke="#F0F0F0" stroke-width="0.8"/>
<line x1="33.2" y1="164.52" x2="36" y2="164.52" stroke="#F0F0F0" stroke-width="0.8"/>
<line x1="33.2" y1="160.93" x2="36" y2="160.93" stroke="#F0F0F0" stroke-width="0.8"/>
<line x1="33.2" y1="157.34" x2="36" y2="157.34" stroke="#F0F0F0" stroke-width="0.8"/>
<line x1="32.6" y1="153.75" x2="36" y2="153.75" stroke="#F0F0F0" stroke-width="1.0"/>
<line x1="33.2" y1="150.16" x2="36" y2="150.16" stroke="#F0F0F0" stroke-width="0.8"/>
<line x1="33.2" y1="146.56" x2="36" y2="146.56" stroke="#F0F0F0" stroke-width="0.8"/>
<line x1="33.2" y1="142.97" x2="36" y2="142.97" stroke="#F0F0F0" stroke-width="0.8"/>
<line x1="33.2" y1="139.38" x2="36" y2="139.38" stroke="#F0F0F0" stroke-width="0.8"/>
<line x1="32.6" y1="135.79" x2="36" y2="135.79" stroke="#F0F0F0" stroke-width="1.0"/>
<line x1="33.2" y1="132.20" x2="36" y2="132.20" stroke="#F0F0F0" stroke-width="0.8"/>
<line x1="33.2" y1="128.61" x2="36" y2="128.61" stroke="#F0F0F0" stroke-width="0.8"/>
<line x1="33.2" y1="125.02" x2="36" y2="125.02" stroke="#F0F0F0" stroke-width="0.8"/>
<line x1="33.2" y1="121.43" x2="36" y2="121.43" stroke="#F0F0F0" stroke-width="0.8"/>
<line x1="32.6" y1="117.84" x2="36" y2="117.84" stroke="#F0F0F0" stroke-width="1.0"/>
<line x1="33.2" y1="114.25" x2="36" y2="114.25" stroke="#F0F0F0" stroke-width="0.8"/>
<line x1="33.2" y1="110.66" x2="36" y2="110.66" stroke="#F0F0F0" stroke-width="0.8"/>
<line x1="33.2" y1="107.07" x2="36" y2="107.07" stroke="#F0F0F0" stroke-width="0.8"/>
<line x1="33.2" y1="103.48" x2="36" y2="103.48" stroke="#F0F0F0" stroke-width="0.8"/>
<line x1="32.6" y1="99.89" x2="36" y2="99.89" stroke="#F0F0F0" stroke-width="1.0"/>
<line x1="33.2" y1="96.29" x2="36" y2="96.29" stroke="#F0F0F0" stroke-width="0.8"/>
<line x1="33.2" y1="92.70" x2="36" y2="92.70" stroke="#F0F0F0" stroke-width="0.8"/>
<line x1="33.2" y1="89.11" x2="36" y2="89.11" stroke="#F0F0F0" stroke-width="0.8"/>
<line x1="33.2" y1="85.52" x2="36" y2="85.52" stroke="#F0F0F0" stroke-width="0.8"/>
<line x1="32.6" y1="81.93" x2="36" y2="81.93" stroke="#F0F0F0" stroke-width="1.0"/>
<line x1="33.2" y1="78.34" x2="36" y2="78.34" stroke="#F0F0F0" stroke-width="0.8"/>
<line x1="33.2" y1="74.75" x2="36" y2="74.75" stroke="#F0F0F0" stroke-width="0.8"/>
<line x1="33.2" y1="71.16" x2="36" y2="71.16" stroke="#F0F0F0" stroke-width="0.8"/>
<line x1="33.2" y1="67.57" x2="36" y2="67.57" stroke="#F0F0F0" stroke-width="0.8"/>
<line x1="32.6" y1="63.98" x2="36" y2="63.98" stroke="#F0F0F0" stroke-width="1.0"/>
<line x1="33.2" y1="60.39" x2="36" y2="60.39" stroke="#F0F0F0" stroke-width="0.8"/>
<line x1="33.2" y1="56.80" x2="36" y2="56.80" stroke="#F0F0F0" stroke-width="0.8"/>
<line x1="33.2" y1="53.21" x2="36" y2="53.21" stroke="#F0F0F0" stroke-width="0.8"/>
<line x1="33.2" y1="49.62" x2="36" y2="49.62" stroke="#F0F0F0" stroke-width="0.8"/>
<line x1="32.6" y1="46.03" x2="36" y2="46.03" stroke="#F0F0F0" stroke-width="1.0"/>
<line x1="33.2" y1="42.43" x2="36" y2="42.43" stroke="#F0F0F0" stroke-width="0.8"/>
<line x1="33.2" y1="38.84" x2="36" y2="38.84" stroke="#F0F0F0" stroke-width="0.8"/>
<line x1="33.2" y1="35.25" x2="36" y2="35.25" stroke="#F0F0F0" stroke-width="0.8"/>
<line x1="33.2" y1="31.66" x2="36" y2="31.66" stroke="#F0F0F0" stroke-width="0.8"/>
<line x1="32.6" y1="28.07" x2="36" y2="28.07" stroke="#F0F0F0" stroke-width="1.0"/>
<line x1="33.2" y1="24.48" x2="36" y2="24.48" stroke="#F0F0F0" stroke-width="0.8"/>
<line x1="33.2" y1="20.89" x2="36" y2="20.89" stroke="#F0F0F0" stroke-width="0.8"/>
<line x1="33.2" y1="17.30" x2="36" y2="17.30" stroke="#F0F0F0" stroke-width="0.8"/>
<line x1="36.00" y1="441.0" x2="36.00" y2="443.8" stroke="#F0F0F0" stroke-width="1"/>
<line x1="100.20" y1="441.0" x2="100.20" y2="443.8" stroke="#F0F0F0" stroke-width="1"/>
<line x1="164.40" y1="441.0" x2="164.40" y2="443.8" stroke="#F0F0F0" stroke-width="1"/>
<line x1="228.60" y1="441.0" x2="228.60" y2="443.8" stroke="#F0F0F0" stroke-width="1"/>
<line x1="292.80" y1="441.0" x2="292.80" y2="443.8" stroke="#F0F0F0" stroke-width="1"/>
<line x1="357.00" y1="441.0" x2="357.00" y2="443.8" stroke="#F0F0F0" stroke-width="1"/>
<line x1="89.03" y1="460.6" x2="89.03" y2="514.2" stroke="#BFBFBF" stroke-width="1"/>
<line x1="142.46" y1="460.6" x2="142.46" y2="514.2" stroke="#BFBFBF" stroke-width="1"/>
<line x1="195.89" y1="460.6" x2="195.89" y2="514.2" stroke="#BFBFBF" stroke-width="1"/>
<line x1="249.32" y1="460.6" x2="249.32" y2="514.2" stroke="#BFBFBF" stroke-width="1"/>
<line x1="302.75" y1="460.6" x2="302.75" y2="514.2" stroke="#BFBFBF" stroke-width="1"/>
<g clip-path="url(#cb)">
<rect x="35.60" y="508.31" width="0.33" height="2.40" fill="#4F81BD"/>
<rect x="35.53" y="508.31" width="1.73" height="2.40" fill="#C0504D"/>
<rect x="36.86" y="508.31" width="0.57" height="2.40" fill="#9BBB59"/>
<rect x="37.03" y="508.31" width="0.90" height="2.40" fill="#8064A2"/>
<rect x="37.53" y="508.31" width="0.64" height="2.40" fill="#4BACC6"/>
<rect x="37.77" y="508.31" width="0.45" height="2.40" fill="#F79646"/>
<rect x="37.83" y="508.31" width="0.64" height="2.40" fill="#2C4D75"/>
<rect x="38.07" y="508.31" width="0.43" height="2.40" fill="#772C2A"/>
<rect x="38.10" y="508.31" width="0.61" height="2.40" fill="#5F7530"/>
<rect x="38.31" y="508.31" width="0.44" height="2.40" fill="#4D3B62"/>
<rect x="38.35" y="508.31" width="0.52" height="2.40" fill="#276A7C"/>
<rect x="38.47" y="508.31" width="0.42" height="2.40" fill="#B65708"/>
<rect x="38.49" y="508.31" width="0.52" height="2.40" fill="#729ACA"/>
<rect x="38.61" y="508.31" width="0.42" height="2.40" fill="#CD7371"/>
<rect x="38.63" y="508.31" width="1.95" height="2.40" fill="#AFC97A"/>
<rect x="40.18" y="508.31" width="0.62" height="2.40" fill="#9983B5"/>
<rect x="35.60" y="504.94" width="0.90" height="2.40" fill="#4F81BD"/>
<rect x="36.10" y="504.94" width="2.06" height="2.40" fill="#C0504D"/>
<rect x="37.76" y="504.94" width="0.58" height="2.40" fill="#9BBB59"/>
<rect x="37.95" y="504.94" width="1.15" height="2.40" fill="#8064A2"/>
<rect x="38.70" y="504.94" width="0.59" height="2.40" fill="#4BACC6"/>
<rect x="38.88" y="504.94" width="0.44" height="2.40" fill="#F79646"/>
<rect x="38.92" y="504.94" width="0.59" height="2.40" fill="#2C4D75"/>
<rect x="39.11" y="504.94" width="0.43" height="2.40" fill="#772C2A"/>
<rect x="39.14" y="504.94" width="0.56" height="2.40" fill="#5F7530"/>
<rect x="39.30" y="504.94" width="0.43" height="2.40" fill="#4D3B62"/>
<rect x="39.33" y="504.94" width="0.50" height="2.40" fill="#276A7C"/>
<rect x="39.42" y="504.94" width="0.42" height="2.40" fill="#B65708"/>
<rect x="39.44" y="504.94" width="0.49" height="2.40" fill="#729ACA"/>
<rect x="39.53" y="504.94" width="0.42" height="2.40" fill="#CD7371"/>
<rect x="39.54" y="504.94" width="1.81" height="2.40" fill="#AFC97A"/>
<rect x="40.96" y="504.94" width="0.87" height="2.40" fill="#9983B5"/>
<rect x="35.60" y="501.57" width="4.69" height="2.40" fill="#4F81BD"/>
<rect x="39.89" y="501.57" width="10.69" height="2.40" fill="#C0504D"/>
<rect x="50.18" y="501.57" width="1.45" height="2.40" fill="#9BBB59"/>
<rect x="51.23" y="501.57" width="4.66" height="2.40" fill="#8064A2"/>
<rect x="55.49" y="501.57" width="1.13" height="2.40" fill="#4BACC6"/>
<rect x="56.22" y="501.57" width="0.57" height="2.40" fill="#F79646"/>
<rect x="56.39" y="501.57" width="1.13" height="2.40" fill="#2C4D75"/>
<rect x="57.12" y="501.57" width="0.50" height="2.40" fill="#772C2A"/>
<rect x="57.23" y="501.57" width="1.03" height="2.40" fill="#5F7530"/>
<rect x="57.86" y="501.57" width="0.53" height="2.40" fill="#4D3B62"/>
<rect x="57.98" y="501.57" width="0.78" height="2.40" fill="#276A7C"/>
<rect x="58.36" y="501.57" width="0.46" height="2.40" fill="#B65708"/>
<rect x="58.42" y="501.57" width="0.76" height="2.40" fill="#729ACA"/>
<rect x="58.78" y="501.57" width="0.46" height="2.40" fill="#CD7371"/>
<rect x="58.84" y="501.57" width="3.68" height="2.40" fill="#AFC97A"/>
<rect x="62.12" y="501.57" width="1.28" height="2.40" fill="#9983B5"/>
<rect x="35.60" y="498.19" width="5.98" height="2.40" fill="#4F81BD"/>
<rect x="41.18" y="498.19" width="12.05" height="2.40" fill="#C0504D"/>
<rect x="52.83" y="498.19" width="1.65" height="2.40" fill="#9BBB59"/>
<rect x="54.08" y="498.19" width="4.64" height="2.40" fill="#8064A2"/>
<rect x="58.32" y="498.19" width="1.11" height="2.40" fill="#4BACC6"/>
<rect x="59.04" y="498.19" width="0.56" height="2.40" fill="#F79646"/>
<rect x="59.20" y="498.19" width="1.11" height="2.40" fill="#2C4D75"/>
<rect x="59.91" y="498.19" width="0.50" height="2.40" fill="#772C2A"/>
<rect x="60.01" y="498.19" width="1.01" height="2.40" fill="#5F7530"/>
<rect x="60.63" y="498.19" width="0.52" height="2.40" fill="#4D3B62"/>
<rect x="60.75" y="498.19" width="0.77" height="2.40" fill="#276A7C"/>
<rect x="61.12" y="498.19" width="0.46" height="2.40" fill="#B65708"/>
<rect x="61.18" y="498.19" width="0.75" height="2.40" fill="#729ACA"/>
<rect x="61.52" y="498.19" width="0.46" height="2.40" fill="#CD7371"/>
<rect x="61.58" y="498.19" width="5.29" height="2.40" fill="#AFC97A"/>
<rect x="66.48" y="498.19" width="0.90" height="2.40" fill="#9983B5"/>
<rect x="35.60" y="494.82" width="2.15" height="2.40" fill="#4F81BD"/>
<rect x="37.35" y="494.82" width="5.08" height="2.40" fill="#C0504D"/>
<rect x="42.03" y="494.82" width="0.97" height="2.40" fill="#9BBB59"/>
<rect x="42.59" y="494.82" width="2.41" height="2.40" fill="#8064A2"/>
<rect x="44.61" y="494.82" width="0.74" height="2.40" fill="#4BACC6"/>
<rect x="44.94" y="494.82" width="0.48" height="2.40" fill="#F79646"/>
<rect x="45.02" y="494.82" width="0.74" height="2.40" fill="#2C4D75"/>
<rect x="45.35" y="494.82" width="0.45" height="2.40" fill="#772C2A"/>
<rect x="45.40" y="494.82" width="0.69" height="2.40" fill="#5F7530"/>
<rect x="45.69" y="494.82" width="0.46" height="2.40" fill="#4D3B62"/>
<rect x="45.74" y="494.82" width="0.57" height="2.40" fill="#276A7C"/>
<rect x="45.92" y="494.82" width="0.43" height="2.40" fill="#B65708"/>
<rect x="45.95" y="494.82" width="0.56" height="2.40" fill="#729ACA"/>
<rect x="46.11" y="494.82" width="0.43" height="2.40" fill="#CD7371"/>
<rect x="46.14" y="494.82" width="1.70" height="2.40" fill="#AFC97A"/>
<rect x="47.44" y="494.82" width="0.93" height="2.40" fill="#9983B5"/>
<rect x="35.60" y="491.45" width="9.60" height="2.40" fill="#4F81BD"/>
<rect x="44.80" y="491.45" width="31.00" height="2.40" fill="#C0504D"/>
<rect x="75.40" y="491.45" width="4.10" height="2.40" fill="#9BBB59"/>
<rect x="79.10" y="491.45" width="15.20" height="2.40" fill="#8064A2"/>
<rect x="93.90" y="491.45" width="3.42" height="2.40" fill="#4BACC6"/>
<rect x="96.92" y="491.45" width="1.09" height="2.40" fill="#F79646"/>
<rect x="97.61" y="491.45" width="3.42" height="2.40" fill="#2C4D75"/>
<rect x="100.63" y="491.45" width="0.83" height="2.40" fill="#772C2A"/>
<rect x="101.06" y="491.45" width="2.99" height="2.40" fill="#5F7530"/>
<rect x="103.65" y="491.45" width="0.92" height="2.40" fill="#4D3B62"/>
<rect x="104.16" y="491.45" width="1.95" height="2.40" fill="#276A7C"/>
<rect x="105.72" y="491.45" width="0.66" height="2.40" fill="#B65708"/>
<rect x="105.97" y="491.45" width="1.87" height="2.40" fill="#729ACA"/>
<rect x="107.44" y="491.45" width="0.66" height="2.40" fill="#CD7371"/>
<rect x="107.70" y="491.45" width="8.90" height="2.40" fill="#AFC97A"/>
<rect x="116.20" y="491.45" width="1.90" height="2.40" fill="#9983B5"/>
<rect x="35.60" y="488.07" width="33.50" height="2.40" fill="#4F81BD"/>
<rect x="68.70" y="488.07" width="114.10" height="2.40" fill="#C0504D"/>
<rect x="182.40" y="488.07" width="15.30" height="2.40" fill="#9BBB59"/>
<rect x="197.30" y="488.07" width="61.20" height="2.40" fill="#8064A2"/>
<rect x="258.10" y="488.07" width="15.30" height="2.40" fill="#4BACC6"/>
<rect x="273.00" y="488.07" width="1.70" height="2.40" fill="#F79646"/>
<rect x="274.30" y="488.07" width="12.70" height="2.40" fill="#2C4D75"/>
<rect x="286.60" y="488.07" width="1.40" height="2.40" fill="#772C2A"/>
<rect x="287.60" y="488.07" width="9.00" height="2.40" fill="#5F7530"/>
<rect x="296.20" y="488.07" width="2.30" height="2.40" fill="#4D3B62"/>
<rect x="298.10" y="488.07" width="4.90" height="2.40" fill="#276A7C"/>
<rect x="302.60" y="488.07" width="2.40" height="2.40" fill="#B65708"/>
<rect x="304.60" y="488.07" width="4.80" height="2.40" fill="#729ACA"/>
<rect x="309.00" y="488.07" width="1.00" height="2.40" fill="#CD7371"/>
<rect x="309.60" y="488.07" width="31.70" height="2.40" fill="#AFC97A"/>
<rect x="340.90" y="488.07" width="3.10" height="2.40" fill="#9983B5"/>
<rect x="35.60" y="484.70" width="21.50" height="2.40" fill="#4F81BD"/>
<rect x="56.70" y="484.70" width="71.60" height="2.40" fill="#C0504D"/>
<rect x="127.90" y="484.70" width="9.50" height="2.40" fill="#9BBB59"/>
<rect x="137.00" y="484.70" width="38.10" height="2.40" fill="#8064A2"/>
<rect x="174.70" y="484.70" width="9.60" height="2.40" fill="#4BACC6"/>
<rect x="183.90" y="484.70" width="1.10" height="2.40" fill="#F79646"/>
<rect x="184.60" y="484.70" width="5.40" height="2.40" fill="#2C4D75"/>
<rect x="189.60" y="484.70" width="1.40" height="2.40" fill="#772C2A"/>
<rect x="190.60" y="484.70" width="5.40" height="2.40" fill="#5F7530"/>
<rect x="195.60" y="484.70" width="1.40" height="2.40" fill="#4D3B62"/>
<rect x="196.60" y="484.70" width="4.40" height="2.40" fill="#276A7C"/>
<rect x="200.60" y="484.70" width="1.40" height="2.40" fill="#B65708"/>
<rect x="201.60" y="484.70" width="2.70" height="2.40" fill="#729ACA"/>
<rect x="203.90" y="484.70" width="0.60" height="2.40" fill="#CD7371"/>
<rect x="204.10" y="484.70" width="18.20" height="2.40" fill="#AFC97A"/>
<rect x="221.90" y="484.70" width="1.90" height="2.40" fill="#9983B5"/>
<rect x="35.60" y="481.33" width="3.50" height="2.40" fill="#4F81BD"/>
<rect x="38.70" y="481.33" width="7.84" height="2.40" fill="#C0504D"/>
<rect x="46.14" y="481.33" width="1.17" height="2.40" fill="#9BBB59"/>
<rect x="46.90" y="481.33" width="3.68" height="2.40" fill="#8064A2"/>
<rect x="50.18" y="481.33" width="0.94" height="2.40" fill="#4BACC6"/>
<rect x="50.72" y="481.33" width="0.52" height="2.40" fill="#F79646"/>
<rect x="50.85" y="481.33" width="0.94" height="2.40" fill="#2C4D75"/>
<rect x="51.39" y="481.33" width="0.48" height="2.40" fill="#772C2A"/>
<rect x="51.47" y="481.33" width="0.87" height="2.40" fill="#5F7530"/>
<rect x="51.93" y="481.33" width="0.49" height="2.40" fill="#4D3B62"/>
<rect x="52.03" y="481.33" width="0.68" height="2.40" fill="#276A7C"/>
<rect x="52.31" y="481.33" width="0.45" height="2.40" fill="#B65708"/>
<rect x="52.35" y="481.33" width="0.66" height="2.40" fill="#729ACA"/>
<rect x="52.62" y="481.33" width="0.45" height="2.40" fill="#CD7371"/>
<rect x="52.66" y="481.33" width="2.86" height="2.40" fill="#AFC97A"/>
<rect x="55.13" y="481.33" width="1.28" height="2.40" fill="#9983B5"/>
<rect x="35.60" y="477.95" width="7.20" height="2.40" fill="#4F81BD"/>
<rect x="42.40" y="477.95" width="25.60" height="2.40" fill="#C0504D"/>
<rect x="67.60" y="477.95" width="3.30" height="2.40" fill="#9BBB59"/>
<rect x="70.50" y="477.95" width="14.20" height="2.40" fill="#8064A2"/>
<rect x="84.30" y="477.95" width="3.66" height="2.40" fill="#4BACC6"/>
<rect x="87.56" y="477.95" width="1.15" height="2.40" fill="#F79646"/>
<rect x="88.30" y="477.95" width="3.66" height="2.40" fill="#2C4D75"/>
<rect x="91.56" y="477.95" width="0.87" height="2.40" fill="#772C2A"/>
<rect x="92.03" y="477.95" width="3.19" height="2.40" fill="#5F7530"/>
<rect x="94.82" y="477.95" width="0.96" height="2.40" fill="#4D3B62"/>
<rect x="95.38" y="477.95" width="2.08" height="2.40" fill="#276A7C"/>
<rect x="97.06" y="477.95" width="0.68" height="2.40" fill="#B65708"/>
<rect x="97.34" y="477.95" width="1.98" height="2.40" fill="#729ACA"/>
<rect x="98.92" y="477.95" width="0.68" height="2.40" fill="#CD7371"/>
<rect x="99.20" y="477.95" width="11.80" height="2.40" fill="#AFC97A"/>
<rect x="110.60" y="477.95" width="1.30" height="2.40" fill="#9983B5"/>
<rect x="35.60" y="474.58" width="8.30" height="2.40" fill="#4F81BD"/>
<rect x="43.50" y="474.58" width="25.30" height="2.40" fill="#C0504D"/>
<rect x="68.40" y="474.58" width="3.60" height="2.40" fill="#9BBB59"/>
<rect x="71.60" y="474.58" width="13.10" height="2.40" fill="#8064A2"/>
<rect x="84.30" y="474.58" width="2.67" height="2.40" fill="#4BACC6"/>
<rect x="86.57" y="474.58" width="0.92" height="2.40" fill="#F79646"/>
<rect x="87.09" y="474.58" width="2.67" height="2.40" fill="#2C4D75"/>
<rect x="89.37" y="474.58" width="0.73" height="2.40" fill="#772C2A"/>
<rect x="89.69" y="474.58" width="2.35" height="2.40" fill="#5F7530"/>
<rect x="91.64" y="474.58" width="0.79" height="2.40" fill="#4D3B62"/>
<rect x="92.03" y="474.58" width="1.57" height="2.40" fill="#276A7C"/>
<rect x="93.20" y="474.58" width="0.59" height="2.40" fill="#B65708"/>
<rect x="93.40" y="474.58" width="1.51" height="2.40" fill="#729ACA"/>
<rect x="94.50" y="474.58" width="0.59" height="2.40" fill="#CD7371"/>
<rect x="94.70" y="474.58" width="13.20" height="2.40" fill="#AFC97A"/>
<rect x="107.50" y="474.58" width="0.90" height="2.40" fill="#9983B5"/>
<rect x="35.60" y="471.21" width="5.69" height="2.40" fill="#4F81BD"/>
<rect x="40.89" y="471.21" width="14.28" height="2.40" fill="#C0504D"/>
<rect x="54.78" y="471.21" width="1.81" height="2.40" fill="#9BBB59"/>
<rect x="56.19" y="471.21" width="5.79" height="2.40" fill="#8064A2"/>
<rect x="61.58" y="471.21" width="1.37" height="2.40" fill="#4BACC6"/>
<rect x="62.55" y="471.21" width="0.62" height="2.40" fill="#F79646"/>
<rect x="62.77" y="471.21" width="1.37" height="2.40" fill="#2C4D75"/>
<rect x="63.74" y="471.21" width="0.54" height="2.40" fill="#772C2A"/>
<rect x="63.88" y="471.21" width="1.23" height="2.40" fill="#5F7530"/>
<rect x="64.71" y="471.21" width="0.57" height="2.40" fill="#4D3B62"/>
<rect x="64.88" y="471.21" width="0.90" height="2.40" fill="#276A7C"/>
<rect x="65.38" y="471.21" width="0.48" height="2.40" fill="#B65708"/>
<rect x="65.46" y="471.21" width="0.87" height="2.40" fill="#729ACA"/>
<rect x="65.93" y="471.21" width="0.48" height="2.40" fill="#CD7371"/>
<rect x="66.01" y="471.21" width="7.64" height="2.40" fill="#AFC97A"/>
<rect x="73.25" y="471.21" width="0.75" height="2.40" fill="#9983B5"/>
<rect x="35.60" y="467.83" width="5.04" height="2.40" fill="#4F81BD"/>
<rect x="40.24" y="467.83" width="13.77" height="2.40" fill="#C0504D"/>
<rect x="53.61" y="467.83" width="1.91" height="2.40" fill="#9BBB59"/>
<rect x="55.13" y="467.83" width="5.44" height="2.40" fill="#8064A2"/>
<rect x="60.17" y="467.83" width="1.37" height="2.40" fill="#4BACC6"/>
<rect x="61.14" y="467.83" width="0.62" height="2.40" fill="#F79646"/>
<rect x="61.36" y="467.83" width="1.37" height="2.40" fill="#2C4D75"/>
<rect x="62.33" y="467.83" width="0.54" height="2.40" fill="#772C2A"/>
<rect x="62.47" y="467.83" width="1.23" height="2.40" fill="#5F7530"/>
<rect x="63.30" y="467.83" width="0.57" height="2.40" fill="#4D3B62"/>
<rect x="63.46" y="467.83" width="0.90" height="2.40" fill="#276A7C"/>
<rect x="63.96" y="467.83" width="0.48" height="2.40" fill="#B65708"/>
<rect x="64.04" y="467.83" width="0.87" height="2.40" fill="#729ACA"/>
<rect x="64.51" y="467.83" width="0.48" height="2.40" fill="#CD7371"/>
<rect x="64.60" y="467.83" width="8.01" height="2.40" fill="#AFC97A"/>
<rect x="72.20" y="467.83" width="0.77" height="2.40" fill="#9983B5"/>
<rect x="35.60" y="464.46" width="3.50" height="2.40" fill="#4F81BD"/>
<rect x="38.70" y="464.46" width="8.44" height="2.40" fill="#C0504D"/>
<rect x="46.74" y="464.46" width="1.10" height="2.40" fill="#9BBB59"/>
<rect x="47.44" y="464.46" width="3.85" height="2.40" fill="#8064A2"/>
<rect x="50.88" y="464.46" width="1.18" height="2.40" fill="#4BACC6"/>
<rect x="51.66" y="464.46" width="0.58" height="2.40" fill="#F79646"/>
<rect x="51.83" y="464.46" width="1.18" height="2.40" fill="#2C4D75"/>
<rect x="52.61" y="464.46" width="0.51" height="2.40" fill="#772C2A"/>
<rect x="52.72" y="464.46" width="1.06" height="2.40" fill="#5F7530"/>
<rect x="53.39" y="464.46" width="0.53" height="2.40" fill="#4D3B62"/>
<rect x="53.52" y="464.46" width="0.80" height="2.40" fill="#276A7C"/>
<rect x="53.92" y="464.46" width="0.47" height="2.40" fill="#B65708"/>
<rect x="53.98" y="464.46" width="0.78" height="2.40" fill="#729ACA"/>
<rect x="54.36" y="464.46" width="0.47" height="2.40" fill="#CD7371"/>
<rect x="54.43" y="464.46" width="5.18" height="2.40" fill="#AFC97A"/>
<rect x="59.20" y="464.46" width="1.03" height="2.40" fill="#9983B5"/>
<rect x="35.60" y="461.09" width="6.33" height="2.40" fill="#4F81BD"/>
<rect x="41.53" y="461.09" width="17.01" height="2.40" fill="#C0504D"/>
<rect x="58.14" y="461.09" width="2.35" height="2.40" fill="#9BBB59"/>
<rect x="60.09" y="461.09" width="8.97" height="2.40" fill="#8064A2"/>
<rect x="68.66" y="461.09" width="2.16" height="2.40" fill="#4BACC6"/>
<rect x="70.42" y="461.09" width="0.80" height="2.40" fill="#F79646"/>
<rect x="70.82" y="461.09" width="2.16" height="2.40" fill="#2C4D75"/>
<rect x="72.59" y="461.09" width="0.65" height="2.40" fill="#772C2A"/>
<rect x="72.84" y="461.09" width="1.91" height="2.40" fill="#5F7530"/>
<rect x="74.35" y="461.09" width="0.70" height="2.40" fill="#4D3B62"/>
<rect x="74.65" y="461.09" width="1.31" height="2.40" fill="#276A7C"/>
<rect x="75.56" y="461.09" width="0.55" height="2.40" fill="#B65708"/>
<rect x="75.71" y="461.09" width="1.26" height="2.40" fill="#729ACA"/>
<rect x="76.57" y="461.09" width="0.55" height="2.40" fill="#CD7371"/>
<rect x="76.72" y="461.09" width="7.82" height="2.40" fill="#AFC97A"/>
<rect x="84.14" y="461.09" width="0.60" height="2.40" fill="#9983B5"/>
</g>
<line x1="89.03" y1="460.6" x2="89.03" y2="511.2" stroke="#BFBFBF" stroke-width="1" opacity="0.3"/>
<line x1="142.46" y1="460.6" x2="142.46" y2="511.2" stroke="#BFBFBF" stroke-width="1" opacity="0.3"/>
<line x1="195.89" y1="460.6" x2="195.89" y2="511.2" stroke="#BFBFBF" stroke-width="1" opacity="0.3"/>
<line x1="249.32" y1="460.6" x2="249.32" y2="511.2" stroke="#BFBFBF" stroke-width="1" opacity="0.3"/>
<line x1="302.75" y1="460.6" x2="302.75" y2="511.2" stroke="#BFBFBF" stroke-width="1" opacity="0.3"/>
<path d="M35.5 460.6 H356.2 V511.2 H35.5 Z" fill="none" stroke="#F0F0F0" stroke-width="1.25"/>
<line x1="31.8" y1="511.20" x2="35.5" y2="511.20" stroke="#F0F0F0" stroke-width="1.0"/>
<line x1="32.4" y1="507.83" x2="35.5" y2="507.83" stroke="#F0F0F0" stroke-width="0.8"/>
<line x1="32.4" y1="504.45" x2="35.5" y2="504.45" stroke="#F0F0F0" stroke-width="0.8"/>
<line x1="32.4" y1="501.08" x2="35.5" y2="501.08" stroke="#F0F0F0" stroke-width="0.8"/>
<line x1="32.4" y1="497.71" x2="35.5" y2="497.71" stroke="#F0F0F0" stroke-width="0.8"/>
<line x1="31.8" y1="494.33" x2="35.5" y2="494.33" stroke="#F0F0F0" stroke-width="1.0"/>
<line x1="32.4" y1="490.96" x2="35.5" y2="490.96" stroke="#F0F0F0" stroke-width="0.8"/>
<line x1="32.4" y1="487.59" x2="35.5" y2="487.59" stroke="#F0F0F0" stroke-width="0.8"/>
<line x1="32.4" y1="484.21" x2="35.5" y2="484.21" stroke="#F0F0F0" stroke-width="0.8"/>
<line x1="32.4" y1="480.84" x2="35.5" y2="480.84" stroke="#F0F0F0" stroke-width="0.8"/>
<line x1="31.8" y1="477.47" x2="35.5" y2="477.47" stroke="#F0F0F0" stroke-width="1.0"/>
<line x1="32.4" y1="474.09" x2="35.5" y2="474.09" stroke="#F0F0F0" stroke-width="0.8"/>
<line x1="32.4" y1="470.72" x2="35.5" y2="470.72" stroke="#F0F0F0" stroke-width="0.8"/>
<line x1="32.4" y1="467.35" x2="35.5" y2="467.35" stroke="#F0F0F0" stroke-width="0.8"/>
<line x1="32.4" y1="463.97" x2="35.5" y2="463.97" stroke="#F0F0F0" stroke-width="0.8"/>
<line x1="31.8" y1="460.60" x2="35.5" y2="460.60" stroke="#F0F0F0" stroke-width="1.0"/>
<line x1="35.60" y1="511.2" x2="35.60" y2="514.2" stroke="#F0F0F0" stroke-width="1"/>
<line x1="356.18" y1="511.2" x2="356.18" y2="514.2" stroke="#F0F0F0" stroke-width="1"/>
<path d="M36 18.1 L230 19.1 L309 20.9 Q310.5 20.9 310.5 22.3 L310.5 55.8 Q310.5 57.2 309 57.2 L280 58.3 L240 59.3 L150 60.2 L36 60.2" fill="none" stroke="#F00000" stroke-width="1.15" stroke-linejoin="round"/>
<path d="M36 60.3 L280 60.5 L308.2 61.2 Q309.3 61.2 309.3 62.4 L309.3 71.9 Q309.3 73.1 308.2 73.1 L280 73.6 L36 73.8" fill="none" stroke="#F00000" stroke-width="1.15" stroke-linejoin="round"/>
<path d="M36 78.5 L150 79.1 L230 81.9 L280 83.7 L303 86.0 Q309.6 86.0 309.6 89.5 L309.6 182.8 Q309.6 186.3 303 186.3 L280 187.9 L180 193.0 L36 193.0" fill="none" stroke="#F00000" stroke-width="1.15" stroke-linejoin="round"/>
<path d="M36 193.2 L180 194.4 L330 194.8 L349 196.7 Q353.6 196.7 353.6 201 L353.6 238.5 Q353.6 242 349 242 L270 245.3 L150 245.6 L36 245.8" fill="none" stroke="#F00000" stroke-width="1.15" stroke-linejoin="round"/>
<path d="M36 245.9 L150 245.9 L270 247.8 L305.9 249.9 Q310.2 249.9 310.2 254 L310.2 309.5 Q310.2 313.3 305.9 313.3 L266 315.7 L36 318.5" fill="none" stroke="#F00000" stroke-width="1.15" stroke-linejoin="round"/>
<path d="M36 318.6 L308.0 319.1 Q309.3 319.1 309.3 320.4 L309.3 324.6 Q309.3 325.6 308.0 325.6 L36 326.0" fill="none" stroke="#F00000" stroke-width="1.15" stroke-linejoin="round"/>
<path d="M36 326.4 L266 327.3 L306.5 328.2 Q309.5 328.2 309.5 331 L309.5 347 Q309.5 349.5 306 349.5 L266 350.3 L36 351.2" fill="none" stroke="#F00000" stroke-width="1.15" stroke-linejoin="round"/>
<path d="M36 351.6 L266 351.9 L306 352.7 Q309.1 352.7 309.1 355.5 L309.1 377.5 Q309.1 380.5 305 380.5 L266 381.5 L36 382.6" fill="none" stroke="#F00000" stroke-width="1.15" stroke-linejoin="round"/>
<path d="M36 383.0 L266 383.6 L307 384.4 Q310.3 384.4 310.3 387 L310.3 394 Q310.3 396.6 307 396.6 L36 397.0" fill="none" stroke="#F00000" stroke-width="1.15" stroke-linejoin="round"/>
<path d="M36 397.6 L266 400.2 L307.5 401.3 Q311.7 401.3 311.7 404.5 L311.7 433.5 Q311.7 436.8 307.5 436.8 L266 438.7 L36 439.8" fill="none" stroke="#F00000" stroke-width="1.15" stroke-linejoin="round"/>
<rect x="314" y="22.7" width="44.5" height="24.000000000000004" fill="#000" fill-opacity="1"/>
<rect x="312" y="121.5" width="46.5" height="23.80000000000001" fill="#000" fill-opacity="0.7"/>
<rect x="266" y="229.6" width="86" height="12.200000000000017" fill="#000" fill-opacity="1"/>
<rect x="312" y="319.5" width="46.5" height="13.100000000000023" fill="#000" fill-opacity="0.7"/>
<text x="320.20" y="29.90" font-family="Liberation Sans, sans-serif" font-size="8.2" font-weight="normal" text-anchor="start" fill="#F2F2F2" textLength="18.92" lengthAdjust="spacingAndGlyphs" stroke="#F2F2F2" stroke-width="0.25">Eagle</text>
<text x="320.20" y="38.10" font-family="Liberation Sans, sans-serif" font-size="8.2" font-weight="normal" text-anchor="start" fill="#F2F2F2" textLength="16.95" lengthAdjust="spacingAndGlyphs" stroke="#F2F2F2" stroke-width="0.25">Pass,</text>
<text x="320.20" y="46.50" font-family="Liberation Sans, sans-serif" font-size="8.2" font-weight="normal" text-anchor="start" fill="#F2F2F2" textLength="19.97" lengthAdjust="spacingAndGlyphs" stroke="#F2F2F2" stroke-width="0.25">Texas</text>
<text x="318.30" y="63.00" font-family="Liberation Sans, sans-serif" font-size="8.2" font-weight="normal" text-anchor="start" fill="#F2F2F2" textLength="32.74" lengthAdjust="spacingAndGlyphs" stroke="#F2F2F2" stroke-width="0.25">Southern</text>
<text x="318.30" y="72.10" font-family="Liberation Sans, sans-serif" font-size="8.2" font-weight="normal" text-anchor="start" fill="#F2F2F2" textLength="27.57" lengthAdjust="spacingAndGlyphs" stroke="#F2F2F2" stroke-width="0.25">Border,</text>
<text x="318.20" y="79.70" font-family="Liberation Sans, sans-serif" font-size="8.2" font-weight="normal" text-anchor="start" fill="#F2F2F2" textLength="20.22" lengthAdjust="spacingAndGlyphs" stroke="#F2F2F2" stroke-width="0.25">Texas</text>
<text x="316.20" y="126.70" font-family="Liberation Sans, sans-serif" font-size="8.2" font-weight="normal" text-anchor="start" fill="#F2F2F2" textLength="13.06" lengthAdjust="spacingAndGlyphs" stroke="#F2F2F2" stroke-width="0.25">San</text>
<text x="316.20" y="135.10" font-family="Liberation Sans, sans-serif" font-size="8.2" font-weight="normal" text-anchor="start" fill="#F2F2F2" textLength="27.67" lengthAdjust="spacingAndGlyphs" stroke="#F2F2F2" stroke-width="0.25">Miguel,</text>
<text x="316.20" y="143.90" font-family="Liberation Sans, sans-serif" font-size="8.2" font-weight="normal" text-anchor="start" fill="#F2F2F2" textLength="20.57" lengthAdjust="spacingAndGlyphs" stroke="#F2F2F2" stroke-width="0.25">Texas</text>
<text x="269.10" y="238.50" font-family="Liberation Sans, sans-serif" font-size="8.8" font-weight="normal" text-anchor="start" fill="#F2F2F2" textLength="80.25" lengthAdjust="spacingAndGlyphs" stroke="#F2F2F2" stroke-width="0.25">Gibbons Creek, Texas</text>
<text x="312.40" y="269.90" font-family="Liberation Sans, sans-serif" font-size="8.2" font-weight="normal" text-anchor="start" fill="#F2F2F2" textLength="41.06" lengthAdjust="spacingAndGlyphs" stroke="#F2F2F2" stroke-width="0.25">Wilcox Fm,</text>
<text x="312.40" y="281.70" font-family="Liberation Sans, sans-serif" font-size="8.2" font-weight="normal" text-anchor="start" fill="#F2F2F2" textLength="19.01" lengthAdjust="spacingAndGlyphs" stroke="#F2F2F2" stroke-width="0.25">Texas</text>
<text x="314.30" y="320.00" font-family="Liberation Sans, sans-serif" font-size="8.2" font-weight="normal" text-anchor="start" fill="#F2F2F2" textLength="42.32" lengthAdjust="spacingAndGlyphs" stroke="#F2F2F2" stroke-width="0.25">Tennessee,</text>
<text x="314.30" y="328.50" font-family="Liberation Sans, sans-serif" font-size="8.2" font-weight="normal" text-anchor="start" fill="#F2F2F2" textLength="32.41" lengthAdjust="spacingAndGlyphs" stroke="#F2F2F2" stroke-width="0.25">Kentucky</text>
<text x="312.60" y="341.10" font-family="Liberation Sans, sans-serif" font-size="8.2" font-weight="normal" text-anchor="start" fill="#F2F2F2" textLength="40.71" lengthAdjust="spacingAndGlyphs" stroke="#F2F2F2" stroke-width="0.25">Mississippi</text>
<text x="314.50" y="367.90" font-family="Liberation Sans, sans-serif" font-size="8.2" font-weight="normal" text-anchor="start" fill="#F2F2F2" textLength="34.42" lengthAdjust="spacingAndGlyphs" stroke="#F2F2F2" stroke-width="0.25">Louisiana</text>
<text x="316.30" y="391.10" font-family="Liberation Sans, sans-serif" font-size="8.2" font-weight="normal" text-anchor="start" fill="#F2F2F2" textLength="33.09" lengthAdjust="spacingAndGlyphs" stroke="#F2F2F2" stroke-width="0.25">Arkansas</text>
<text x="315.40" y="421.00" font-family="Liberation Sans, sans-serif" font-size="8.2" font-weight="normal" text-anchor="start" fill="#F2F2F2" textLength="32.59" lengthAdjust="spacingAndGlyphs" stroke="#F2F2F2" stroke-width="0.25">Alabama</text>
<text x="256.90" y="479.20" font-family="Liberation Sans, sans-serif" font-size="8.4" font-weight="normal" text-anchor="start" fill="#F2F2F2" textLength="80.67" lengthAdjust="spacingAndGlyphs" stroke="#F2F2F2" stroke-width="0.25">Gibbons Creek, Texas</text>
<text x="15.32" y="535.90" font-family="Liberation Sans, sans-serif" font-size="8.9" font-weight="normal" text-anchor="start" fill="#F2F2F2" textLength="8.41" lengthAdjust="spacingAndGlyphs" stroke="#F2F2F2" stroke-width="0.25">La</text>
<text x="37.15" y="535.90" font-family="Liberation Sans, sans-serif" font-size="8.9" font-weight="normal" text-anchor="start" fill="#F2F2F2" textLength="9.67" lengthAdjust="spacingAndGlyphs" stroke="#F2F2F2" stroke-width="0.25">Ce</text>
<text x="59.70" y="535.90" font-family="Liberation Sans, sans-serif" font-size="8.9" font-weight="normal" text-anchor="start" fill="#F2F2F2" textLength="7.57" lengthAdjust="spacingAndGlyphs" stroke="#F2F2F2" stroke-width="0.25">Pr</text>
<text x="80.30" y="535.90" font-family="Liberation Sans, sans-serif" font-size="8.9" font-weight="normal" text-anchor="start" fill="#F2F2F2" textLength="9.67" lengthAdjust="spacingAndGlyphs" stroke="#F2F2F2" stroke-width="0.25">Nd</text>
<text x="104.90" y="535.90" font-family="Liberation Sans, sans-serif" font-size="8.9" font-weight="normal" text-anchor="start" fill="#F2F2F2" textLength="12.25" lengthAdjust="spacingAndGlyphs" stroke="#F2F2F2" stroke-width="0.25">Sm</text>
<text x="129.66" y="535.90" font-family="Liberation Sans, sans-serif" font-size="8.9" font-weight="normal" text-anchor="start" fill="#F2F2F2" textLength="9.25" lengthAdjust="spacingAndGlyphs" stroke="#F2F2F2" stroke-width="0.25">Eu</text>
<text x="151.92" y="535.90" font-family="Liberation Sans, sans-serif" font-size="8.9" font-weight="normal" text-anchor="start" fill="#F2F2F2" textLength="10.09" lengthAdjust="spacingAndGlyphs" stroke="#F2F2F2" stroke-width="0.25">Gd</text>
<text x="174.86" y="535.90" font-family="Liberation Sans, sans-serif" font-size="8.9" font-weight="normal" text-anchor="start" fill="#F2F2F2" textLength="8.83" lengthAdjust="spacingAndGlyphs" stroke="#F2F2F2" stroke-width="0.25">Tb</text>
<text x="197.65" y="535.90" font-family="Liberation Sans, sans-serif" font-size="8.9" font-weight="normal" text-anchor="start" fill="#F2F2F2" textLength="9.25" lengthAdjust="spacingAndGlyphs" stroke="#F2F2F2" stroke-width="0.25">Dy</text>
<text x="220.60" y="535.90" font-family="Liberation Sans, sans-serif" font-size="8.9" font-weight="normal" text-anchor="start" fill="#F2F2F2" textLength="12.03" lengthAdjust="spacingAndGlyphs" stroke="#F2F2F2" stroke-width="0.25">Ho</text>
<text x="245.22" y="535.90" font-family="Liberation Sans, sans-serif" font-size="8.9" font-weight="normal" text-anchor="start" fill="#F2F2F2" textLength="7.57" lengthAdjust="spacingAndGlyphs" stroke="#F2F2F2" stroke-width="0.25">Er</text>
<text x="266.43" y="535.90" font-family="Liberation Sans, sans-serif" font-size="8.9" font-weight="normal" text-anchor="start" fill="#F2F2F2" textLength="10.92" lengthAdjust="spacingAndGlyphs" stroke="#F2F2F2" stroke-width="0.25">Tm</text>
<text x="291.04" y="535.90" font-family="Liberation Sans, sans-serif" font-size="8.9" font-weight="normal" text-anchor="start" fill="#F2F2F2" textLength="9.25" lengthAdjust="spacingAndGlyphs" stroke="#F2F2F2" stroke-width="0.25">Yb</text>
<text x="313.87" y="535.90" font-family="Liberation Sans, sans-serif" font-size="8.9" font-weight="normal" text-anchor="start" fill="#F2F2F2" textLength="8.41" lengthAdjust="spacingAndGlyphs" stroke="#F2F2F2" stroke-width="0.25">Lu</text>
<text x="335.02" y="535.90" font-family="Liberation Sans, sans-serif" font-size="8.9" font-weight="normal" text-anchor="start" fill="#F2F2F2" textLength="5.05" lengthAdjust="spacingAndGlyphs" stroke="#F2F2F2" stroke-width="0.25">Y</text>
<text x="352.75" y="535.90" font-family="Liberation Sans, sans-serif" font-size="8.9" font-weight="normal" text-anchor="start" fill="#F2F2F2" textLength="8.83" lengthAdjust="spacingAndGlyphs" stroke="#F2F2F2" stroke-width="0.25">Sc</text>
<text x="169.30" y="543.10" font-family="Liberation Sans, sans-serif" font-size="8.4" font-weight="normal" text-anchor="start" fill="#F2F2F2" textLength="52.90" lengthAdjust="spacingAndGlyphs" stroke="#F2F2F2" stroke-width="0.5">REE (ppm coal)</text>
<text x="30.50" y="442.10" font-family="Liberation Sans, sans-serif" font-size="8.3" font-weight="normal" text-anchor="end" fill="#F2F2F2">0</text>
<text x="30.50" y="424.15" font-family="Liberation Sans, sans-serif" font-size="8.3" font-weight="normal" text-anchor="end" fill="#F2F2F2">5</text>
<text x="30.50" y="406.20" font-family="Liberation Sans, sans-serif" font-size="8.3" font-weight="normal" text-anchor="end" fill="#F2F2F2">10</text>
<text x="30.50" y="388.24" font-family="Liberation Sans, sans-serif" font-size="8.3" font-weight="normal" text-anchor="end" fill="#F2F2F2">15</text>
<text x="30.50" y="370.29" font-family="Liberation Sans, sans-serif" font-size="8.3" font-weight="normal" text-anchor="end" fill="#F2F2F2">20</text>
<text x="30.50" y="352.34" font-family="Liberation Sans, sans-serif" font-size="8.3" font-weight="normal" text-anchor="end" fill="#F2F2F2">25</text>
<text x="30.50" y="334.38" font-family="Liberation Sans, sans-serif" font-size="8.3" font-weight="normal" text-anchor="end" fill="#F2F2F2">30</text>
<text x="30.50" y="316.43" font-family="Liberation Sans, sans-serif" font-size="8.3" font-weight="normal" text-anchor="end" fill="#F2F2F2">35</text>
<text x="30.50" y="298.48" font-family="Liberation Sans, sans-serif" font-size="8.3" font-weight="normal" text-anchor="end" fill="#F2F2F2">40</text>
<text x="30.50" y="280.52" font-family="Liberation Sans, sans-serif" font-size="8.3" font-weight="normal" text-anchor="end" fill="#F2F2F2">45</text>
<text x="30.50" y="262.57" font-family="Liberation Sans, sans-serif" font-size="8.3" font-weight="normal" text-anchor="end" fill="#F2F2F2">50</text>
<text x="30.50" y="244.62" font-family="Liberation Sans, sans-serif" font-size="8.3" font-weight="normal" text-anchor="end" fill="#F2F2F2">55</text>
<text x="30.50" y="226.66" font-family="Liberation Sans, sans-serif" font-size="8.3" font-weight="normal" text-anchor="end" fill="#F2F2F2">60</text>
<text x="30.50" y="208.71" font-family="Liberation Sans, sans-serif" font-size="8.3" font-weight="normal" text-anchor="end" fill="#F2F2F2">65</text>
<text x="30.50" y="190.76" font-family="Liberation Sans, sans-serif" font-size="8.3" font-weight="normal" text-anchor="end" fill="#F2F2F2">70</text>
<text x="30.50" y="172.80" font-family="Liberation Sans, sans-serif" font-size="8.3" font-weight="normal" text-anchor="end" fill="#F2F2F2">75</text>
<text x="30.50" y="154.85" font-family="Liberation Sans, sans-serif" font-size="8.3" font-weight="normal" text-anchor="end" fill="#F2F2F2">80</text>
<text x="30.50" y="136.90" font-family="Liberation Sans, sans-serif" font-size="8.3" font-weight="normal" text-anchor="end" fill="#F2F2F2">85</text>
<text x="30.50" y="118.94" font-family="Liberation Sans, sans-serif" font-size="8.3" font-weight="normal" text-anchor="end" fill="#F2F2F2">90</text>
<text x="30.50" y="100.99" font-family="Liberation Sans, sans-serif" font-size="8.3" font-weight="normal" text-anchor="end" fill="#F2F2F2">95</text>
<text x="30.50" y="83.04" font-family="Liberation Sans, sans-serif" font-size="8.3" font-weight="normal" text-anchor="end" fill="#F2F2F2">100</text>
<text x="30.50" y="65.08" font-family="Liberation Sans, sans-serif" font-size="8.3" font-weight="normal" text-anchor="end" fill="#F2F2F2">105</text>
<text x="30.50" y="47.13" font-family="Liberation Sans, sans-serif" font-size="8.3" font-weight="normal" text-anchor="end" fill="#F2F2F2">110</text>
<text x="30.50" y="29.18" font-family="Liberation Sans, sans-serif" font-size="8.3" font-weight="normal" text-anchor="end" fill="#F2F2F2">115</text>
<text x="36.00" y="456.00" font-family="Liberation Sans, sans-serif" font-size="8.6" font-weight="normal" text-anchor="middle" fill="#F2F2F2">0</text>
<text x="100.20" y="456.00" font-family="Liberation Sans, sans-serif" font-size="8.6" font-weight="normal" text-anchor="middle" fill="#F2F2F2">100</text>
<text x="164.40" y="456.00" font-family="Liberation Sans, sans-serif" font-size="8.6" font-weight="normal" text-anchor="middle" fill="#F2F2F2">200</text>
<text x="228.60" y="456.00" font-family="Liberation Sans, sans-serif" font-size="8.6" font-weight="normal" text-anchor="middle" fill="#F2F2F2">300</text>
<text x="292.80" y="456.00" font-family="Liberation Sans, sans-serif" font-size="8.6" font-weight="normal" text-anchor="middle" fill="#F2F2F2">400</text>
<text x="357.00" y="456.00" font-family="Liberation Sans, sans-serif" font-size="8.6" font-weight="normal" text-anchor="middle" fill="#F2F2F2">500</text>
<text x="29.80" y="512.41" font-family="Liberation Sans, sans-serif" font-size="8.3" font-weight="normal" text-anchor="end" fill="#F2F2F2">54</text>
<text x="29.80" y="495.55" font-family="Liberation Sans, sans-serif" font-size="8.3" font-weight="normal" text-anchor="end" fill="#F2F2F2">59</text>
<text x="29.80" y="478.68" font-family="Liberation Sans, sans-serif" font-size="8.3" font-weight="normal" text-anchor="end" fill="#F2F2F2">64</text>
<text x="35.60" y="526.20" font-family="Liberation Sans, sans-serif" font-size="8.3" font-weight="normal" text-anchor="middle" fill="#F2F2F2">0</text>
<text x="89.03" y="526.20" font-family="Liberation Sans, sans-serif" font-size="8.3" font-weight="normal" text-anchor="middle" fill="#F2F2F2">500</text>
<text x="142.46" y="526.20" font-family="Liberation Sans, sans-serif" font-size="8.3" font-weight="normal" text-anchor="middle" fill="#F2F2F2">1,000</text>
<text x="195.89" y="526.20" font-family="Liberation Sans, sans-serif" font-size="8.3" font-weight="normal" text-anchor="middle" fill="#F2F2F2">1,500</text>
<text x="249.32" y="526.20" font-family="Liberation Sans, sans-serif" font-size="8.3" font-weight="normal" text-anchor="middle" fill="#F2F2F2">2,000</text>
<text x="302.75" y="526.20" font-family="Liberation Sans, sans-serif" font-size="8.3" font-weight="normal" text-anchor="middle" fill="#F2F2F2">2,500</text>
<text x="356.18" y="526.20" font-family="Liberation Sans, sans-serif" font-size="8.3" font-weight="normal" text-anchor="middle" fill="#F2F2F2">3,000</text>
<text transform="translate(15,224) rotate(-90)" font-family="Liberation Sans, sans-serif" font-size="9.4" font-weight="bold" text-anchor="middle" fill="#F2F2F2" textLength="60.7" lengthAdjust="spacingAndGlyphs">Sample Number</text>
<text transform="translate(16.4,493) rotate(-90)" font-family="Liberation Sans, sans-serif" font-size="9.4" font-weight="bold" text-anchor="middle" fill="#F2F2F2" textLength="60.9" lengthAdjust="spacingAndGlyphs">Sample Number</text>
<clipPath id="cpk"><rect x="168" y="457.5" width="20" height="2.6"/></clipPath>
<text x="169.5" y="464.9" font-family="Liberation Sans, sans-serif" font-size="8.4" fill="#707070" clip-path="url(#cpk)" textLength="53" lengthAdjust="spacingAndGlyphs">REE (ppm coal)</text>
<rect x="372" y="522.9" width="1.4" height="1" fill="#000"/>
<rect x="9.5" y="531.8" width="4.2" height="4.0" fill="#4F81BD"/>
<rect x="30.5" y="531.8" width="4.2" height="4.0" fill="#C0504D"/>
<rect x="53.400000000000006" y="531.8" width="4.2" height="4.0" fill="#9BBB59"/>
<rect x="74.10000000000001" y="531.8" width="4.2" height="4.0" fill="#8064A2"/>
<rect x="98.4" y="531.8" width="4.2" height="4.0" fill="#4BACC6"/>
<rect x="123.3" y="531.8" width="4.2" height="4.0" fill="#F79646"/>
<rect x="145.29999999999998" y="531.8" width="4.2" height="4.0" fill="#2C4D75"/>
<rect x="169.2" y="531.8" width="4.2" height="4.0" fill="#772C2A"/>
<rect x="192.29999999999998" y="531.8" width="4.2" height="4.0" fill="#5F7530"/>
<rect x="214.7" y="531.8" width="4.2" height="4.0" fill="#4D3B62"/>
<rect x="238.79999999999998" y="531.8" width="4.2" height="4.0" fill="#276A7C"/>
<rect x="259.5" y="531.8" width="4.2" height="4.0" fill="#B65708"/>
<rect x="284.5" y="531.8" width="4.2" height="4.0" fill="#729ACA"/>
<rect x="306.8" y="531.8" width="4.2" height="4.0" fill="#CD7371"/>
<rect x="328.7" y="531.8" width="4.2" height="4.0" fill="#AFC97A"/>
<rect x="346.59999999999997" y="531.8" width="4.2" height="4.0" fill="#9983B5"/>
</svg>
</body></html>
